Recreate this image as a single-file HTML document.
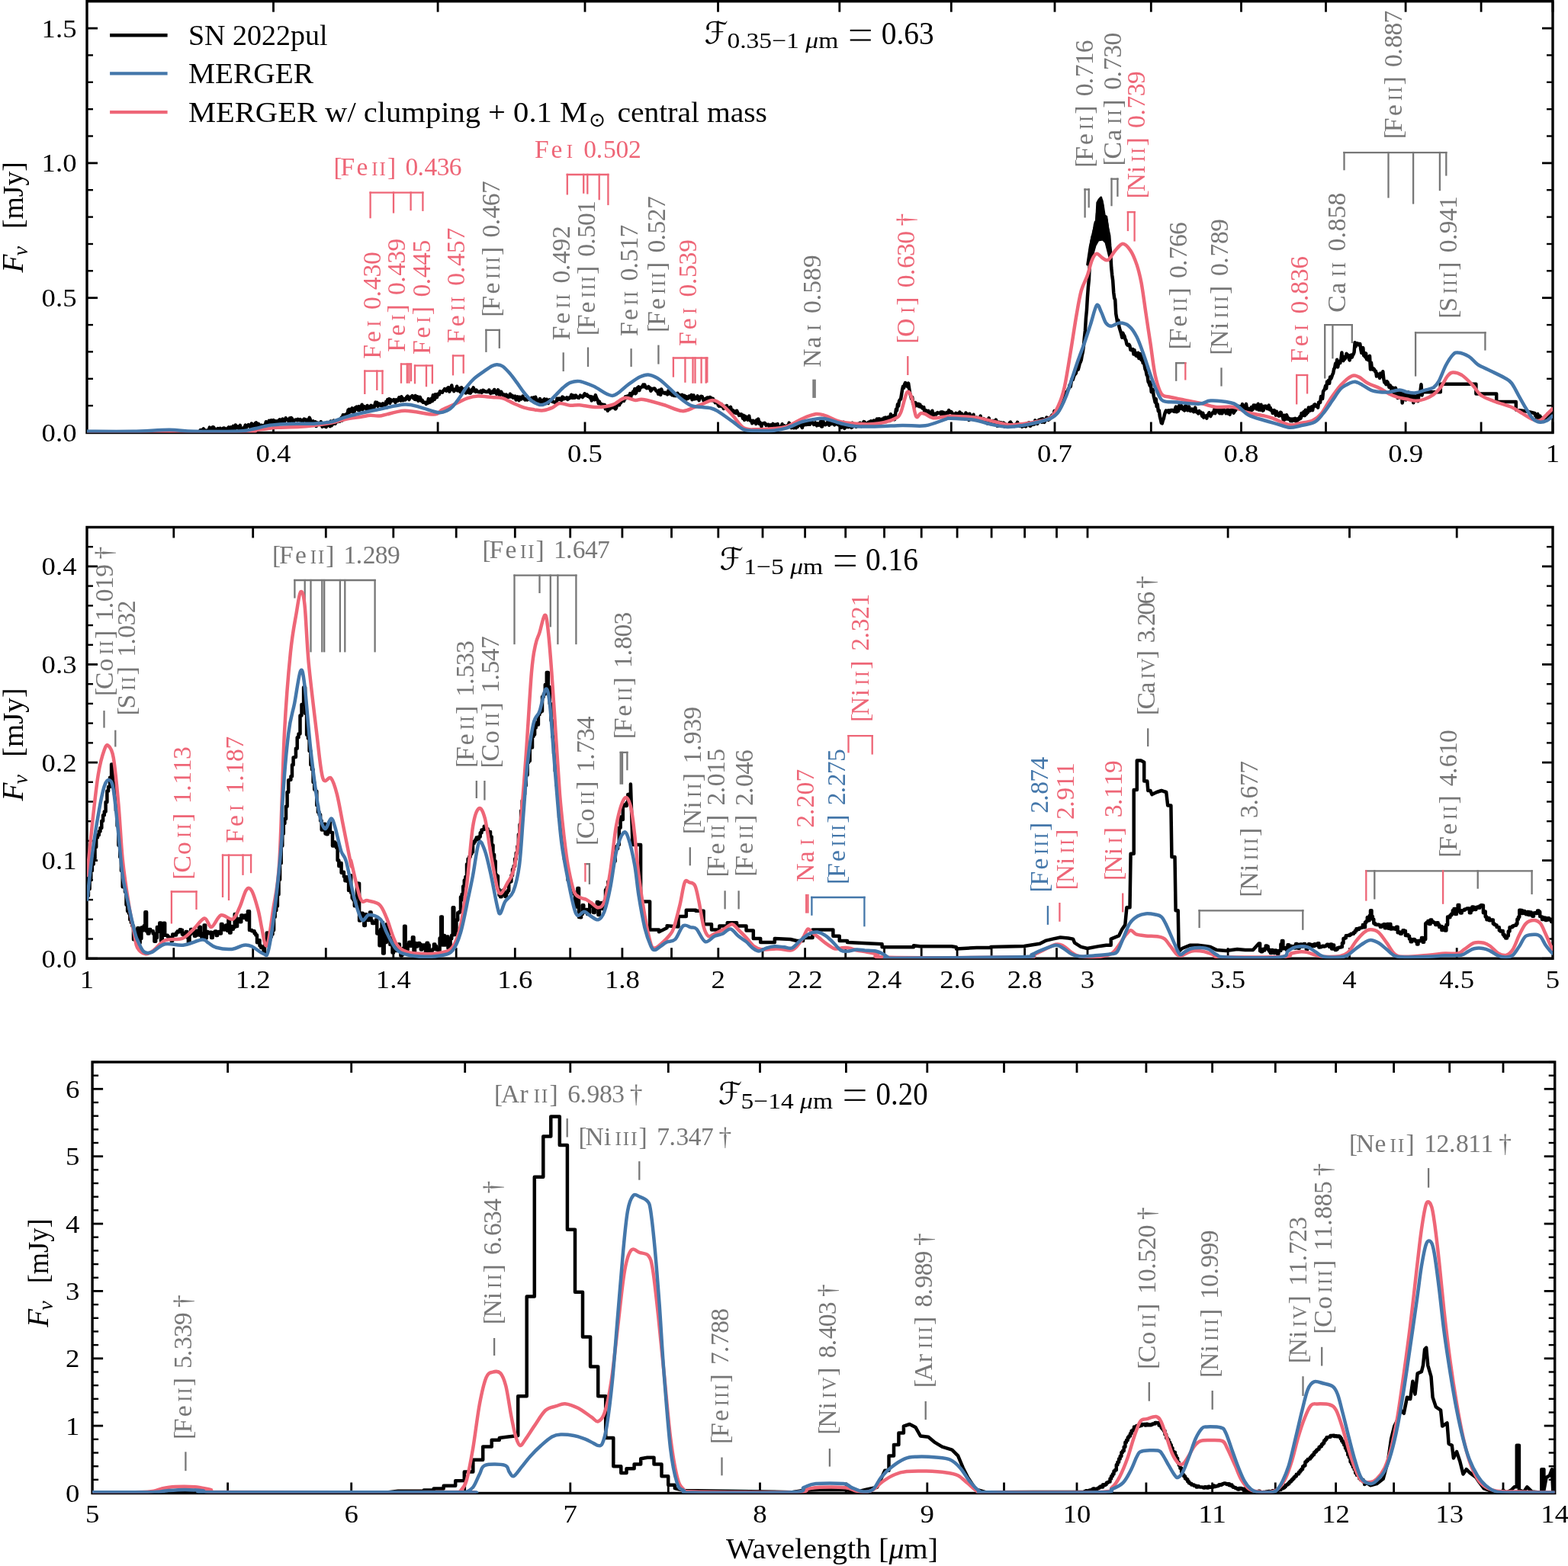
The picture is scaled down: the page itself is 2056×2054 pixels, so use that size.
<!DOCTYPE html><html><head><meta charset="utf-8"><style>html,body{margin:0;padding:0;background:#fff;overflow:hidden}svg{display:block}</style></head><body><svg xmlns="http://www.w3.org/2000/svg" width="2056" height="2054" viewBox="0 0 2056 2054" font-family='"Liberation Serif", "DejaVu Serif", serif'>
<rect width="2056" height="2054" fill="#fff"/>
<line x1="358.5" y1="567.5" x2="358.5" y2="553.5" stroke="#000" stroke-width="2.8"/>
<line x1="358.5" y1="1.7" x2="358.5" y2="15.7" stroke="#000" stroke-width="2.8"/>
<line x1="574.1" y1="567.5" x2="574.1" y2="553.5" stroke="#000" stroke-width="2.8"/>
<line x1="574.1" y1="1.7" x2="574.1" y2="15.7" stroke="#000" stroke-width="2.8"/>
<line x1="767.0" y1="567.5" x2="767.0" y2="553.5" stroke="#000" stroke-width="2.8"/>
<line x1="767.0" y1="1.7" x2="767.0" y2="15.7" stroke="#000" stroke-width="2.8"/>
<line x1="941.5" y1="567.5" x2="941.5" y2="553.5" stroke="#000" stroke-width="2.8"/>
<line x1="941.5" y1="1.7" x2="941.5" y2="15.7" stroke="#000" stroke-width="2.8"/>
<line x1="1100.8" y1="567.5" x2="1100.8" y2="553.5" stroke="#000" stroke-width="2.8"/>
<line x1="1100.8" y1="1.7" x2="1100.8" y2="15.7" stroke="#000" stroke-width="2.8"/>
<line x1="1247.3" y1="567.5" x2="1247.3" y2="553.5" stroke="#000" stroke-width="2.8"/>
<line x1="1247.3" y1="1.7" x2="1247.3" y2="15.7" stroke="#000" stroke-width="2.8"/>
<line x1="1383.0" y1="567.5" x2="1383.0" y2="553.5" stroke="#000" stroke-width="2.8"/>
<line x1="1383.0" y1="1.7" x2="1383.0" y2="15.7" stroke="#000" stroke-width="2.8"/>
<line x1="1509.3" y1="567.5" x2="1509.3" y2="553.5" stroke="#000" stroke-width="2.8"/>
<line x1="1509.3" y1="1.7" x2="1509.3" y2="15.7" stroke="#000" stroke-width="2.8"/>
<line x1="1627.5" y1="567.5" x2="1627.5" y2="553.5" stroke="#000" stroke-width="2.8"/>
<line x1="1627.5" y1="1.7" x2="1627.5" y2="15.7" stroke="#000" stroke-width="2.8"/>
<line x1="1738.5" y1="567.5" x2="1738.5" y2="553.5" stroke="#000" stroke-width="2.8"/>
<line x1="1738.5" y1="1.7" x2="1738.5" y2="15.7" stroke="#000" stroke-width="2.8"/>
<line x1="1843.1" y1="567.5" x2="1843.1" y2="553.5" stroke="#000" stroke-width="2.8"/>
<line x1="1843.1" y1="1.7" x2="1843.1" y2="15.7" stroke="#000" stroke-width="2.8"/>
<line x1="1942.1" y1="567.5" x2="1942.1" y2="553.5" stroke="#000" stroke-width="2.8"/>
<line x1="1942.1" y1="1.7" x2="1942.1" y2="15.7" stroke="#000" stroke-width="2.8"/>
<line x1="2036.0" y1="567.5" x2="2036.0" y2="553.5" stroke="#000" stroke-width="2.8"/>
<line x1="2036.0" y1="1.7" x2="2036.0" y2="15.7" stroke="#000" stroke-width="2.8"/>
<line x1="114.0" y1="567.5" x2="128.0" y2="567.5" stroke="#000" stroke-width="2.8"/>
<line x1="2036.0" y1="567.5" x2="2022.0" y2="567.5" stroke="#000" stroke-width="2.8"/>
<line x1="114.0" y1="390.7" x2="128.0" y2="390.7" stroke="#000" stroke-width="2.8"/>
<line x1="2036.0" y1="390.7" x2="2022.0" y2="390.7" stroke="#000" stroke-width="2.8"/>
<line x1="114.0" y1="213.9" x2="128.0" y2="213.9" stroke="#000" stroke-width="2.8"/>
<line x1="2036.0" y1="213.9" x2="2022.0" y2="213.9" stroke="#000" stroke-width="2.8"/>
<line x1="114.0" y1="37.1" x2="128.0" y2="37.1" stroke="#000" stroke-width="2.8"/>
<line x1="2036.0" y1="37.1" x2="2022.0" y2="37.1" stroke="#000" stroke-width="2.8"/>
<line x1="114.0" y1="532.1" x2="122.0" y2="532.1" stroke="#000" stroke-width="2.4"/>
<line x1="2036.0" y1="532.1" x2="2028.0" y2="532.1" stroke="#000" stroke-width="2.4"/>
<line x1="114.0" y1="496.8" x2="122.0" y2="496.8" stroke="#000" stroke-width="2.4"/>
<line x1="2036.0" y1="496.8" x2="2028.0" y2="496.8" stroke="#000" stroke-width="2.4"/>
<line x1="114.0" y1="461.4" x2="122.0" y2="461.4" stroke="#000" stroke-width="2.4"/>
<line x1="2036.0" y1="461.4" x2="2028.0" y2="461.4" stroke="#000" stroke-width="2.4"/>
<line x1="114.0" y1="426.1" x2="122.0" y2="426.1" stroke="#000" stroke-width="2.4"/>
<line x1="2036.0" y1="426.1" x2="2028.0" y2="426.1" stroke="#000" stroke-width="2.4"/>
<line x1="114.0" y1="355.3" x2="122.0" y2="355.3" stroke="#000" stroke-width="2.4"/>
<line x1="2036.0" y1="355.3" x2="2028.0" y2="355.3" stroke="#000" stroke-width="2.4"/>
<line x1="114.0" y1="320.0" x2="122.0" y2="320.0" stroke="#000" stroke-width="2.4"/>
<line x1="2036.0" y1="320.0" x2="2028.0" y2="320.0" stroke="#000" stroke-width="2.4"/>
<line x1="114.0" y1="284.6" x2="122.0" y2="284.6" stroke="#000" stroke-width="2.4"/>
<line x1="2036.0" y1="284.6" x2="2028.0" y2="284.6" stroke="#000" stroke-width="2.4"/>
<line x1="114.0" y1="249.2" x2="122.0" y2="249.2" stroke="#000" stroke-width="2.4"/>
<line x1="2036.0" y1="249.2" x2="2028.0" y2="249.2" stroke="#000" stroke-width="2.4"/>
<line x1="114.0" y1="178.5" x2="122.0" y2="178.5" stroke="#000" stroke-width="2.4"/>
<line x1="2036.0" y1="178.5" x2="2028.0" y2="178.5" stroke="#000" stroke-width="2.4"/>
<line x1="114.0" y1="143.2" x2="122.0" y2="143.2" stroke="#000" stroke-width="2.4"/>
<line x1="2036.0" y1="143.2" x2="2028.0" y2="143.2" stroke="#000" stroke-width="2.4"/>
<line x1="114.0" y1="107.8" x2="122.0" y2="107.8" stroke="#000" stroke-width="2.4"/>
<line x1="2036.0" y1="107.8" x2="2028.0" y2="107.8" stroke="#000" stroke-width="2.4"/>
<line x1="114.0" y1="72.4" x2="122.0" y2="72.4" stroke="#000" stroke-width="2.4"/>
<line x1="2036.0" y1="72.4" x2="2028.0" y2="72.4" stroke="#000" stroke-width="2.4"/>
<line x1="114.0" y1="1.7" x2="122.0" y2="1.7" stroke="#000" stroke-width="2.4"/>
<line x1="2036.0" y1="1.7" x2="2028.0" y2="1.7" stroke="#000" stroke-width="2.4"/>
<text x="358.5" y="606.0" font-size="34" text-anchor="middle" fill="#000" textLength="45.9" lengthAdjust="spacingAndGlyphs" >0.4</text>
<text x="767.0" y="606.0" font-size="34" text-anchor="middle" fill="#000" textLength="45.9" lengthAdjust="spacingAndGlyphs" >0.5</text>
<text x="1100.8" y="606.0" font-size="34" text-anchor="middle" fill="#000" textLength="45.9" lengthAdjust="spacingAndGlyphs" >0.6</text>
<text x="1383.0" y="606.0" font-size="34" text-anchor="middle" fill="#000" textLength="45.9" lengthAdjust="spacingAndGlyphs" >0.7</text>
<text x="1627.5" y="606.0" font-size="34" text-anchor="middle" fill="#000" textLength="45.9" lengthAdjust="spacingAndGlyphs" >0.8</text>
<text x="1843.1" y="606.0" font-size="34" text-anchor="middle" fill="#000" textLength="45.9" lengthAdjust="spacingAndGlyphs" >0.9</text>
<text x="2036.0" y="606.0" font-size="34" text-anchor="middle" fill="#000" textLength="18.4" lengthAdjust="spacingAndGlyphs" >1</text>
<text x="100.5" y="579.0" font-size="34" text-anchor="end" fill="#000" textLength="45.9" lengthAdjust="spacingAndGlyphs" >0.0</text>
<text x="100.5" y="402.2" font-size="34" text-anchor="end" fill="#000" textLength="45.9" lengthAdjust="spacingAndGlyphs" >0.5</text>
<text x="100.5" y="225.4" font-size="34" text-anchor="end" fill="#000" textLength="45.9" lengthAdjust="spacingAndGlyphs" >1.0</text>
<text x="100.5" y="48.6" font-size="34" text-anchor="end" fill="#000" textLength="45.9" lengthAdjust="spacingAndGlyphs" >1.5</text>
<rect x="114.0" y="1.7" width="1922.0" height="565.8" fill="none" stroke="#000" stroke-width="3.4"/>
<line x1="227.8" y1="1257.2" x2="227.8" y2="1243.2" stroke="#000" stroke-width="2.8"/>
<line x1="227.8" y1="691.5" x2="227.8" y2="705.5" stroke="#000" stroke-width="2.8"/>
<line x1="331.7" y1="1257.2" x2="331.7" y2="1243.2" stroke="#000" stroke-width="2.8"/>
<line x1="331.7" y1="691.5" x2="331.7" y2="705.5" stroke="#000" stroke-width="2.8"/>
<line x1="427.3" y1="1257.2" x2="427.3" y2="1243.2" stroke="#000" stroke-width="2.8"/>
<line x1="427.3" y1="691.5" x2="427.3" y2="705.5" stroke="#000" stroke-width="2.8"/>
<line x1="515.8" y1="1257.2" x2="515.8" y2="1243.2" stroke="#000" stroke-width="2.8"/>
<line x1="515.8" y1="691.5" x2="515.8" y2="705.5" stroke="#000" stroke-width="2.8"/>
<line x1="598.2" y1="1257.2" x2="598.2" y2="1243.2" stroke="#000" stroke-width="2.8"/>
<line x1="598.2" y1="691.5" x2="598.2" y2="705.5" stroke="#000" stroke-width="2.8"/>
<line x1="675.3" y1="1257.2" x2="675.3" y2="1243.2" stroke="#000" stroke-width="2.8"/>
<line x1="675.3" y1="691.5" x2="675.3" y2="705.5" stroke="#000" stroke-width="2.8"/>
<line x1="747.7" y1="1257.2" x2="747.7" y2="1243.2" stroke="#000" stroke-width="2.8"/>
<line x1="747.7" y1="691.5" x2="747.7" y2="705.5" stroke="#000" stroke-width="2.8"/>
<line x1="815.9" y1="1257.2" x2="815.9" y2="1243.2" stroke="#000" stroke-width="2.8"/>
<line x1="815.9" y1="691.5" x2="815.9" y2="705.5" stroke="#000" stroke-width="2.8"/>
<line x1="880.5" y1="1257.2" x2="880.5" y2="1243.2" stroke="#000" stroke-width="2.8"/>
<line x1="880.5" y1="691.5" x2="880.5" y2="705.5" stroke="#000" stroke-width="2.8"/>
<line x1="941.8" y1="1257.2" x2="941.8" y2="1243.2" stroke="#000" stroke-width="2.8"/>
<line x1="941.8" y1="691.5" x2="941.8" y2="705.5" stroke="#000" stroke-width="2.8"/>
<line x1="1000.0" y1="1257.2" x2="1000.0" y2="1243.2" stroke="#000" stroke-width="2.8"/>
<line x1="1000.0" y1="691.5" x2="1000.0" y2="705.5" stroke="#000" stroke-width="2.8"/>
<line x1="1055.6" y1="1257.2" x2="1055.6" y2="1243.2" stroke="#000" stroke-width="2.8"/>
<line x1="1055.6" y1="691.5" x2="1055.6" y2="705.5" stroke="#000" stroke-width="2.8"/>
<line x1="1108.7" y1="1257.2" x2="1108.7" y2="1243.2" stroke="#000" stroke-width="2.8"/>
<line x1="1108.7" y1="691.5" x2="1108.7" y2="705.5" stroke="#000" stroke-width="2.8"/>
<line x1="1159.5" y1="1257.2" x2="1159.5" y2="1243.2" stroke="#000" stroke-width="2.8"/>
<line x1="1159.5" y1="691.5" x2="1159.5" y2="705.5" stroke="#000" stroke-width="2.8"/>
<line x1="1208.2" y1="1257.2" x2="1208.2" y2="1243.2" stroke="#000" stroke-width="2.8"/>
<line x1="1208.2" y1="691.5" x2="1208.2" y2="705.5" stroke="#000" stroke-width="2.8"/>
<line x1="1255.1" y1="1257.2" x2="1255.1" y2="1243.2" stroke="#000" stroke-width="2.8"/>
<line x1="1255.1" y1="691.5" x2="1255.1" y2="705.5" stroke="#000" stroke-width="2.8"/>
<line x1="1300.1" y1="1257.2" x2="1300.1" y2="1243.2" stroke="#000" stroke-width="2.8"/>
<line x1="1300.1" y1="691.5" x2="1300.1" y2="705.5" stroke="#000" stroke-width="2.8"/>
<line x1="1343.6" y1="1257.2" x2="1343.6" y2="1243.2" stroke="#000" stroke-width="2.8"/>
<line x1="1343.6" y1="691.5" x2="1343.6" y2="705.5" stroke="#000" stroke-width="2.8"/>
<line x1="1385.5" y1="1257.2" x2="1385.5" y2="1243.2" stroke="#000" stroke-width="2.8"/>
<line x1="1385.5" y1="691.5" x2="1385.5" y2="705.5" stroke="#000" stroke-width="2.8"/>
<line x1="1426.0" y1="1257.2" x2="1426.0" y2="1243.2" stroke="#000" stroke-width="2.8"/>
<line x1="1426.0" y1="691.5" x2="1426.0" y2="705.5" stroke="#000" stroke-width="2.8"/>
<line x1="1610.1" y1="1257.2" x2="1610.1" y2="1243.2" stroke="#000" stroke-width="2.8"/>
<line x1="1610.1" y1="691.5" x2="1610.1" y2="705.5" stroke="#000" stroke-width="2.8"/>
<line x1="1769.5" y1="1257.2" x2="1769.5" y2="1243.2" stroke="#000" stroke-width="2.8"/>
<line x1="1769.5" y1="691.5" x2="1769.5" y2="705.5" stroke="#000" stroke-width="2.8"/>
<line x1="1910.2" y1="1257.2" x2="1910.2" y2="1243.2" stroke="#000" stroke-width="2.8"/>
<line x1="1910.2" y1="691.5" x2="1910.2" y2="705.5" stroke="#000" stroke-width="2.8"/>
<line x1="114.0" y1="1257.2" x2="128.0" y2="1257.2" stroke="#000" stroke-width="2.8"/>
<line x1="2036.0" y1="1257.2" x2="2022.0" y2="1257.2" stroke="#000" stroke-width="2.8"/>
<line x1="114.0" y1="1128.6" x2="128.0" y2="1128.6" stroke="#000" stroke-width="2.8"/>
<line x1="2036.0" y1="1128.6" x2="2022.0" y2="1128.6" stroke="#000" stroke-width="2.8"/>
<line x1="114.0" y1="1000.1" x2="128.0" y2="1000.1" stroke="#000" stroke-width="2.8"/>
<line x1="2036.0" y1="1000.1" x2="2022.0" y2="1000.1" stroke="#000" stroke-width="2.8"/>
<line x1="114.0" y1="871.5" x2="128.0" y2="871.5" stroke="#000" stroke-width="2.8"/>
<line x1="2036.0" y1="871.5" x2="2022.0" y2="871.5" stroke="#000" stroke-width="2.8"/>
<line x1="114.0" y1="742.9" x2="128.0" y2="742.9" stroke="#000" stroke-width="2.8"/>
<line x1="2036.0" y1="742.9" x2="2022.0" y2="742.9" stroke="#000" stroke-width="2.8"/>
<line x1="114.0" y1="1231.5" x2="122.0" y2="1231.5" stroke="#000" stroke-width="2.4"/>
<line x1="2036.0" y1="1231.5" x2="2028.0" y2="1231.5" stroke="#000" stroke-width="2.4"/>
<line x1="114.0" y1="1205.8" x2="122.0" y2="1205.8" stroke="#000" stroke-width="2.4"/>
<line x1="2036.0" y1="1205.8" x2="2028.0" y2="1205.8" stroke="#000" stroke-width="2.4"/>
<line x1="114.0" y1="1180.1" x2="122.0" y2="1180.1" stroke="#000" stroke-width="2.4"/>
<line x1="2036.0" y1="1180.1" x2="2028.0" y2="1180.1" stroke="#000" stroke-width="2.4"/>
<line x1="114.0" y1="1154.3" x2="122.0" y2="1154.3" stroke="#000" stroke-width="2.4"/>
<line x1="2036.0" y1="1154.3" x2="2028.0" y2="1154.3" stroke="#000" stroke-width="2.4"/>
<line x1="114.0" y1="1102.9" x2="122.0" y2="1102.9" stroke="#000" stroke-width="2.4"/>
<line x1="2036.0" y1="1102.9" x2="2028.0" y2="1102.9" stroke="#000" stroke-width="2.4"/>
<line x1="114.0" y1="1077.2" x2="122.0" y2="1077.2" stroke="#000" stroke-width="2.4"/>
<line x1="2036.0" y1="1077.2" x2="2028.0" y2="1077.2" stroke="#000" stroke-width="2.4"/>
<line x1="114.0" y1="1051.5" x2="122.0" y2="1051.5" stroke="#000" stroke-width="2.4"/>
<line x1="2036.0" y1="1051.5" x2="2028.0" y2="1051.5" stroke="#000" stroke-width="2.4"/>
<line x1="114.0" y1="1025.8" x2="122.0" y2="1025.8" stroke="#000" stroke-width="2.4"/>
<line x1="2036.0" y1="1025.8" x2="2028.0" y2="1025.8" stroke="#000" stroke-width="2.4"/>
<line x1="114.0" y1="974.4" x2="122.0" y2="974.4" stroke="#000" stroke-width="2.4"/>
<line x1="2036.0" y1="974.4" x2="2028.0" y2="974.4" stroke="#000" stroke-width="2.4"/>
<line x1="114.0" y1="948.6" x2="122.0" y2="948.6" stroke="#000" stroke-width="2.4"/>
<line x1="2036.0" y1="948.6" x2="2028.0" y2="948.6" stroke="#000" stroke-width="2.4"/>
<line x1="114.0" y1="922.9" x2="122.0" y2="922.9" stroke="#000" stroke-width="2.4"/>
<line x1="2036.0" y1="922.9" x2="2028.0" y2="922.9" stroke="#000" stroke-width="2.4"/>
<line x1="114.0" y1="897.2" x2="122.0" y2="897.2" stroke="#000" stroke-width="2.4"/>
<line x1="2036.0" y1="897.2" x2="2028.0" y2="897.2" stroke="#000" stroke-width="2.4"/>
<line x1="114.0" y1="845.8" x2="122.0" y2="845.8" stroke="#000" stroke-width="2.4"/>
<line x1="2036.0" y1="845.8" x2="2028.0" y2="845.8" stroke="#000" stroke-width="2.4"/>
<line x1="114.0" y1="820.1" x2="122.0" y2="820.1" stroke="#000" stroke-width="2.4"/>
<line x1="2036.0" y1="820.1" x2="2028.0" y2="820.1" stroke="#000" stroke-width="2.4"/>
<line x1="114.0" y1="794.4" x2="122.0" y2="794.4" stroke="#000" stroke-width="2.4"/>
<line x1="2036.0" y1="794.4" x2="2028.0" y2="794.4" stroke="#000" stroke-width="2.4"/>
<line x1="114.0" y1="768.6" x2="122.0" y2="768.6" stroke="#000" stroke-width="2.4"/>
<line x1="2036.0" y1="768.6" x2="2028.0" y2="768.6" stroke="#000" stroke-width="2.4"/>
<line x1="114.0" y1="717.2" x2="122.0" y2="717.2" stroke="#000" stroke-width="2.4"/>
<line x1="2036.0" y1="717.2" x2="2028.0" y2="717.2" stroke="#000" stroke-width="2.4"/>
<line x1="114.0" y1="691.5" x2="122.0" y2="691.5" stroke="#000" stroke-width="2.4"/>
<line x1="2036.0" y1="691.5" x2="2028.0" y2="691.5" stroke="#000" stroke-width="2.4"/>
<text x="114.0" y="1295.7" font-size="34" text-anchor="middle" fill="#000" textLength="18.4" lengthAdjust="spacingAndGlyphs" >1</text>
<text x="331.7" y="1295.7" font-size="34" text-anchor="middle" fill="#000" textLength="45.9" lengthAdjust="spacingAndGlyphs" >1.2</text>
<text x="515.8" y="1295.7" font-size="34" text-anchor="middle" fill="#000" textLength="45.9" lengthAdjust="spacingAndGlyphs" >1.4</text>
<text x="675.3" y="1295.7" font-size="34" text-anchor="middle" fill="#000" textLength="45.9" lengthAdjust="spacingAndGlyphs" >1.6</text>
<text x="815.9" y="1295.7" font-size="34" text-anchor="middle" fill="#000" textLength="45.9" lengthAdjust="spacingAndGlyphs" >1.8</text>
<text x="941.8" y="1295.7" font-size="34" text-anchor="middle" fill="#000" textLength="18.4" lengthAdjust="spacingAndGlyphs" >2</text>
<text x="1055.6" y="1295.7" font-size="34" text-anchor="middle" fill="#000" textLength="45.9" lengthAdjust="spacingAndGlyphs" >2.2</text>
<text x="1159.5" y="1295.7" font-size="34" text-anchor="middle" fill="#000" textLength="45.9" lengthAdjust="spacingAndGlyphs" >2.4</text>
<text x="1255.1" y="1295.7" font-size="34" text-anchor="middle" fill="#000" textLength="45.9" lengthAdjust="spacingAndGlyphs" >2.6</text>
<text x="1343.6" y="1295.7" font-size="34" text-anchor="middle" fill="#000" textLength="45.9" lengthAdjust="spacingAndGlyphs" >2.8</text>
<text x="1426.0" y="1295.7" font-size="34" text-anchor="middle" fill="#000" textLength="18.4" lengthAdjust="spacingAndGlyphs" >3</text>
<text x="1610.1" y="1295.7" font-size="34" text-anchor="middle" fill="#000" textLength="45.9" lengthAdjust="spacingAndGlyphs" >3.5</text>
<text x="1769.5" y="1295.7" font-size="34" text-anchor="middle" fill="#000" textLength="18.4" lengthAdjust="spacingAndGlyphs" >4</text>
<text x="1910.2" y="1295.7" font-size="34" text-anchor="middle" fill="#000" textLength="45.9" lengthAdjust="spacingAndGlyphs" >4.5</text>
<text x="2036.0" y="1295.7" font-size="34" text-anchor="middle" fill="#000" textLength="18.4" lengthAdjust="spacingAndGlyphs" >5</text>
<text x="100.5" y="1268.7" font-size="34" text-anchor="end" fill="#000" textLength="45.9" lengthAdjust="spacingAndGlyphs" >0.0</text>
<text x="100.5" y="1140.1" font-size="34" text-anchor="end" fill="#000" textLength="45.9" lengthAdjust="spacingAndGlyphs" >0.1</text>
<text x="100.5" y="1011.6" font-size="34" text-anchor="end" fill="#000" textLength="45.9" lengthAdjust="spacingAndGlyphs" >0.2</text>
<text x="100.5" y="883.0" font-size="34" text-anchor="end" fill="#000" textLength="45.9" lengthAdjust="spacingAndGlyphs" >0.3</text>
<text x="100.5" y="754.4" font-size="34" text-anchor="end" fill="#000" textLength="45.9" lengthAdjust="spacingAndGlyphs" >0.4</text>
<rect x="114.0" y="691.5" width="1922.0" height="565.7" fill="none" stroke="#000" stroke-width="3.4"/>
<line x1="298.6" y1="1958.5" x2="298.6" y2="1944.5" stroke="#000" stroke-width="2.8"/>
<line x1="298.6" y1="1393.0" x2="298.6" y2="1407.0" stroke="#000" stroke-width="2.8"/>
<line x1="460.7" y1="1958.5" x2="460.7" y2="1944.5" stroke="#000" stroke-width="2.8"/>
<line x1="460.7" y1="1393.0" x2="460.7" y2="1407.0" stroke="#000" stroke-width="2.8"/>
<line x1="609.7" y1="1958.5" x2="609.7" y2="1944.5" stroke="#000" stroke-width="2.8"/>
<line x1="609.7" y1="1393.0" x2="609.7" y2="1407.0" stroke="#000" stroke-width="2.8"/>
<line x1="747.8" y1="1958.5" x2="747.8" y2="1944.5" stroke="#000" stroke-width="2.8"/>
<line x1="747.8" y1="1393.0" x2="747.8" y2="1407.0" stroke="#000" stroke-width="2.8"/>
<line x1="876.3" y1="1958.5" x2="876.3" y2="1944.5" stroke="#000" stroke-width="2.8"/>
<line x1="876.3" y1="1393.0" x2="876.3" y2="1407.0" stroke="#000" stroke-width="2.8"/>
<line x1="996.5" y1="1958.5" x2="996.5" y2="1944.5" stroke="#000" stroke-width="2.8"/>
<line x1="996.5" y1="1393.0" x2="996.5" y2="1407.0" stroke="#000" stroke-width="2.8"/>
<line x1="1109.4" y1="1958.5" x2="1109.4" y2="1944.5" stroke="#000" stroke-width="2.8"/>
<line x1="1109.4" y1="1393.0" x2="1109.4" y2="1407.0" stroke="#000" stroke-width="2.8"/>
<line x1="1215.8" y1="1958.5" x2="1215.8" y2="1944.5" stroke="#000" stroke-width="2.8"/>
<line x1="1215.8" y1="1393.0" x2="1215.8" y2="1407.0" stroke="#000" stroke-width="2.8"/>
<line x1="1316.5" y1="1958.5" x2="1316.5" y2="1944.5" stroke="#000" stroke-width="2.8"/>
<line x1="1316.5" y1="1393.0" x2="1316.5" y2="1407.0" stroke="#000" stroke-width="2.8"/>
<line x1="1412.0" y1="1958.5" x2="1412.0" y2="1944.5" stroke="#000" stroke-width="2.8"/>
<line x1="1412.0" y1="1393.0" x2="1412.0" y2="1407.0" stroke="#000" stroke-width="2.8"/>
<line x1="1502.9" y1="1958.5" x2="1502.9" y2="1944.5" stroke="#000" stroke-width="2.8"/>
<line x1="1502.9" y1="1393.0" x2="1502.9" y2="1407.0" stroke="#000" stroke-width="2.8"/>
<line x1="1589.6" y1="1958.5" x2="1589.6" y2="1944.5" stroke="#000" stroke-width="2.8"/>
<line x1="1589.6" y1="1393.0" x2="1589.6" y2="1407.0" stroke="#000" stroke-width="2.8"/>
<line x1="1672.3" y1="1958.5" x2="1672.3" y2="1944.5" stroke="#000" stroke-width="2.8"/>
<line x1="1672.3" y1="1393.0" x2="1672.3" y2="1407.0" stroke="#000" stroke-width="2.8"/>
<line x1="1751.6" y1="1958.5" x2="1751.6" y2="1944.5" stroke="#000" stroke-width="2.8"/>
<line x1="1751.6" y1="1393.0" x2="1751.6" y2="1407.0" stroke="#000" stroke-width="2.8"/>
<line x1="1827.6" y1="1958.5" x2="1827.6" y2="1944.5" stroke="#000" stroke-width="2.8"/>
<line x1="1827.6" y1="1393.0" x2="1827.6" y2="1407.0" stroke="#000" stroke-width="2.8"/>
<line x1="1900.7" y1="1958.5" x2="1900.7" y2="1944.5" stroke="#000" stroke-width="2.8"/>
<line x1="1900.7" y1="1393.0" x2="1900.7" y2="1407.0" stroke="#000" stroke-width="2.8"/>
<line x1="1971.0" y1="1958.5" x2="1971.0" y2="1944.5" stroke="#000" stroke-width="2.8"/>
<line x1="1971.0" y1="1393.0" x2="1971.0" y2="1407.0" stroke="#000" stroke-width="2.8"/>
<line x1="121.1" y1="1958.5" x2="135.1" y2="1958.5" stroke="#000" stroke-width="2.8"/>
<line x1="2038.7" y1="1958.5" x2="2024.7" y2="1958.5" stroke="#000" stroke-width="2.8"/>
<line x1="121.1" y1="1870.1" x2="135.1" y2="1870.1" stroke="#000" stroke-width="2.8"/>
<line x1="2038.7" y1="1870.1" x2="2024.7" y2="1870.1" stroke="#000" stroke-width="2.8"/>
<line x1="121.1" y1="1781.8" x2="135.1" y2="1781.8" stroke="#000" stroke-width="2.8"/>
<line x1="2038.7" y1="1781.8" x2="2024.7" y2="1781.8" stroke="#000" stroke-width="2.8"/>
<line x1="121.1" y1="1693.4" x2="135.1" y2="1693.4" stroke="#000" stroke-width="2.8"/>
<line x1="2038.7" y1="1693.4" x2="2024.7" y2="1693.4" stroke="#000" stroke-width="2.8"/>
<line x1="121.1" y1="1605.1" x2="135.1" y2="1605.1" stroke="#000" stroke-width="2.8"/>
<line x1="2038.7" y1="1605.1" x2="2024.7" y2="1605.1" stroke="#000" stroke-width="2.8"/>
<line x1="121.1" y1="1516.7" x2="135.1" y2="1516.7" stroke="#000" stroke-width="2.8"/>
<line x1="2038.7" y1="1516.7" x2="2024.7" y2="1516.7" stroke="#000" stroke-width="2.8"/>
<line x1="121.1" y1="1428.3" x2="135.1" y2="1428.3" stroke="#000" stroke-width="2.8"/>
<line x1="2038.7" y1="1428.3" x2="2024.7" y2="1428.3" stroke="#000" stroke-width="2.8"/>
<line x1="121.1" y1="1940.8" x2="129.1" y2="1940.8" stroke="#000" stroke-width="2.4"/>
<line x1="2038.7" y1="1940.8" x2="2030.7" y2="1940.8" stroke="#000" stroke-width="2.4"/>
<line x1="121.1" y1="1923.2" x2="129.1" y2="1923.2" stroke="#000" stroke-width="2.4"/>
<line x1="2038.7" y1="1923.2" x2="2030.7" y2="1923.2" stroke="#000" stroke-width="2.4"/>
<line x1="121.1" y1="1905.5" x2="129.1" y2="1905.5" stroke="#000" stroke-width="2.4"/>
<line x1="2038.7" y1="1905.5" x2="2030.7" y2="1905.5" stroke="#000" stroke-width="2.4"/>
<line x1="121.1" y1="1887.8" x2="129.1" y2="1887.8" stroke="#000" stroke-width="2.4"/>
<line x1="2038.7" y1="1887.8" x2="2030.7" y2="1887.8" stroke="#000" stroke-width="2.4"/>
<line x1="121.1" y1="1852.5" x2="129.1" y2="1852.5" stroke="#000" stroke-width="2.4"/>
<line x1="2038.7" y1="1852.5" x2="2030.7" y2="1852.5" stroke="#000" stroke-width="2.4"/>
<line x1="121.1" y1="1834.8" x2="129.1" y2="1834.8" stroke="#000" stroke-width="2.4"/>
<line x1="2038.7" y1="1834.8" x2="2030.7" y2="1834.8" stroke="#000" stroke-width="2.4"/>
<line x1="121.1" y1="1817.1" x2="129.1" y2="1817.1" stroke="#000" stroke-width="2.4"/>
<line x1="2038.7" y1="1817.1" x2="2030.7" y2="1817.1" stroke="#000" stroke-width="2.4"/>
<line x1="121.1" y1="1799.5" x2="129.1" y2="1799.5" stroke="#000" stroke-width="2.4"/>
<line x1="2038.7" y1="1799.5" x2="2030.7" y2="1799.5" stroke="#000" stroke-width="2.4"/>
<line x1="121.1" y1="1764.1" x2="129.1" y2="1764.1" stroke="#000" stroke-width="2.4"/>
<line x1="2038.7" y1="1764.1" x2="2030.7" y2="1764.1" stroke="#000" stroke-width="2.4"/>
<line x1="121.1" y1="1746.4" x2="129.1" y2="1746.4" stroke="#000" stroke-width="2.4"/>
<line x1="2038.7" y1="1746.4" x2="2030.7" y2="1746.4" stroke="#000" stroke-width="2.4"/>
<line x1="121.1" y1="1728.8" x2="129.1" y2="1728.8" stroke="#000" stroke-width="2.4"/>
<line x1="2038.7" y1="1728.8" x2="2030.7" y2="1728.8" stroke="#000" stroke-width="2.4"/>
<line x1="121.1" y1="1711.1" x2="129.1" y2="1711.1" stroke="#000" stroke-width="2.4"/>
<line x1="2038.7" y1="1711.1" x2="2030.7" y2="1711.1" stroke="#000" stroke-width="2.4"/>
<line x1="121.1" y1="1675.8" x2="129.1" y2="1675.8" stroke="#000" stroke-width="2.4"/>
<line x1="2038.7" y1="1675.8" x2="2030.7" y2="1675.8" stroke="#000" stroke-width="2.4"/>
<line x1="121.1" y1="1658.1" x2="129.1" y2="1658.1" stroke="#000" stroke-width="2.4"/>
<line x1="2038.7" y1="1658.1" x2="2030.7" y2="1658.1" stroke="#000" stroke-width="2.4"/>
<line x1="121.1" y1="1640.4" x2="129.1" y2="1640.4" stroke="#000" stroke-width="2.4"/>
<line x1="2038.7" y1="1640.4" x2="2030.7" y2="1640.4" stroke="#000" stroke-width="2.4"/>
<line x1="121.1" y1="1622.7" x2="129.1" y2="1622.7" stroke="#000" stroke-width="2.4"/>
<line x1="2038.7" y1="1622.7" x2="2030.7" y2="1622.7" stroke="#000" stroke-width="2.4"/>
<line x1="121.1" y1="1587.4" x2="129.1" y2="1587.4" stroke="#000" stroke-width="2.4"/>
<line x1="2038.7" y1="1587.4" x2="2030.7" y2="1587.4" stroke="#000" stroke-width="2.4"/>
<line x1="121.1" y1="1569.7" x2="129.1" y2="1569.7" stroke="#000" stroke-width="2.4"/>
<line x1="2038.7" y1="1569.7" x2="2030.7" y2="1569.7" stroke="#000" stroke-width="2.4"/>
<line x1="121.1" y1="1552.0" x2="129.1" y2="1552.0" stroke="#000" stroke-width="2.4"/>
<line x1="2038.7" y1="1552.0" x2="2030.7" y2="1552.0" stroke="#000" stroke-width="2.4"/>
<line x1="121.1" y1="1534.4" x2="129.1" y2="1534.4" stroke="#000" stroke-width="2.4"/>
<line x1="2038.7" y1="1534.4" x2="2030.7" y2="1534.4" stroke="#000" stroke-width="2.4"/>
<line x1="121.1" y1="1499.0" x2="129.1" y2="1499.0" stroke="#000" stroke-width="2.4"/>
<line x1="2038.7" y1="1499.0" x2="2030.7" y2="1499.0" stroke="#000" stroke-width="2.4"/>
<line x1="121.1" y1="1481.4" x2="129.1" y2="1481.4" stroke="#000" stroke-width="2.4"/>
<line x1="2038.7" y1="1481.4" x2="2030.7" y2="1481.4" stroke="#000" stroke-width="2.4"/>
<line x1="121.1" y1="1463.7" x2="129.1" y2="1463.7" stroke="#000" stroke-width="2.4"/>
<line x1="2038.7" y1="1463.7" x2="2030.7" y2="1463.7" stroke="#000" stroke-width="2.4"/>
<line x1="121.1" y1="1446.0" x2="129.1" y2="1446.0" stroke="#000" stroke-width="2.4"/>
<line x1="2038.7" y1="1446.0" x2="2030.7" y2="1446.0" stroke="#000" stroke-width="2.4"/>
<line x1="121.1" y1="1410.7" x2="129.1" y2="1410.7" stroke="#000" stroke-width="2.4"/>
<line x1="2038.7" y1="1410.7" x2="2030.7" y2="1410.7" stroke="#000" stroke-width="2.4"/>
<line x1="121.1" y1="1393.0" x2="129.1" y2="1393.0" stroke="#000" stroke-width="2.4"/>
<line x1="2038.7" y1="1393.0" x2="2030.7" y2="1393.0" stroke="#000" stroke-width="2.4"/>
<text x="121.1" y="1997.0" font-size="34" text-anchor="middle" fill="#000" textLength="18.4" lengthAdjust="spacingAndGlyphs" >5</text>
<text x="460.7" y="1997.0" font-size="34" text-anchor="middle" fill="#000" textLength="18.4" lengthAdjust="spacingAndGlyphs" >6</text>
<text x="747.8" y="1997.0" font-size="34" text-anchor="middle" fill="#000" textLength="18.4" lengthAdjust="spacingAndGlyphs" >7</text>
<text x="996.5" y="1997.0" font-size="34" text-anchor="middle" fill="#000" textLength="18.4" lengthAdjust="spacingAndGlyphs" >8</text>
<text x="1215.8" y="1997.0" font-size="34" text-anchor="middle" fill="#000" textLength="18.4" lengthAdjust="spacingAndGlyphs" >9</text>
<text x="1412.0" y="1997.0" font-size="34" text-anchor="middle" fill="#000" textLength="36.7" lengthAdjust="spacingAndGlyphs" >10</text>
<text x="1589.6" y="1997.0" font-size="34" text-anchor="middle" fill="#000" textLength="36.7" lengthAdjust="spacingAndGlyphs" >11</text>
<text x="1751.6" y="1997.0" font-size="34" text-anchor="middle" fill="#000" textLength="36.7" lengthAdjust="spacingAndGlyphs" >12</text>
<text x="1900.7" y="1997.0" font-size="34" text-anchor="middle" fill="#000" textLength="36.7" lengthAdjust="spacingAndGlyphs" >13</text>
<text x="2038.7" y="1997.0" font-size="34" text-anchor="middle" fill="#000" textLength="36.7" lengthAdjust="spacingAndGlyphs" >14</text>
<text x="104.5" y="1970.0" font-size="34" text-anchor="end" fill="#000" textLength="18.4" lengthAdjust="spacingAndGlyphs" >0</text>
<text x="104.5" y="1881.6" font-size="34" text-anchor="end" fill="#000" textLength="18.4" lengthAdjust="spacingAndGlyphs" >1</text>
<text x="104.5" y="1793.3" font-size="34" text-anchor="end" fill="#000" textLength="18.4" lengthAdjust="spacingAndGlyphs" >2</text>
<text x="104.5" y="1704.9" font-size="34" text-anchor="end" fill="#000" textLength="18.4" lengthAdjust="spacingAndGlyphs" >3</text>
<text x="104.5" y="1616.6" font-size="34" text-anchor="end" fill="#000" textLength="18.4" lengthAdjust="spacingAndGlyphs" >4</text>
<text x="104.5" y="1528.2" font-size="34" text-anchor="end" fill="#000" textLength="18.4" lengthAdjust="spacingAndGlyphs" >5</text>
<text x="104.5" y="1439.8" font-size="34" text-anchor="end" fill="#000" textLength="18.4" lengthAdjust="spacingAndGlyphs" >6</text>
<rect x="121.1" y="1393.0" width="1917.6" height="565.5" fill="none" stroke="#000" stroke-width="3.4"/>
<text y="230.4" font-size="33.5" fill="#EE6677"><tspan x="437.5">[</tspan><tspan x="446.5">F</tspan><tspan x="467.6">e</tspan><tspan x="487.3" font-size="24.8">I</tspan><tspan x="497.6" font-size="24.8">I</tspan><tspan x="507.9">]</tspan><tspan x="531.4">0</tspan><tspan x="547.6">.</tspan><tspan x="556.5">4</tspan><tspan x="572.7">3</tspan><tspan x="588.8">6</tspan></text>
<line x1="484.5" y1="252.6" x2="555.5" y2="252.6" stroke="#EE6677" stroke-width="2.3"/>
<line x1="485.6" y1="251.4" x2="485.6" y2="286.3" stroke="#EE6677" stroke-width="2.3"/>
<line x1="516.0" y1="251.4" x2="516.0" y2="279.6" stroke="#EE6677" stroke-width="2.3"/>
<line x1="538.6" y1="251.4" x2="538.6" y2="276.2" stroke="#EE6677" stroke-width="2.3"/>
<line x1="554.4" y1="251.4" x2="554.4" y2="276.9" stroke="#EE6677" stroke-width="2.3"/>
<text y="469.8" font-size="33.5" fill="#EE6677" transform="rotate(-90 498.6 469.8)"><tspan x="497.6">F</tspan><tspan x="519.3">e</tspan><tspan x="539.7" font-size="24.8">I</tspan><tspan x="562.3">0</tspan><tspan x="579.0">.</tspan><tspan x="588.2">4</tspan><tspan x="604.9">3</tspan><tspan x="621.5">0</tspan></text>
<line x1="477.2" y1="486.6" x2="502.6" y2="486.6" stroke="#EE6677" stroke-width="2.3"/>
<line x1="478.3" y1="485.5" x2="478.3" y2="517.0" stroke="#EE6677" stroke-width="2.3"/>
<line x1="494.3" y1="485.5" x2="494.3" y2="511.9" stroke="#EE6677" stroke-width="2.3"/>
<line x1="501.5" y1="485.5" x2="501.5" y2="517.0" stroke="#EE6677" stroke-width="2.3"/>
<text y="460.7" font-size="33.5" fill="#EE6677" transform="rotate(-90 530.9 460.7)"><tspan x="529.9">F</tspan><tspan x="551.0">e</tspan><tspan x="570.8" font-size="24.8">I</tspan><tspan x="581.1">]</tspan><tspan x="604.6">0</tspan><tspan x="620.8">.</tspan><tspan x="629.8">4</tspan><tspan x="645.9">3</tspan><tspan x="662.1">9</tspan></text>
<line x1="524.9" y1="477.5" x2="540.1" y2="477.5" stroke="#EE6677" stroke-width="2.3"/>
<line x1="526.0" y1="476.4" x2="526.0" y2="502.8" stroke="#EE6677" stroke-width="2.3"/>
<line x1="533.8" y1="476.4" x2="533.8" y2="502.8" stroke="#EE6677" stroke-width="2.3"/>
<line x1="536.4" y1="476.4" x2="536.4" y2="502.8" stroke="#EE6677" stroke-width="2.3"/>
<line x1="539.0" y1="476.4" x2="539.0" y2="500.2" stroke="#EE6677" stroke-width="2.3"/>
<text y="463.9" font-size="33.5" fill="#EE6677" transform="rotate(-90 563.6 463.9)"><tspan x="562.6">F</tspan><tspan x="583.9">e</tspan><tspan x="603.8" font-size="24.8">I</tspan><tspan x="614.2">]</tspan><tspan x="637.9">0</tspan><tspan x="654.2">.</tspan><tspan x="663.3">4</tspan><tspan x="679.6">4</tspan><tspan x="695.9">5</tspan></text>
<line x1="542.9" y1="479.5" x2="568.0" y2="479.5" stroke="#EE6677" stroke-width="2.3"/>
<line x1="544.0" y1="478.4" x2="544.0" y2="503.4" stroke="#EE6677" stroke-width="2.3"/>
<line x1="559.0" y1="478.4" x2="559.0" y2="507.3" stroke="#EE6677" stroke-width="2.3"/>
<line x1="566.9" y1="478.4" x2="566.9" y2="503.4" stroke="#EE6677" stroke-width="2.3"/>
<text y="449.0" font-size="33.5" fill="#EE6677" transform="rotate(-90 609.0 449.0)"><tspan x="608.0">F</tspan><tspan x="629.7">e</tspan><tspan x="650.0" font-size="24.8">I</tspan><tspan x="660.7" font-size="24.8">I</tspan><tspan x="683.2">0</tspan><tspan x="699.9">.</tspan><tspan x="709.1">4</tspan><tspan x="725.7">5</tspan><tspan x="742.4">7</tspan></text>
<line x1="592.9" y1="466.5" x2="608.9" y2="466.5" stroke="#EE6677" stroke-width="2.3"/>
<line x1="594.0" y1="465.4" x2="594.0" y2="492.4" stroke="#EE6677" stroke-width="2.3"/>
<line x1="607.7" y1="465.4" x2="607.7" y2="489.8" stroke="#EE6677" stroke-width="2.3"/>
<text y="414.7" font-size="33.5" fill="#777777" transform="rotate(-90 654.6 414.7)"><tspan x="653.6">[</tspan><tspan x="662.6">F</tspan><tspan x="683.7">e</tspan><tspan x="703.4" font-size="24.8">I</tspan><tspan x="713.7" font-size="24.8">I</tspan><tspan x="724.0" font-size="24.8">I</tspan><tspan x="734.3">]</tspan><tspan x="757.8">0</tspan><tspan x="774.0">.</tspan><tspan x="782.9">4</tspan><tspan x="799.1">6</tspan><tspan x="815.2">7</tspan></text>
<line x1="636.2" y1="432.9" x2="655.9" y2="432.9" stroke="#777777" stroke-width="2.3"/>
<line x1="637.4" y1="431.8" x2="637.4" y2="461.9" stroke="#777777" stroke-width="2.3"/>
<line x1="654.8" y1="431.8" x2="654.8" y2="456.9" stroke="#777777" stroke-width="2.3"/>
<text y="206.8" font-size="33.5" fill="#EE6677"><tspan x="701.0">F</tspan><tspan x="722.6">e</tspan><tspan x="742.8" font-size="24.8">I</tspan><tspan x="765.3">0</tspan><tspan x="781.8">.</tspan><tspan x="791.0">5</tspan><tspan x="807.5">0</tspan><tspan x="824.1">2</tspan></text>
<line x1="742.6" y1="229.0" x2="798.5" y2="229.0" stroke="#EE6677" stroke-width="2.3"/>
<line x1="743.8" y1="227.8" x2="743.8" y2="255.5" stroke="#EE6677" stroke-width="2.3"/>
<line x1="765.2" y1="227.8" x2="765.2" y2="253.8" stroke="#EE6677" stroke-width="2.3"/>
<line x1="770.3" y1="227.8" x2="770.3" y2="254.6" stroke="#EE6677" stroke-width="2.3"/>
<line x1="785.7" y1="227.8" x2="785.7" y2="262.3" stroke="#EE6677" stroke-width="2.3"/>
<line x1="797.4" y1="227.8" x2="797.4" y2="269.1" stroke="#EE6677" stroke-width="2.3"/>
<text y="445.2" font-size="33.5" fill="#777777" transform="rotate(-90 747.2 445.2)"><tspan x="746.2">F</tspan><tspan x="767.7">e</tspan><tspan x="787.9" font-size="24.8">I</tspan><tspan x="798.4" font-size="24.8">I</tspan><tspan x="820.9">0</tspan><tspan x="837.3">.</tspan><tspan x="846.5">4</tspan><tspan x="863.0">9</tspan><tspan x="879.5">2</tspan></text>
<line x1="738.7" y1="462.3" x2="738.7" y2="487.1" stroke="#777777" stroke-width="2.3"/>
<text y="439.2" font-size="33.5" fill="#777777" transform="rotate(-90 779.6 439.2)"><tspan x="778.6">[</tspan><tspan x="787.5">F</tspan><tspan x="808.4">e</tspan><tspan x="828.0" font-size="24.8">I</tspan><tspan x="838.2" font-size="24.8">I</tspan><tspan x="848.4" font-size="24.8">I</tspan><tspan x="858.7">]</tspan><tspan x="882.0">0</tspan><tspan x="898.0">.</tspan><tspan x="906.8">5</tspan><tspan x="922.9">0</tspan><tspan x="938.9">1</tspan></text>
<line x1="771.0" y1="455.5" x2="771.0" y2="481.1" stroke="#777777" stroke-width="2.3"/>
<text y="440.1" font-size="33.5" fill="#777777" transform="rotate(-90 836.1 440.1)"><tspan x="835.1">F</tspan><tspan x="856.1">e</tspan><tspan x="875.6" font-size="24.8">I</tspan><tspan x="885.9" font-size="24.8">I</tspan><tspan x="907.7">0</tspan><tspan x="923.7">.</tspan><tspan x="932.6">5</tspan><tspan x="948.6">1</tspan><tspan x="964.6">7</tspan></text>
<line x1="827.6" y1="457.2" x2="827.6" y2="481.1" stroke="#777777" stroke-width="2.3"/>
<text y="435.0" font-size="33.5" fill="#777777" transform="rotate(-90 871.9 435.0)"><tspan x="870.9">[</tspan><tspan x="879.9">F</tspan><tspan x="901.0">e</tspan><tspan x="920.8" font-size="24.8">I</tspan><tspan x="931.1" font-size="24.8">I</tspan><tspan x="941.4" font-size="24.8">I</tspan><tspan x="951.8">]</tspan><tspan x="975.3">0</tspan><tspan x="991.5">.</tspan><tspan x="1000.5">5</tspan><tspan x="1016.6">2</tspan><tspan x="1032.8">7</tspan></text>
<line x1="863.4" y1="452.6" x2="863.4" y2="477.6" stroke="#777777" stroke-width="2.3"/>
<text y="452.9" font-size="33.5" fill="#EE6677" transform="rotate(-90 913.0 452.9)"><tspan x="912.0">F</tspan><tspan x="933.6">e</tspan><tspan x="953.8" font-size="24.8">I</tspan><tspan x="976.3">0</tspan><tspan x="992.8">.</tspan><tspan x="1002.0">5</tspan><tspan x="1018.5">3</tspan><tspan x="1035.1">9</tspan></text>
<line x1="881.8" y1="469.5" x2="928.4" y2="469.5" stroke="#EE6677" stroke-width="2.3"/>
<line x1="882.9" y1="468.4" x2="882.9" y2="494.7" stroke="#EE6677" stroke-width="2.3"/>
<line x1="898.4" y1="468.4" x2="898.4" y2="501.8" stroke="#EE6677" stroke-width="2.3"/>
<line x1="908.5" y1="468.4" x2="908.5" y2="502.8" stroke="#EE6677" stroke-width="2.3"/>
<line x1="911.5" y1="468.4" x2="911.5" y2="502.8" stroke="#EE6677" stroke-width="2.3"/>
<line x1="919.6" y1="468.4" x2="919.6" y2="502.8" stroke="#EE6677" stroke-width="2.3"/>
<line x1="925.7" y1="468.4" x2="925.7" y2="502.8" stroke="#EE6677" stroke-width="2.3"/>
<line x1="927.3" y1="468.4" x2="927.3" y2="501.8" stroke="#EE6677" stroke-width="2.3"/>
<text y="480.8" font-size="33.5" fill="#777777" transform="rotate(-90 1076.0 480.8)"><tspan x="1075.0">N</tspan><tspan x="1100.3">a</tspan><tspan x="1122.8" font-size="24.8">I</tspan><tspan x="1145.7">0</tspan><tspan x="1162.6">.</tspan><tspan x="1172.0">5</tspan><tspan x="1188.9">8</tspan><tspan x="1205.7">9</tspan></text>
<line x1="1066.5" y1="497.7" x2="1066.5" y2="521.9" stroke="#777777" stroke-width="2.3"/>
<line x1="1068.6" y1="497.7" x2="1068.6" y2="521.9" stroke="#777777" stroke-width="2.3"/>
<text y="449.7" font-size="33.5" fill="#EE6677" transform="rotate(-90 1199.0 449.7)"><tspan x="1198.0">[</tspan><tspan x="1207.0">O</tspan><tspan x="1237.6" font-size="24.8">I</tspan><tspan x="1247.9">]</tspan><tspan x="1271.5">0</tspan><tspan x="1287.6">.</tspan><tspan x="1296.6">6</tspan><tspan x="1312.8">3</tspan><tspan x="1329.0">0</tspan><tspan x="1352.3">†</tspan></text>
<line x1="1190.3" y1="467.1" x2="1190.3" y2="492.0" stroke="#EE6677" stroke-width="2.3"/>
<text y="218.8" font-size="33.5" fill="#777777" transform="rotate(-90 1433.3 218.8)"><tspan x="1432.3">[</tspan><tspan x="1441.3">F</tspan><tspan x="1462.2">e</tspan><tspan x="1481.9" font-size="24.8">I</tspan><tspan x="1492.1" font-size="24.8">I</tspan><tspan x="1502.4">]</tspan><tspan x="1525.8">0</tspan><tspan x="1541.8">.</tspan><tspan x="1550.8">7</tspan><tspan x="1566.8">1</tspan><tspan x="1582.9">6</tspan></text>
<line x1="1421.4" y1="248.5" x2="1428.9" y2="248.5" stroke="#777777" stroke-width="2.3"/>
<line x1="1422.6" y1="247.3" x2="1422.6" y2="285.5" stroke="#777777" stroke-width="2.3"/>
<line x1="1427.7" y1="247.3" x2="1427.7" y2="272.4" stroke="#777777" stroke-width="2.3"/>
<text y="216.6" font-size="33.5" fill="#777777" transform="rotate(-90 1469.6 216.6)"><tspan x="1468.6">[</tspan><tspan x="1477.7">C</tspan><tspan x="1501.5">a</tspan><tspan x="1523.4" font-size="24.8">I</tspan><tspan x="1533.9" font-size="24.8">I</tspan><tspan x="1544.4">]</tspan><tspan x="1568.4">0</tspan><tspan x="1584.8">.</tspan><tspan x="1594.0">7</tspan><tspan x="1610.4">3</tspan><tspan x="1626.8">0</tspan></text>
<line x1="1456.3" y1="234.7" x2="1466.6" y2="234.7" stroke="#777777" stroke-width="2.3"/>
<line x1="1457.5" y1="233.5" x2="1457.5" y2="270.3" stroke="#777777" stroke-width="2.3"/>
<line x1="1465.4" y1="233.5" x2="1465.4" y2="257.9" stroke="#777777" stroke-width="2.3"/>
<text y="259.4" font-size="33.5" fill="#EE6677" transform="rotate(-90 1501.3 259.4)"><tspan x="1500.3">[</tspan><tspan x="1509.4">N</tspan><tspan x="1533.8">i</tspan><tspan x="1548.3" font-size="24.8">I</tspan><tspan x="1558.7" font-size="24.8">I</tspan><tspan x="1569.1">]</tspan><tspan x="1592.8">0</tspan><tspan x="1609.1">.</tspan><tspan x="1618.1">7</tspan><tspan x="1634.4">3</tspan><tspan x="1650.7">9</tspan></text>
<line x1="1477.8" y1="278.2" x2="1488.8" y2="278.2" stroke="#EE6677" stroke-width="2.3"/>
<line x1="1478.9" y1="277.1" x2="1478.9" y2="303.1" stroke="#EE6677" stroke-width="2.3"/>
<line x1="1487.6" y1="277.1" x2="1487.6" y2="316.6" stroke="#EE6677" stroke-width="2.3"/>
<text y="457.4" font-size="33.5" fill="#777777" transform="rotate(-90 1556.2 457.4)"><tspan x="1555.2">[</tspan><tspan x="1564.1">F</tspan><tspan x="1585.1">e</tspan><tspan x="1604.7" font-size="24.8">I</tspan><tspan x="1614.9" font-size="24.8">I</tspan><tspan x="1625.2">]</tspan><tspan x="1648.5">0</tspan><tspan x="1664.5">.</tspan><tspan x="1673.5">7</tspan><tspan x="1689.5">6</tspan><tspan x="1705.5">6</tspan></text>
<line x1="1541.0" y1="476.2" x2="1555.5" y2="476.2" stroke="#777777" stroke-width="2.3"/>
<line x1="1542.2" y1="475.1" x2="1542.2" y2="499.8" stroke="#777777" stroke-width="2.3"/>
<line x1="1553.0" y1="475.1" x2="1553.0" y2="476.2" stroke="#777777" stroke-width="2.3"/>
<line x1="1554.3" y1="475.1" x2="1554.3" y2="498.5" stroke="#EE6677" stroke-width="2.3"/>
<text y="464.8" font-size="33.5" fill="#777777" transform="rotate(-90 1610.1 464.8)"><tspan x="1609.1">[</tspan><tspan x="1618.2">N</tspan><tspan x="1642.9">i</tspan><tspan x="1657.5" font-size="24.8">I</tspan><tspan x="1667.9" font-size="24.8">I</tspan><tspan x="1678.4" font-size="24.8">I</tspan><tspan x="1688.9">]</tspan><tspan x="1712.8">0</tspan><tspan x="1729.2">.</tspan><tspan x="1738.3">7</tspan><tspan x="1754.8">8</tspan><tspan x="1771.2">9</tspan></text>
<line x1="1601.5" y1="482.3" x2="1601.5" y2="506.6" stroke="#777777" stroke-width="2.3"/>
<text y="474.8" font-size="33.5" fill="#EE6677" transform="rotate(-90 1715.3 474.8)"><tspan x="1714.3">F</tspan><tspan x="1735.9">e</tspan><tspan x="1756.1" font-size="24.8">I</tspan><tspan x="1778.6">0</tspan><tspan x="1795.2">.</tspan><tspan x="1804.4">8</tspan><tspan x="1820.9">3</tspan><tspan x="1837.4">6</tspan></text>
<line x1="1699.0" y1="492.0" x2="1715.2" y2="492.0" stroke="#EE6677" stroke-width="2.3"/>
<line x1="1700.2" y1="490.9" x2="1700.2" y2="530.4" stroke="#EE6677" stroke-width="2.3"/>
<line x1="1714.1" y1="490.9" x2="1714.1" y2="516.5" stroke="#EE6677" stroke-width="2.3"/>
<text y="408.8" font-size="33.5" fill="#777777" transform="rotate(-90 1763.8 408.8)"><tspan x="1762.8">C</tspan><tspan x="1787.1">a</tspan><tspan x="1809.5" font-size="24.8">I</tspan><tspan x="1820.3" font-size="24.8">I</tspan><tspan x="1843.1">0</tspan><tspan x="1860.0">.</tspan><tspan x="1869.3">8</tspan><tspan x="1886.2">5</tspan><tspan x="1903.0">8</tspan></text>
<line x1="1736.0" y1="426.2" x2="1774.0" y2="426.2" stroke="#777777" stroke-width="2.3"/>
<line x1="1737.2" y1="425.1" x2="1737.2" y2="496.5" stroke="#777777" stroke-width="2.3"/>
<line x1="1747.4" y1="425.1" x2="1747.4" y2="470.4" stroke="#777777" stroke-width="2.3"/>
<line x1="1772.8" y1="425.1" x2="1772.8" y2="450.1" stroke="#777777" stroke-width="2.3"/>
<text y="181.3" font-size="33.5" fill="#777777" transform="rotate(-90 1838.3 181.3)"><tspan x="1837.3">[</tspan><tspan x="1846.3">F</tspan><tspan x="1867.5">e</tspan><tspan x="1887.3" font-size="24.8">I</tspan><tspan x="1897.6" font-size="24.8">I</tspan><tspan x="1908.0">]</tspan><tspan x="1931.6">0</tspan><tspan x="1947.8">.</tspan><tspan x="1956.8">8</tspan><tspan x="1973.0">8</tspan><tspan x="1989.2">7</tspan></text>
<line x1="1761.3" y1="200.1" x2="1897.5" y2="200.1" stroke="#777777" stroke-width="2.3"/>
<line x1="1762.5" y1="198.9" x2="1762.5" y2="223.3" stroke="#777777" stroke-width="2.3"/>
<line x1="1820.5" y1="198.9" x2="1820.5" y2="259.6" stroke="#777777" stroke-width="2.3"/>
<line x1="1853.1" y1="198.9" x2="1853.1" y2="267.6" stroke="#777777" stroke-width="2.3"/>
<line x1="1887.9" y1="198.9" x2="1887.9" y2="250.2" stroke="#777777" stroke-width="2.3"/>
<line x1="1896.3" y1="198.9" x2="1896.3" y2="230.6" stroke="#777777" stroke-width="2.3"/>
<text y="416.8" font-size="33.5" fill="#777777" transform="rotate(-90 1910.2 416.8)"><tspan x="1909.2">[</tspan><tspan x="1918.2">S</tspan><tspan x="1941.5" font-size="24.8">I</tspan><tspan x="1951.7" font-size="24.8">I</tspan><tspan x="1962.0" font-size="24.8">I</tspan><tspan x="1972.3">]</tspan><tspan x="1995.8">0</tspan><tspan x="2011.9">.</tspan><tspan x="2020.8">9</tspan><tspan x="2036.9">4</tspan><tspan x="2053.1">1</tspan></text>
<line x1="1854.9" y1="436.4" x2="1948.6" y2="436.4" stroke="#777777" stroke-width="2.3"/>
<line x1="1856.1" y1="435.2" x2="1856.1" y2="493.6" stroke="#777777" stroke-width="2.3"/>
<line x1="1947.4" y1="435.2" x2="1947.4" y2="459.6" stroke="#777777" stroke-width="2.3"/>
<text y="911.9" font-size="33.5" fill="#777777" transform="rotate(-90 148.0 911.9)"><tspan x="147.0">[</tspan><tspan x="156.0">C</tspan><tspan x="179.5">o</tspan><tspan x="201.1" font-size="24.8">I</tspan><tspan x="211.5" font-size="24.8">I</tspan><tspan x="221.9">]</tspan><tspan x="245.5">1</tspan><tspan x="261.7">.</tspan><tspan x="270.7">0</tspan><tspan x="287.0">1</tspan><tspan x="303.2">9</tspan><tspan x="326.5">†</tspan></text>
<line x1="136.5" y1="932.1" x2="136.5" y2="954.6" stroke="#777777" stroke-width="2.3"/>
<text y="937.4" font-size="33.5" fill="#777777" transform="rotate(-90 177.5 937.4)"><tspan x="176.5">[</tspan><tspan x="185.5">S</tspan><tspan x="208.9" font-size="24.8">I</tspan><tspan x="219.2" font-size="24.8">I</tspan><tspan x="229.5">]</tspan><tspan x="253.1">1</tspan><tspan x="269.3">.</tspan><tspan x="278.2">0</tspan><tspan x="294.4">3</tspan><tspan x="310.6">2</tspan></text>
<line x1="151.3" y1="957.7" x2="151.3" y2="979.5" stroke="#777777" stroke-width="2.3"/>
<text y="1152.7" font-size="33.5" fill="#EE6677" transform="rotate(-90 249.8 1152.7)"><tspan x="248.8">[</tspan><tspan x="257.9">C</tspan><tspan x="281.6">o</tspan><tspan x="303.5" font-size="24.8">I</tspan><tspan x="313.9" font-size="24.8">I</tspan><tspan x="324.4">]</tspan><tspan x="348.3">1</tspan><tspan x="364.7">.</tspan><tspan x="373.8">1</tspan><tspan x="390.2">1</tspan><tspan x="406.6">3</tspan></text>
<line x1="223.8" y1="1169.5" x2="258.6" y2="1169.5" stroke="#EE6677" stroke-width="2.3"/>
<line x1="224.9" y1="1168.3" x2="224.9" y2="1211.5" stroke="#EE6677" stroke-width="2.3"/>
<line x1="257.5" y1="1168.3" x2="257.5" y2="1193.0" stroke="#EE6677" stroke-width="2.3"/>
<text y="1104.8" font-size="33.5" fill="#EE6677" transform="rotate(-90 319.0 1104.8)"><tspan x="318.0">F</tspan><tspan x="339.7">e</tspan><tspan x="359.9" font-size="24.8">I</tspan><tspan x="382.5">1</tspan><tspan x="399.0">.</tspan><tspan x="408.2">1</tspan><tspan x="424.8">8</tspan><tspan x="441.4">7</tspan></text>
<line x1="290.9" y1="1121.6" x2="330.2" y2="1121.6" stroke="#EE6677" stroke-width="2.3"/>
<line x1="292.0" y1="1120.4" x2="292.0" y2="1177.0" stroke="#EE6677" stroke-width="2.3"/>
<line x1="300.0" y1="1120.4" x2="300.0" y2="1181.0" stroke="#EE6677" stroke-width="2.3"/>
<line x1="318.5" y1="1120.4" x2="318.5" y2="1147.9" stroke="#EE6677" stroke-width="2.3"/>
<line x1="329.1" y1="1120.4" x2="329.1" y2="1145.2" stroke="#EE6677" stroke-width="2.3"/>
<text y="738.8" font-size="33.5" fill="#777777"><tspan x="357.0">[</tspan><tspan x="366.0">F</tspan><tspan x="387.0">e</tspan><tspan x="406.7" font-size="24.8">I</tspan><tspan x="416.9" font-size="24.8">I</tspan><tspan x="427.2">]</tspan><tspan x="450.6">1</tspan><tspan x="466.7">.</tspan><tspan x="475.7">2</tspan><tspan x="491.8">8</tspan><tspan x="507.9">9</tspan></text>
<line x1="385.2" y1="761.0" x2="492.8" y2="761.0" stroke="#777777" stroke-width="2.3"/>
<line x1="386.4" y1="759.9" x2="386.4" y2="784.6" stroke="#777777" stroke-width="2.3"/>
<line x1="399.7" y1="759.9" x2="399.7" y2="791.4" stroke="#777777" stroke-width="2.3"/>
<line x1="407.5" y1="759.9" x2="407.5" y2="855.4" stroke="#777777" stroke-width="2.3"/>
<line x1="422.3" y1="759.9" x2="422.3" y2="855.4" stroke="#777777" stroke-width="2.3"/>
<line x1="425.2" y1="759.9" x2="425.2" y2="855.4" stroke="#777777" stroke-width="2.3"/>
<line x1="445.9" y1="759.9" x2="445.9" y2="855.4" stroke="#777777" stroke-width="2.3"/>
<line x1="452.3" y1="759.9" x2="452.3" y2="855.4" stroke="#777777" stroke-width="2.3"/>
<line x1="491.6" y1="759.9" x2="491.6" y2="855.4" stroke="#777777" stroke-width="2.3"/>
<text y="1006.0" font-size="33.5" fill="#777777" transform="rotate(-90 620.5 1006.0)"><tspan x="619.5">[</tspan><tspan x="628.4">F</tspan><tspan x="649.3">e</tspan><tspan x="668.9" font-size="24.8">I</tspan><tspan x="679.2" font-size="24.8">I</tspan><tspan x="689.4">]</tspan><tspan x="712.7">1</tspan><tspan x="728.7">.</tspan><tspan x="737.6">5</tspan><tspan x="753.6">3</tspan><tspan x="769.6">3</tspan></text>
<line x1="624.8" y1="1024.0" x2="624.8" y2="1047.0" stroke="#777777" stroke-width="2.3"/>
<text y="1006.6" font-size="33.5" fill="#777777" transform="rotate(-90 654.5 1006.6)"><tspan x="653.5">[</tspan><tspan x="662.6">C</tspan><tspan x="686.1">o</tspan><tspan x="707.8" font-size="24.8">I</tspan><tspan x="718.2" font-size="24.8">I</tspan><tspan x="728.6">]</tspan><tspan x="752.3">1</tspan><tspan x="768.6">.</tspan><tspan x="777.6">5</tspan><tspan x="793.9">4</tspan><tspan x="810.2">7</tspan></text>
<line x1="635.4" y1="1024.0" x2="635.4" y2="1049.5" stroke="#777777" stroke-width="2.3"/>
<text y="731.9" font-size="33.5" fill="#777777"><tspan x="632.5">[</tspan><tspan x="641.5">F</tspan><tspan x="662.4">e</tspan><tspan x="682.0" font-size="24.8">I</tspan><tspan x="692.3" font-size="24.8">I</tspan><tspan x="702.5">]</tspan><tspan x="725.9">1</tspan><tspan x="741.9">.</tspan><tspan x="750.8">6</tspan><tspan x="766.9">4</tspan><tspan x="782.9">7</tspan></text>
<line x1="673.4" y1="754.7" x2="756.5" y2="754.7" stroke="#777777" stroke-width="2.3"/>
<line x1="674.5" y1="753.6" x2="674.5" y2="845.2" stroke="#777777" stroke-width="2.3"/>
<line x1="707.5" y1="753.6" x2="707.5" y2="778.0" stroke="#777777" stroke-width="2.3"/>
<line x1="721.8" y1="753.6" x2="721.8" y2="822.4" stroke="#777777" stroke-width="2.3"/>
<line x1="731.4" y1="753.6" x2="731.4" y2="845.2" stroke="#777777" stroke-width="2.3"/>
<line x1="755.4" y1="753.6" x2="755.4" y2="845.2" stroke="#777777" stroke-width="2.3"/>
<text y="1108.0" font-size="33.5" fill="#777777" transform="rotate(-90 778.5 1108.0)"><tspan x="777.5">[</tspan><tspan x="786.4">C</tspan><tspan x="809.3">o</tspan><tspan x="830.5" font-size="24.8">I</tspan><tspan x="840.6" font-size="24.8">I</tspan><tspan x="850.7">]</tspan><tspan x="873.8">1</tspan><tspan x="889.7">.</tspan><tspan x="898.5">7</tspan><tspan x="914.4">3</tspan><tspan x="930.3">4</tspan></text>
<line x1="766.2" y1="1133.2" x2="774.0" y2="1133.2" stroke="#777777" stroke-width="2.3"/>
<line x1="767.4" y1="1132.0" x2="767.4" y2="1156.6" stroke="#EE6677" stroke-width="2.3"/>
<line x1="772.9" y1="1132.0" x2="772.9" y2="1159.9" stroke="#777777" stroke-width="2.3"/>
<text y="968.2" font-size="33.5" fill="#777777" transform="rotate(-90 828.0 968.2)"><tspan x="827.0">[</tspan><tspan x="835.9">F</tspan><tspan x="856.8">e</tspan><tspan x="876.3" font-size="24.8">I</tspan><tspan x="886.5" font-size="24.8">I</tspan><tspan x="896.7">]</tspan><tspan x="920.0">1</tspan><tspan x="936.0">.</tspan><tspan x="944.8">8</tspan><tspan x="960.8">0</tspan><tspan x="976.8">3</tspan></text>
<line x1="812.6" y1="986.9" x2="823.5" y2="986.9" stroke="#777777" stroke-width="2.3"/>
<line x1="813.7" y1="985.8" x2="813.7" y2="1028.8" stroke="#777777" stroke-width="2.3"/>
<line x1="816.0" y1="985.8" x2="816.0" y2="1028.8" stroke="#777777" stroke-width="2.3"/>
<line x1="822.4" y1="985.8" x2="822.4" y2="1010.3" stroke="#777777" stroke-width="2.3"/>
<text y="1093.2" font-size="33.5" fill="#777777" transform="rotate(-90 918.7 1093.2)"><tspan x="917.7">[</tspan><tspan x="926.8">N</tspan><tspan x="951.3">i</tspan><tspan x="965.8" font-size="24.8">I</tspan><tspan x="976.3" font-size="24.8">I</tspan><tspan x="986.7">]</tspan><tspan x="1010.5">1</tspan><tspan x="1026.8">.</tspan><tspan x="1035.9">9</tspan><tspan x="1052.2">3</tspan><tspan x="1068.5">9</tspan></text>
<line x1="904.8" y1="1111.3" x2="904.8" y2="1135.3" stroke="#777777" stroke-width="2.3"/>
<text y="1149.6" font-size="33.5" fill="#777777" transform="rotate(-90 949.6 1149.6)"><tspan x="948.6">[</tspan><tspan x="957.6">F</tspan><tspan x="978.8">e</tspan><tspan x="998.6" font-size="24.8">I</tspan><tspan x="1008.9" font-size="24.8">I</tspan><tspan x="1019.2">]</tspan><tspan x="1042.8">2</tspan><tspan x="1059.0">.</tspan><tspan x="1068.0">0</tspan><tspan x="1084.2">1</tspan><tspan x="1100.4">5</tspan></text>
<line x1="950.6" y1="1168.3" x2="950.6" y2="1192.4" stroke="#777777" stroke-width="2.3"/>
<text y="1148.8" font-size="33.5" fill="#777777" transform="rotate(-90 987.2 1148.8)"><tspan x="986.2">[</tspan><tspan x="995.1">F</tspan><tspan x="1016.0">e</tspan><tspan x="1035.5" font-size="24.8">I</tspan><tspan x="1045.7" font-size="24.8">I</tspan><tspan x="1055.9">]</tspan><tspan x="1079.1">2</tspan><tspan x="1095.1">.</tspan><tspan x="1104.0">0</tspan><tspan x="1119.9">4</tspan><tspan x="1135.9">6</tspan></text>
<line x1="968.6" y1="1168.3" x2="968.6" y2="1192.4" stroke="#777777" stroke-width="2.3"/>
<text y="1155.7" font-size="33.5" fill="#EE6677" transform="rotate(-90 1066.6 1155.7)"><tspan x="1065.6">N</tspan><tspan x="1091.0">a</tspan><tspan x="1113.5" font-size="24.8">I</tspan><tspan x="1136.5">2</tspan><tspan x="1153.4">.</tspan><tspan x="1162.8">2</tspan><tspan x="1179.8">0</tspan><tspan x="1196.7">7</tspan></text>
<line x1="1057.2" y1="1172.9" x2="1057.2" y2="1197.7" stroke="#EE6677" stroke-width="2.3"/>
<line x1="1059.4" y1="1172.9" x2="1059.4" y2="1197.7" stroke="#EE6677" stroke-width="2.3"/>
<text y="1159.1" font-size="33.5" fill="#4477AA" transform="rotate(-90 1108.0 1159.1)"><tspan x="1107.0">[</tspan><tspan x="1116.0">F</tspan><tspan x="1137.0">e</tspan><tspan x="1156.6" font-size="24.8">I</tspan><tspan x="1166.9" font-size="24.8">I</tspan><tspan x="1177.1" font-size="24.8">I</tspan><tspan x="1187.4">]</tspan><tspan x="1210.8">2</tspan><tspan x="1226.9">.</tspan><tspan x="1235.8">2</tspan><tspan x="1251.9">7</tspan><tspan x="1268.0">5</tspan></text>
<line x1="1063.2" y1="1177.0" x2="1134.6" y2="1177.0" stroke="#4477AA" stroke-width="2.3"/>
<line x1="1064.4" y1="1175.8" x2="1064.4" y2="1200.8" stroke="#4477AA" stroke-width="2.3"/>
<line x1="1133.4" y1="1175.8" x2="1133.4" y2="1215.3" stroke="#4477AA" stroke-width="2.3"/>
<text y="946.1" font-size="33.5" fill="#EE6677" transform="rotate(-90 1139.2 946.1)"><tspan x="1138.2">[</tspan><tspan x="1147.3">N</tspan><tspan x="1172.0">i</tspan><tspan x="1186.6" font-size="24.8">I</tspan><tspan x="1197.1" font-size="24.8">I</tspan><tspan x="1207.6">]</tspan><tspan x="1231.5">2</tspan><tspan x="1247.9">.</tspan><tspan x="1257.0">3</tspan><tspan x="1273.4">2</tspan><tspan x="1289.9">1</tspan></text>
<line x1="1111.3" y1="965.1" x2="1144.9" y2="965.1" stroke="#EE6677" stroke-width="2.3"/>
<line x1="1112.5" y1="964.0" x2="1112.5" y2="987.4" stroke="#EE6677" stroke-width="2.3"/>
<line x1="1143.7" y1="964.0" x2="1143.7" y2="989.6" stroke="#EE6677" stroke-width="2.3"/>
<text y="1169.5" font-size="33.5" fill="#4477AA" transform="rotate(-90 1373.6 1169.5)"><tspan x="1372.6">[</tspan><tspan x="1381.6">F</tspan><tspan x="1402.5">e</tspan><tspan x="1422.2" font-size="24.8">I</tspan><tspan x="1432.4" font-size="24.8">I</tspan><tspan x="1442.7" font-size="24.8">I</tspan><tspan x="1453.0">]</tspan><tspan x="1476.4">2</tspan><tspan x="1492.4">.</tspan><tspan x="1501.4">8</tspan><tspan x="1517.4">7</tspan><tspan x="1533.5">4</tspan></text>
<line x1="1373.9" y1="1188.1" x2="1373.9" y2="1212.9" stroke="#4477AA" stroke-width="2.3"/>
<text y="1166.4" font-size="33.5" fill="#EE6677" transform="rotate(-90 1407.6 1166.4)"><tspan x="1406.6">[</tspan><tspan x="1415.7">N</tspan><tspan x="1440.1">i</tspan><tspan x="1454.5" font-size="24.8">I</tspan><tspan x="1464.9" font-size="24.8">I</tspan><tspan x="1475.3">]</tspan><tspan x="1499.0">2</tspan><tspan x="1515.3">.</tspan><tspan x="1524.4">9</tspan><tspan x="1540.6">1</tspan><tspan x="1556.9">1</tspan></text>
<line x1="1389.4" y1="1184.0" x2="1389.4" y2="1208.8" stroke="#EE6677" stroke-width="2.3"/>
<text y="1153.9" font-size="33.5" fill="#EE6677" transform="rotate(-90 1471.0 1153.9)"><tspan x="1470.0">[</tspan><tspan x="1479.1">N</tspan><tspan x="1503.7">i</tspan><tspan x="1518.3" font-size="24.8">I</tspan><tspan x="1528.7">]</tspan><tspan x="1552.6">3</tspan><tspan x="1568.9">.</tspan><tspan x="1578.0">1</tspan><tspan x="1594.4">1</tspan><tspan x="1610.8">9</tspan></text>
<line x1="1472.2" y1="1171.5" x2="1472.2" y2="1196.4" stroke="#EE6677" stroke-width="2.3"/>
<text y="937.3" font-size="33.5" fill="#777777" transform="rotate(-90 1513.6 937.3)"><tspan x="1512.7">[</tspan><tspan x="1520.7">C</tspan><tspan x="1541.4">a</tspan><tspan x="1560.4" font-size="24.8">I</tspan><tspan x="1569.6" font-size="24.8">V</tspan><tspan x="1586.7">]</tspan><tspan x="1607.6">3</tspan><tspan x="1621.9">.</tspan><tspan x="1629.8">2</tspan><tspan x="1644.1">0</tspan><tspan x="1658.4">6</tspan><tspan x="1679.0">†</tspan></text>
<line x1="1505.2" y1="955.3" x2="1505.2" y2="979.1" stroke="#777777" stroke-width="2.3"/>
<text y="1175.7" font-size="33.5" fill="#777777" transform="rotate(-90 1649.1 1175.7)"><tspan x="1648.1">[</tspan><tspan x="1657.2">N</tspan><tspan x="1681.8">i</tspan><tspan x="1696.4" font-size="24.8">I</tspan><tspan x="1706.9" font-size="24.8">I</tspan><tspan x="1717.4" font-size="24.8">I</tspan><tspan x="1727.9">]</tspan><tspan x="1751.7">3</tspan><tspan x="1768.2">.</tspan><tspan x="1777.3">6</tspan><tspan x="1793.7">7</tspan><tspan x="1810.1">7</tspan></text>
<line x1="1571.4" y1="1194.3" x2="1709.5" y2="1194.3" stroke="#777777" stroke-width="2.3"/>
<line x1="1572.6" y1="1193.1" x2="1572.6" y2="1217.1" stroke="#777777" stroke-width="2.3"/>
<line x1="1708.3" y1="1193.1" x2="1708.3" y2="1219.8" stroke="#777777" stroke-width="2.3"/>
<text y="1123.8" font-size="33.5" fill="#777777" transform="rotate(-90 1910.0 1123.8)"><tspan x="1909.0">[</tspan><tspan x="1918.0">F</tspan><tspan x="1939.0">e</tspan><tspan x="1958.6" font-size="24.8">I</tspan><tspan x="1968.9" font-size="24.8">I</tspan><tspan x="1979.2">]</tspan><tspan x="2002.6">4</tspan><tspan x="2018.7">.</tspan><tspan x="2027.6">6</tspan><tspan x="2043.7">1</tspan><tspan x="2059.8">0</tspan></text>
<line x1="1790.1" y1="1142.3" x2="2009.8" y2="1142.3" stroke="#777777" stroke-width="2.3"/>
<line x1="1791.3" y1="1141.1" x2="1791.3" y2="1181.6" stroke="#EE6677" stroke-width="2.3"/>
<line x1="1802.3" y1="1141.1" x2="1802.3" y2="1179.5" stroke="#777777" stroke-width="2.3"/>
<line x1="1892.1" y1="1141.1" x2="1892.1" y2="1185.8" stroke="#EE6677" stroke-width="2.3"/>
<line x1="1937.7" y1="1141.1" x2="1937.7" y2="1165.7" stroke="#777777" stroke-width="2.3"/>
<line x1="2008.6" y1="1141.1" x2="2008.6" y2="1173.1" stroke="#777777" stroke-width="2.3"/>
<text y="1887.1" font-size="33.5" fill="#777777" transform="rotate(-90 250.8 1887.1)"><tspan x="249.8">[</tspan><tspan x="258.7">F</tspan><tspan x="279.6">e</tspan><tspan x="299.2" font-size="24.8">I</tspan><tspan x="309.4" font-size="24.8">I</tspan><tspan x="319.6">]</tspan><tspan x="342.9">5</tspan><tspan x="358.9">.</tspan><tspan x="367.8">3</tspan><tspan x="383.8">3</tspan><tspan x="399.8">9</tspan><tspan x="422.8">†</tspan></text>
<line x1="243.4" y1="1904.3" x2="243.4" y2="1929.2" stroke="#777777" stroke-width="2.3"/>
<text y="1736.3" font-size="33.5" fill="#777777" transform="rotate(-90 657.5 1736.3)"><tspan x="656.5">[</tspan><tspan x="665.5">N</tspan><tspan x="689.6">i</tspan><tspan x="703.9" font-size="24.8">I</tspan><tspan x="714.2" font-size="24.8">I</tspan><tspan x="724.4">]</tspan><tspan x="747.8">6</tspan><tspan x="763.9">.</tspan><tspan x="772.9">6</tspan><tspan x="788.9">3</tspan><tspan x="805.0">4</tspan><tspan x="828.2">†</tspan></text>
<line x1="648.1" y1="1755.0" x2="648.1" y2="1778.0" stroke="#777777" stroke-width="2.3"/>
<text y="1446.2" font-size="33.5" fill="#777777"><tspan x="648.0">[</tspan><tspan x="657.1">A</tspan><tspan x="681.5">r</tspan><tspan x="699.7" font-size="24.8">I</tspan><tspan x="710.1" font-size="24.8">I</tspan><tspan x="720.5">]</tspan><tspan x="744.3">6</tspan><tspan x="760.6">.</tspan><tspan x="769.6">9</tspan><tspan x="785.9">8</tspan><tspan x="802.2">3</tspan><tspan x="825.7">†</tspan></text>
<line x1="743.7" y1="1467.0" x2="743.7" y2="1491.5" stroke="#777777" stroke-width="2.3"/>
<text y="1502.4" font-size="33.5" fill="#777777"><tspan x="758.5">[</tspan><tspan x="767.6">N</tspan><tspan x="792.0">i</tspan><tspan x="806.4" font-size="24.8">I</tspan><tspan x="816.8" font-size="24.8">I</tspan><tspan x="827.2" font-size="24.8">I</tspan><tspan x="837.6">]</tspan><tspan x="861.3">7</tspan><tspan x="877.5">.</tspan><tspan x="886.6">3</tspan><tspan x="902.8">4</tspan><tspan x="919.1">7</tspan><tspan x="942.5">†</tspan></text>
<line x1="838.3" y1="1523.2" x2="838.3" y2="1547.7" stroke="#777777" stroke-width="2.3"/>
<text y="1892.9" font-size="33.5" fill="#777777" transform="rotate(-90 955.2 1892.9)"><tspan x="954.2">[</tspan><tspan x="963.2">F</tspan><tspan x="984.2">e</tspan><tspan x="1003.9" font-size="24.8">I</tspan><tspan x="1014.1" font-size="24.8">I</tspan><tspan x="1024.4" font-size="24.8">I</tspan><tspan x="1034.7">]</tspan><tspan x="1058.1">7</tspan><tspan x="1074.2">.</tspan><tspan x="1083.2">7</tspan><tspan x="1099.3">8</tspan><tspan x="1115.4">8</tspan></text>
<line x1="946.5" y1="1911.5" x2="946.5" y2="1935.3" stroke="#777777" stroke-width="2.3"/>
<text y="1880.7" font-size="33.5" fill="#777777" transform="rotate(-90 1096.1 1880.7)"><tspan x="1095.1">[</tspan><tspan x="1104.1">N</tspan><tspan x="1128.2">i</tspan><tspan x="1142.5" font-size="24.8">I</tspan><tspan x="1152.8" font-size="24.8">V</tspan><tspan x="1172.0">]</tspan><tspan x="1195.5">8</tspan><tspan x="1211.5">.</tspan><tspan x="1220.5">4</tspan><tspan x="1236.5">0</tspan><tspan x="1252.6">3</tspan><tspan x="1275.8">†</tspan></text>
<line x1="1087.9" y1="1900.0" x2="1087.9" y2="1923.6" stroke="#777777" stroke-width="2.3"/>
<text y="1819.2" font-size="33.5" fill="#777777" transform="rotate(-90 1222.0 1819.2)"><tspan x="1221.0">[</tspan><tspan x="1230.0">A</tspan><tspan x="1254.2">r</tspan><tspan x="1272.2" font-size="24.8">I</tspan><tspan x="1282.5" font-size="24.8">I</tspan><tspan x="1292.8" font-size="24.8">I</tspan><tspan x="1303.1">]</tspan><tspan x="1326.6">8</tspan><tspan x="1342.8">.</tspan><tspan x="1351.7">9</tspan><tspan x="1367.9">8</tspan><tspan x="1384.0">9</tspan><tspan x="1407.2">†</tspan></text>
<line x1="1213.7" y1="1837.9" x2="1213.7" y2="1862.1" stroke="#777777" stroke-width="2.3"/>
<text y="1795.0" font-size="33.5" fill="#777777" transform="rotate(-90 1515.2 1795.0)"><tspan x="1514.2">[</tspan><tspan x="1523.3">C</tspan><tspan x="1546.7">o</tspan><tspan x="1568.4" font-size="24.8">I</tspan><tspan x="1578.8" font-size="24.8">I</tspan><tspan x="1589.2">]</tspan><tspan x="1612.9">1</tspan><tspan x="1629.1">0</tspan><tspan x="1645.4">.</tspan><tspan x="1654.4">5</tspan><tspan x="1670.7">2</tspan><tspan x="1686.9">0</tspan><tspan x="1710.3">†</tspan></text>
<line x1="1506.8" y1="1812.9" x2="1506.8" y2="1837.7" stroke="#777777" stroke-width="2.3"/>
<text y="1806.1" font-size="33.5" fill="#777777" transform="rotate(-90 1597.2 1806.1)"><tspan x="1596.2">[</tspan><tspan x="1605.3">N</tspan><tspan x="1629.7">i</tspan><tspan x="1644.2" font-size="24.8">I</tspan><tspan x="1654.6" font-size="24.8">I</tspan><tspan x="1665.0" font-size="24.8">I</tspan><tspan x="1675.4">]</tspan><tspan x="1699.2">1</tspan><tspan x="1715.4">0</tspan><tspan x="1731.7">.</tspan><tspan x="1740.8">9</tspan><tspan x="1757.1">9</tspan><tspan x="1773.4">9</tspan></text>
<line x1="1589.7" y1="1824.0" x2="1589.7" y2="1848.8" stroke="#777777" stroke-width="2.3"/>
<text y="1787.3" font-size="33.5" fill="#777777" transform="rotate(-90 1712.6 1787.3)"><tspan x="1711.6">[</tspan><tspan x="1720.7">N</tspan><tspan x="1745.0">i</tspan><tspan x="1759.5" font-size="24.8">I</tspan><tspan x="1769.9" font-size="24.8">V</tspan><tspan x="1789.4">]</tspan><tspan x="1813.1">1</tspan><tspan x="1829.3">1</tspan><tspan x="1845.6">.</tspan><tspan x="1854.6">7</tspan><tspan x="1870.9">2</tspan><tspan x="1887.1">3</tspan></text>
<line x1="1708.5" y1="1805.2" x2="1708.5" y2="1830.9" stroke="#777777" stroke-width="2.3"/>
<text y="1748.8" font-size="33.5" fill="#777777" transform="rotate(-90 1746.0 1748.8)"><tspan x="1745.0">[</tspan><tspan x="1754.1">C</tspan><tspan x="1777.7">o</tspan><tspan x="1799.4" font-size="24.8">I</tspan><tspan x="1809.8" font-size="24.8">I</tspan><tspan x="1820.3" font-size="24.8">I</tspan><tspan x="1830.7">]</tspan><tspan x="1854.4">1</tspan><tspan x="1870.8">1</tspan><tspan x="1887.1">.</tspan><tspan x="1896.1">8</tspan><tspan x="1912.5">8</tspan><tspan x="1928.8">5</tspan><tspan x="1952.3">†</tspan></text>
<line x1="1733.2" y1="1766.8" x2="1733.2" y2="1791.5" stroke="#777777" stroke-width="2.3"/>
<text y="1511.1" font-size="33.5" fill="#777777"><tspan x="1768.9">[</tspan><tspan x="1778.0">N</tspan><tspan x="1802.5">e</tspan><tspan x="1822.5" font-size="24.8">I</tspan><tspan x="1832.9" font-size="24.8">I</tspan><tspan x="1843.4">]</tspan><tspan x="1867.2">1</tspan><tspan x="1883.5">2</tspan><tspan x="1899.9">.</tspan><tspan x="1908.9">8</tspan><tspan x="1925.3">1</tspan><tspan x="1941.6">1</tspan><tspan x="1965.2">†</tspan></text>
<line x1="1873.1" y1="1532.1" x2="1873.1" y2="1557.7" stroke="#777777" stroke-width="2.3"/>
<clipPath id="cp1"><rect x="114.0" y="1.7" width="1922.0" height="565.8"/></clipPath>
<g clip-path="url(#cp1)" fill="none" stroke-linejoin="round" stroke-linecap="round">
<path d="M262.8,564.1 L263.8,565.4 L264.8,563.9 L265.8,563.6 L266.8,562.4 L267.8,563.7 L268.8,566.2 L269.8,564.8 L270.8,565.9 L271.8,564.4 L272.8,564.6 L273.8,564.2 L274.8,560.6 L275.8,565.3 L276.8,564.6 L277.8,564.6 L278.8,560.3 L279.8,560.2 L280.8,561.8 L281.8,562.5 L282.8,563.9 L283.8,563.2 L284.8,564.2 L285.8,562.0 L286.8,563.7 L287.8,563.9 L288.8,561.8 L289.8,566.3 L290.8,564.0 L291.8,565.2 L292.8,561.7 L293.8,561.4 L294.8,562.1 L295.8,562.4 L296.8,563.7 L297.8,562.9 L298.8,561.5 L299.8,560.4 L300.8,561.1 L301.8,564.3 L302.8,560.4 L303.8,562.3 L304.8,562.5 L305.8,558.8 L306.8,561.6 L307.8,563.9 L308.8,557.5 L309.8,560.6 L310.8,560.9 L311.8,559.5 L312.8,561.9 L313.8,560.7 L314.8,557.9 L315.8,562.2 L316.8,561.8 L317.8,562.2 L318.8,563.0 L319.8,560.9 L320.8,560.3 L321.8,557.5 L322.8,561.1 L323.8,558.6 L324.8,558.9 L325.8,557.2 L326.8,557.7 L327.8,558.4 L328.8,561.8 L329.8,555.4 L330.8,556.3 L331.8,559.5 L332.8,561.7 L333.8,559.9 L334.8,555.0 L335.8,554.3 L336.8,559.0 L337.8,556.7 L338.8,555.8 L339.8,559.6 L340.8,559.7 L341.8,557.8 L342.8,557.8 L343.8,557.9 L344.8,560.0 L345.8,558.0 L346.8,557.6 L347.8,557.5 L348.8,553.3 L349.8,558.5 L350.8,557.7 L351.8,556.8 L352.8,551.8 L353.8,554.2 L354.8,556.7 L355.7,551.3 L356.7,554.0 L357.7,555.9 L358.7,551.1 L359.7,556.3 L360.7,553.9 L361.7,552.3 L362.7,552.8 L363.7,553.1 L364.7,552.0 L365.7,553.8 L366.7,550.3 L367.7,550.7 L368.7,553.4 L369.7,551.4 L370.7,549.6 L371.7,553.0 L372.7,553.9 L373.7,550.2 L374.7,548.3 L375.7,550.6 L376.7,550.5 L377.7,550.1 L378.7,553.3 L379.7,548.6 L380.7,552.9 L381.7,548.0 L382.7,548.8 L383.7,551.4 L384.7,552.4 L385.7,551.9 L386.7,550.9 L387.7,550.5 L388.7,550.5 L389.7,551.3 L390.7,549.9 L391.7,550.7 L392.7,551.3 L393.7,550.2 L394.7,551.7 L395.7,551.3 L396.7,554.0 L397.7,550.8 L398.7,549.6 L399.7,549.9 L400.7,550.8 L401.7,552.8 L402.7,550.7 L403.7,552.3 L404.7,555.2 L405.7,547.8 L406.7,550.0 L407.7,552.8 L408.7,553.4 L409.7,553.3 L410.7,552.4 L411.7,554.9 L412.7,554.6 L413.7,553.5 L414.7,559.1 L415.7,556.0 L416.7,554.7 L417.7,556.0 L418.7,556.1 L419.7,556.9 L420.7,553.2 L421.7,556.9 L422.7,559.6 L423.7,555.4 L424.7,557.4 L425.7,559.3 L426.7,559.0 L427.7,560.1 L428.7,554.0 L429.7,556.5 L430.7,556.4 L431.7,558.2 L432.7,559.0 L433.7,552.6 L434.7,558.3 L435.7,552.9 L436.7,556.4 L437.7,551.6 L438.7,554.2 L439.7,555.6 L440.7,552.5 L441.7,552.5 L442.7,553.1 L443.7,551.3 L444.7,550.2 L445.7,552.7 L446.7,551.0 L447.7,547.6 L448.7,551.5 L449.7,544.3 L450.7,547.4 L451.7,544.3 L452.6,544.2 L453.6,544.5 L454.6,542.8 L455.6,542.7 L456.6,537.8 L457.6,537.0 L458.6,540.6 L459.6,537.2 L460.6,536.6 L461.6,535.4 L462.6,540.2 L463.6,538.8 L464.6,539.7 L465.6,534.7 L466.6,536.1 L467.6,533.5 L468.6,536.7 L469.6,537.9 L470.6,533.1 L471.6,537.7 L472.6,536.5 L473.6,534.2 L474.6,530.7 L475.6,537.1 L476.6,534.2 L477.6,533.1 L478.6,535.0 L479.6,534.9 L480.6,536.9 L481.6,532.0 L482.6,536.1 L483.6,536.7 L484.6,536.4 L485.6,533.0 L486.5,531.8 L487.5,534.9 L488.5,532.9 L489.5,532.7 L490.4,535.0 L491.4,531.5 L492.4,527.6 L493.4,530.9 L494.3,527.8 L495.3,532.7 L496.3,531.5 L497.3,529.5 L498.2,530.5 L499.2,531.8 L500.2,530.2 L501.2,532.2 L502.2,529.3 L503.2,531.1 L504.2,531.6 L505.2,531.6 L506.2,526.9 L507.3,529.6 L508.3,524.0 L509.3,525.2 L510.3,523.3 L511.3,528.7 L512.3,524.1 L513.3,526.1 L514.3,525.4 L515.3,525.4 L516.3,524.1 L517.3,525.3 L518.4,528.0 L519.4,524.4 L520.4,525.0 L521.4,525.8 L522.4,523.4 L523.4,521.3 L524.4,522.5 L525.4,525.5 L526.4,520.2 L527.4,522.1 L528.4,525.1 L529.5,524.6 L530.5,523.0 L531.5,524.4 L532.5,523.1 L533.5,520.4 L534.5,519.6 L535.5,521.2 L536.5,524.1 L537.5,521.2 L538.5,520.4 L539.5,520.6 L540.6,519.0 L541.6,522.0 L542.6,520.3 L543.6,523.6 L544.6,519.0 L545.6,524.1 L546.6,522.5 L547.6,520.4 L548.6,525.8 L549.6,524.2 L550.7,520.8 L551.7,523.6 L552.7,526.1 L553.7,525.0 L554.7,527.7 L555.7,527.9 L556.7,528.1 L557.7,527.7 L558.7,529.9 L559.7,529.0 L560.7,528.9 L561.8,523.1 L562.8,527.9 L563.8,527.8 L564.8,523.8 L565.8,522.6 L566.8,526.2 L567.8,518.3 L568.8,521.6 L569.8,524.0 L570.8,517.2 L571.9,519.6 L572.9,521.2 L573.9,516.8 L574.9,517.4 L575.9,517.4 L576.9,513.3 L578.0,514.2 L579.0,514.3 L580.0,514.7 L581.0,512.6 L582.1,511.9 L583.1,510.0 L584.1,510.8 L585.2,512.7 L586.2,510.8 L587.2,508.6 L588.3,508.2 L589.3,513.6 L590.3,511.7 L591.3,510.8 L592.3,505.5 L593.2,511.0 L594.2,510.8 L595.2,513.2 L596.2,510.9 L597.2,510.1 L598.1,511.3 L599.1,506.7 L600.1,512.4 L601.1,511.2 L602.1,509.3 L603.0,513.3 L604.0,514.3 L605.0,508.3 L606.0,509.8 L607.0,511.7 L608.0,511.6 L608.9,510.6 L609.9,509.6 L610.9,515.6 L611.9,513.6 L612.9,509.5 L613.8,509.3 L614.8,515.2 L615.8,513.9 L616.8,515.6 L617.8,513.8 L618.7,510.7 L619.7,512.9 L620.7,508.4 L621.7,511.2 L622.7,512.6 L623.6,513.8 L624.6,511.5 L625.6,512.8 L626.6,514.0 L627.6,513.9 L628.5,514.4 L629.5,513.7 L630.5,512.7 L631.5,514.9 L632.5,513.5 L633.4,511.9 L634.4,512.3 L635.4,513.6 L636.4,513.4 L637.4,514.0 L638.4,513.7 L639.3,514.1 L640.3,513.6 L641.3,511.5 L642.3,514.7 L643.3,516.0 L644.2,514.8 L645.2,513.7 L646.2,515.1 L647.2,512.6 L648.2,511.0 L649.1,515.0 L650.1,513.3 L651.1,516.6 L652.1,513.4 L653.1,511.4 L654.0,513.8 L655.0,519.0 L656.0,515.5 L657.0,513.8 L658.0,515.2 L658.9,517.8 L659.9,517.9 L660.9,517.5 L661.9,520.2 L662.9,518.9 L663.9,517.7 L664.8,519.1 L665.8,521.3 L666.8,520.2 L667.8,520.5 L668.8,516.7 L669.7,518.7 L670.7,520.5 L671.7,518.8 L672.7,521.6 L673.7,520.9 L674.6,521.7 L675.6,519.7 L676.6,524.5 L677.6,522.9 L678.6,520.3 L679.5,521.1 L680.5,525.3 L681.5,520.7 L682.5,523.2 L683.5,523.5 L684.4,521.8 L685.4,519.7 L686.4,522.5 L687.4,522.9 L688.4,524.5 L689.3,524.0 L690.3,522.7 L691.3,524.5 L692.3,524.0 L693.3,523.5 L694.3,523.4 L695.2,523.0 L696.2,524.9 L697.2,521.7 L698.2,522.7 L699.2,524.0 L700.1,521.4 L701.1,523.5 L702.1,520.7 L703.1,523.4 L704.1,526.0 L705.0,526.2 L706.0,525.2 L707.0,525.0 L708.0,523.0 L709.0,529.4 L709.9,527.1 L710.9,528.3 L711.9,524.8 L712.9,526.3 L713.9,523.4 L714.8,528.5 L715.8,529.0 L716.8,523.8 L717.8,527.5 L718.8,529.0 L719.8,524.7 L720.7,524.3 L721.7,525.5 L722.7,526.1 L723.7,524.4 L724.7,526.9 L725.6,527.0 L726.6,527.5 L727.6,527.4 L728.6,528.7 L729.6,527.8 L730.5,522.8 L731.5,524.1 L732.5,522.8 L733.5,522.6 L734.5,524.2 L735.4,524.1 L736.4,524.8 L737.4,520.6 L738.4,521.0 L739.4,523.2 L740.4,522.7 L741.3,522.4 L742.3,522.7 L743.3,521.3 L744.3,523.9 L745.3,523.2 L746.2,522.2 L747.2,521.0 L748.2,521.8 L749.2,517.8 L750.2,520.0 L751.2,521.8 L752.1,518.7 L753.1,521.8 L754.1,521.6 L755.1,518.6 L756.1,520.6 L757.1,520.4 L758.0,521.7 L759.0,521.9 L760.0,520.5 L760.9,518.7 L761.9,519.8 L762.8,519.7 L763.8,521.0 L764.7,520.0 L765.7,517.8 L766.6,516.3 L767.7,518.5 L768.7,518.0 L769.7,517.6 L770.7,519.7 L771.7,519.3 L772.7,520.6 L773.7,521.7 L774.7,520.2 L775.7,525.4 L776.7,520.8 L777.7,523.8 L778.8,522.2 L779.8,524.3 L780.8,518.3 L781.8,521.3 L782.8,523.4 L783.8,525.1 L784.8,529.2 L785.8,526.6 L786.8,529.4 L787.8,529.5 L788.9,530.8 L789.9,531.0 L790.9,530.7 L791.9,533.0 L792.9,531.0 L793.9,536.3 L794.9,533.1 L795.9,535.4 L796.9,538.8 L797.9,534.1 L798.9,534.4 L800.0,536.4 L801.0,534.1 L802.0,532.4 L803.0,534.2 L804.0,534.7 L805.0,534.7 L806.0,531.8 L807.0,536.4 L808.0,535.3 L809.0,531.3 L810.0,530.9 L811.1,528.7 L812.1,531.3 L813.1,526.4 L814.1,528.2 L815.1,525.1 L816.1,523.8 L817.1,525.6 L818.1,525.9 L819.1,522.4 L820.1,520.3 L821.1,522.2 L822.2,519.7 L823.2,519.5 L824.2,521.2 L825.2,519.9 L826.2,516.1 L827.2,520.7 L828.2,515.9 L829.2,516.8 L830.2,513.5 L831.2,514.0 L832.3,510.1 L833.3,516.3 L834.3,514.9 L835.3,509.3 L836.3,508.2 L837.3,507.4 L838.3,512.1 L839.3,508.4 L840.3,508.5 L841.3,507.4 L842.3,507.2 L843.4,504.7 L844.3,507.2 L845.3,504.7 L846.3,507.6 L847.3,508.6 L848.3,509.2 L849.3,508.2 L850.3,507.2 L851.3,509.5 L852.3,508.6 L853.3,512.8 L854.3,511.6 L855.3,510.2 L856.3,509.8 L857.3,509.7 L858.3,509.5 L859.3,510.9 L860.2,512.5 L861.2,513.2 L862.2,513.6 L863.2,516.8 L864.2,511.8 L865.2,513.4 L866.2,517.9 L867.2,510.4 L868.2,513.3 L869.2,514.9 L870.2,515.2 L871.2,515.9 L872.2,514.8 L873.2,516.2 L874.2,515.8 L875.2,517.4 L876.2,512.5 L877.3,514.6 L878.3,516.5 L879.3,514.7 L880.3,514.9 L881.3,518.3 L882.3,516.1 L883.3,518.7 L884.3,519.1 L885.3,518.5 L886.3,519.1 L887.3,518.1 L888.4,515.8 L889.4,518.7 L890.4,519.8 L891.4,518.1 L892.4,519.0 L893.4,520.8 L894.4,517.9 L895.4,520.9 L896.4,523.4 L897.4,518.9 L898.4,520.4 L899.5,520.0 L900.5,523.4 L901.5,521.2 L902.5,522.4 L903.5,519.6 L904.5,521.0 L905.5,521.2 L906.5,518.0 L907.5,524.2 L908.5,523.4 L909.5,518.5 L910.6,523.4 L911.6,521.8 L912.6,522.9 L913.6,522.8 L914.6,519.3 L915.6,521.8 L916.6,525.1 L917.6,521.2 L918.6,520.4 L919.6,519.8 L920.7,520.1 L921.7,523.1 L922.7,525.8 L923.7,523.4 L924.7,523.1 L925.7,526.9 L926.7,521.8 L927.7,521.5 L928.7,523.9 L929.7,524.0 L930.7,521.0 L931.8,521.3 L932.8,524.7 L933.8,525.2 L934.8,522.9 L935.8,525.6 L936.8,525.6 L937.8,528.1 L938.8,527.6 L939.8,528.2 L940.8,528.3 L941.8,531.5 L942.9,532.7 L943.9,529.8 L944.9,532.6 L945.9,530.1 L946.9,532.2 L947.9,534.0 L948.9,535.9 L949.9,532.8 L950.9,533.9 L951.9,534.9 L953.0,532.2 L954.0,535.6 L955.0,534.8 L956.0,537.3 L957.0,534.9 L958.0,533.8 L959.0,538.2 L960.0,539.1 L961.0,538.1 L962.0,541.3 L963.0,539.6 L964.1,539.5 L965.1,542.0 L966.1,538.7 L967.1,540.9 L968.1,542.6 L969.1,544.8 L970.1,543.3 L971.1,544.7 L972.1,543.4 L973.1,545.7 L974.1,548.8 L975.2,544.9 L976.2,550.9 L977.2,546.0 L978.2,547.7 L979.2,548.5 L980.2,550.6 L981.2,546.9 L982.2,545.6 L983.2,551.1 L984.2,551.8 L985.2,551.8 L986.3,555.2 L987.3,551.7 L988.3,552.2 L989.3,553.8 L990.3,553.1 L991.3,555.9 L992.3,550.7 L993.3,552.7 L994.3,549.6 L995.3,555.7 L996.4,553.8 L997.4,556.6 L998.4,559.3 L999.4,555.6 L1000.4,555.4 L1001.4,555.3 L1002.4,554.8 L1003.4,555.4 L1004.4,557.9 L1005.4,556.9 L1006.4,557.2 L1007.5,556.9 L1008.5,559.1 L1009.5,558.4 L1010.5,557.4 L1011.5,559.0 L1012.5,557.6 L1013.5,555.9 L1014.5,561.0 L1015.5,559.3 L1016.5,556.7 L1017.5,560.7 L1018.6,559.5 L1019.6,556.0 L1020.6,562.2 L1021.6,559.9 L1022.6,560.9 L1023.6,559.6 L1024.6,558.9 L1025.6,556.2 L1026.6,560.9 L1027.6,559.1 L1028.6,558.4 L1029.7,559.6 L1030.7,559.0 L1031.7,560.1 L1032.7,558.0 L1033.7,558.6 L1034.7,554.6 L1035.7,557.8 L1036.7,559.8 L1037.7,561.0 L1038.7,557.8 L1039.8,558.2 L1040.8,561.3 L1041.8,557.7 L1042.8,559.5 L1043.8,561.2 L1044.8,557.9 L1045.8,560.0 L1046.8,556.2 L1047.8,557.8 L1048.8,557.1 L1049.8,557.3 L1050.9,559.1 L1051.9,561.0 L1052.9,555.4 L1053.9,555.4 L1054.9,557.3 L1055.9,554.2 L1056.9,557.0 L1057.9,557.0 L1058.9,555.2 L1059.9,556.6 L1060.9,552.5 L1062.0,556.7 L1063.0,552.3 L1064.0,553.9 L1065.0,554.2 L1066.0,554.5 L1067.0,556.9 L1068.0,555.4 L1069.0,554.5 L1070.0,556.3 L1071.0,558.3 L1072.0,555.3 L1073.1,556.0 L1074.1,557.6 L1075.1,555.8 L1076.1,552.8 L1077.1,559.4 L1078.1,559.4 L1079.1,551.5 L1080.1,555.2 L1081.1,556.1 L1082.1,557.1 L1083.2,556.6 L1084.2,554.9 L1085.2,553.6 L1086.2,555.9 L1087.2,557.7 L1088.2,553.8 L1089.2,554.0 L1090.2,556.0 L1091.2,552.5 L1092.2,555.8 L1093.2,555.5 L1094.3,557.3 L1095.3,555.2 L1096.3,555.0 L1097.3,556.0 L1098.3,556.8 L1099.3,555.7 L1100.3,557.1 L1101.3,558.6 L1102.3,559.5 L1103.3,560.7 L1104.3,556.2 L1105.4,557.1 L1106.4,553.9 L1107.4,561.9 L1108.4,557.1 L1109.4,558.6 L1110.4,559.9 L1111.4,556.5 L1112.4,560.2 L1113.4,559.0 L1114.4,555.4 L1115.5,559.2 L1116.5,560.8 L1117.5,554.7 L1118.5,559.6 L1119.5,558.3 L1120.5,558.6 L1121.5,558.3 L1122.5,559.8 L1123.5,556.7 L1124.5,558.5 L1125.5,555.9 L1126.6,557.9 L1127.6,554.7 L1128.6,555.9 L1129.6,559.2 L1130.6,556.5 L1131.6,555.2 L1132.6,553.1 L1133.6,553.6 L1134.6,555.2 L1135.6,556.4 L1136.6,555.3 L1137.7,555.2 L1138.7,554.0 L1139.7,556.4 L1140.7,552.9 L1141.7,552.4 L1142.7,554.9 L1143.7,553.2 L1144.7,552.3 L1145.7,551.5 L1146.7,551.9 L1147.7,553.4 L1148.8,552.7 L1149.8,549.5 L1150.8,552.4 L1151.8,551.8 L1152.8,549.3 L1153.8,552.4 L1154.8,550.2 L1155.8,549.8 L1156.8,551.7 L1157.8,552.5 L1158.9,548.4 L1159.9,550.3 L1160.9,547.5 L1161.9,553.1 L1162.9,547.8 L1163.9,550.7 L1164.9,547.0 L1165.9,549.5 L1166.9,551.9 L1167.9,543.3 L1168.9,546.4 L1170.0,547.9 L1171.0,546.5 L1172.0,545.2 L1173.0,550.3 L1174.0,543.2 L1175.0,536.7 L1176.0,538.3 L1177.0,530.3 L1178.0,532.6 L1179.0,526.2 L1180.0,524.4 L1181.1,523.3 L1182.1,517.5 L1183.1,511.0 L1184.1,506.8 L1185.1,508.7 L1186.1,504.2 L1187.1,502.0 L1188.1,506.0 L1189.1,506.1 L1190.1,507.2 L1191.1,502.6 L1192.2,509.9 L1193.2,515.9 L1194.2,519.3 L1195.2,523.3 L1196.2,521.1 L1197.2,529.3 L1198.2,530.2 L1199.2,533.7 L1200.2,528.0 L1201.2,529.4 L1202.3,530.3 L1203.3,532.2 L1204.3,529.9 L1205.3,533.2 L1206.3,530.5 L1207.3,533.6 L1208.3,533.1 L1209.3,535.4 L1210.3,534.8 L1211.3,534.1 L1212.3,540.2 L1213.4,539.7 L1214.4,538.5 L1215.4,540.3 L1216.4,542.2 L1217.4,538.9 L1218.4,540.9 L1219.4,542.6 L1220.4,542.9 L1221.4,541.7 L1222.4,538.7 L1223.4,545.5 L1224.4,543.7 L1225.4,543.1 L1226.4,542.5 L1227.4,543.6 L1228.4,542.2 L1229.4,541.1 L1230.3,541.6 L1231.3,541.8 L1232.3,541.8 L1233.3,540.7 L1234.3,544.1 L1235.3,540.4 L1236.2,544.1 L1237.2,540.9 L1238.2,543.5 L1239.2,545.4 L1240.2,543.1 L1241.2,541.0 L1242.2,542.2 L1243.2,542.0 L1244.2,538.1 L1245.2,539.9 L1246.2,541.0 L1247.3,540.1 L1248.3,541.4 L1249.3,542.9 L1250.3,543.2 L1251.3,543.7 L1252.3,543.4 L1253.3,541.9 L1254.3,542.7 L1255.3,542.5 L1256.3,542.7 L1257.3,543.2 L1258.4,540.5 L1259.4,543.4 L1260.4,544.2 L1261.4,542.7 L1262.4,544.7 L1263.4,546.0 L1264.4,545.0 L1265.4,549.5 L1266.4,541.6 L1267.4,545.6 L1268.4,542.8 L1269.5,548.4 L1270.5,551.0 L1271.5,542.8 L1272.5,547.4 L1273.5,548.4 L1274.5,547.0 L1275.5,548.8 L1276.5,543.8 L1277.5,549.8 L1278.5,549.1 L1279.5,548.6 L1280.6,547.7 L1281.6,550.2 L1282.6,548.3 L1283.6,549.8 L1284.6,548.6 L1285.6,545.6 L1286.6,550.0 L1287.6,550.6 L1288.6,551.8 L1289.6,549.0 L1290.7,550.8 L1291.7,552.2 L1292.7,551.5 L1293.7,553.8 L1294.7,555.4 L1295.7,550.1 L1296.7,548.4 L1297.7,553.9 L1298.7,555.3 L1299.7,554.4 L1300.7,554.4 L1301.8,551.9 L1302.8,552.0 L1303.8,555.3 L1304.8,552.1 L1305.8,550.7 L1306.8,552.5 L1307.8,558.8 L1308.8,558.5 L1309.8,553.8 L1310.8,554.0 L1311.8,556.1 L1312.9,554.4 L1313.9,558.6 L1314.9,556.2 L1315.9,554.6 L1316.9,559.4 L1317.9,556.0 L1318.9,557.8 L1319.9,557.6 L1320.9,557.3 L1321.9,558.5 L1323.0,556.6 L1324.0,554.4 L1325.0,553.7 L1326.0,555.5 L1327.0,556.4 L1328.0,557.8 L1329.0,558.0 L1330.0,558.9 L1331.0,558.1 L1332.0,556.4 L1333.0,556.5 L1334.1,553.9 L1335.1,557.6 L1336.1,558.8 L1337.1,558.9 L1338.1,557.7 L1339.1,557.6 L1340.1,559.7 L1341.1,557.9 L1342.1,559.0 L1343.1,558.5 L1344.1,557.5 L1345.2,559.4 L1346.2,555.5 L1347.2,555.7 L1348.2,554.6 L1349.2,554.4 L1350.2,558.6 L1351.2,558.7 L1352.2,555.2 L1353.2,555.9 L1354.2,556.8 L1355.2,555.9 L1356.3,556.4 L1357.3,551.4 L1358.3,552.4 L1359.3,554.2 L1360.3,555.8 L1361.3,553.0 L1362.3,550.8 L1363.3,551.4 L1364.3,550.4 L1365.3,549.7 L1366.4,553.8 L1367.4,549.4 L1368.4,550.2 L1369.4,553.9 L1370.4,551.7 L1371.4,549.7 L1372.4,547.5 L1373.4,549.1 L1374.4,551.0 L1375.4,548.7 L1376.4,549.6 L1377.5,547.0 L1378.5,546.8 L1379.5,544.4 L1380.5,544.6 L1381.5,545.2 L1382.5,539.0 L1383.5,540.6 L1384.5,540.2 L1385.5,537.6 L1386.5,537.1 L1387.5,538.2 L1388.6,538.5 L1389.6,533.8 L1390.6,531.3 L1391.6,525.7 L1392.6,530.3 L1393.6,524.7 L1394.6,522.5 L1395.6,518.4 L1396.6,518.4 L1397.6,514.4 L1398.6,514.6 L1399.7,513.3 L1400.7,510.5 L1401.7,509.0 L1402.7,504.8 L1403.7,507.1 L1404.7,501.1 L1405.7,496.9 L1406.7,498.0 L1407.7,494.9 L1408.7,492.0 L1409.8,490.8 L1410.8,489.6 L1411.8,484.4 L1412.8,483.9 L1413.8,484.5 L1414.8,480.6 L1415.8,476.6 L1416.8,474.7 L1417.8,471.9 L1418.8,465.9 L1419.8,461.8 L1420.9,453.7 L1421.9,442.4 L1422.9,433.7 L1423.9,417.4 L1424.9,407.1 L1425.9,389.8 L1426.9,376.6 L1427.9,366.5 L1428.9,343.3 L1429.9,327.9 L1430.9,321.7 L1432.0,314.2 L1433.0,309.4 L1434.0,309.5 L1435.0,302.4 L1436.0,294.8 L1437.0,291.2 L1438.0,291.9 L1439.0,280.4 L1440.0,273.3 L1441.0,267.0 L1442.0,267.5 L1443.1,267.0 L1444.1,262.7 L1445.1,270.5 L1446.1,280.7 L1447.1,294.9 L1448.1,292.6 L1449.1,286.9 L1450.1,287.5 L1451.1,293.6 L1452.1,299.6 L1453.2,304.8 L1454.2,309.3 L1455.2,323.0 L1456.2,332.1 L1457.2,350.8 L1458.2,360.8 L1459.2,368.1 L1460.2,383.5 L1461.2,391.1 L1462.2,393.0 L1463.2,411.3 L1464.3,417.6 L1465.3,424.4 L1466.3,419.9 L1467.3,428.0 L1468.3,431.6 L1469.3,434.7 L1470.3,438.3 L1471.3,442.7 L1472.3,436.8 L1473.3,439.3 L1474.3,440.6 L1475.4,444.9 L1476.4,446.5 L1477.4,451.2 L1478.4,452.7 L1479.4,453.0 L1480.4,451.9 L1481.4,453.6 L1482.4,458.8 L1483.4,459.2 L1484.4,458.3 L1485.5,458.0 L1486.5,464.6 L1487.5,459.2 L1488.5,463.9 L1489.5,466.5 L1490.5,463.2 L1491.5,467.5 L1492.5,462.7 L1493.5,470.1 L1494.5,468.6 L1495.5,464.3 L1496.6,472.1 L1497.6,468.4 L1498.6,475.9 L1499.6,473.8 L1500.6,479.2 L1501.6,484.3 L1502.6,486.2 L1503.6,491.8 L1504.6,493.1 L1505.6,500.6 L1506.6,502.4 L1507.7,505.8 L1508.7,501.3 L1509.7,514.2 L1510.7,513.6 L1511.7,510.9 L1512.7,519.3 L1513.7,523.2 L1514.7,527.8 L1515.7,523.3 L1516.7,533.3 L1517.7,530.2 L1518.8,539.2 L1519.8,538.3 L1520.8,546.1 L1521.8,550.1 L1522.8,554.8 L1523.8,555.4 L1524.8,551.5 L1525.8,549.2 L1526.8,544.4 L1527.8,541.2 L1528.9,538.6 L1529.9,540.0 L1530.9,539.1 L1531.9,538.3 L1532.9,541.1 L1533.9,540.0 L1534.9,538.1 L1535.9,538.9 L1536.9,537.9 L1537.9,538.5 L1538.9,539.6 L1540.0,539.9 L1541.0,535.7 L1542.0,533.5 L1543.0,540.3 L1544.0,537.0 L1545.0,539.1 L1546.0,532.3 L1547.0,535.2 L1548.0,535.9 L1549.0,532.1 L1550.0,534.1 L1551.1,536.9 L1552.1,537.5 L1553.1,538.5 L1554.1,532.9 L1555.1,531.9 L1556.1,536.8 L1557.1,538.1 L1558.1,536.6 L1559.1,533.4 L1560.1,538.7 L1561.1,539.0 L1562.2,538.7 L1563.2,536.5 L1564.2,538.7 L1565.2,540.2 L1566.2,537.3 L1567.2,534.5 L1568.2,540.0 L1569.2,540.7 L1570.2,539.8 L1571.2,542.3 L1572.3,539.0 L1573.3,540.5 L1574.3,540.4 L1575.3,542.9 L1576.3,545.8 L1577.3,541.7 L1578.3,547.7 L1579.3,546.8 L1580.3,545.4 L1581.3,545.4 L1582.3,548.6 L1583.4,544.3 L1584.4,544.0 L1585.4,541.2 L1586.4,544.4 L1587.4,546.0 L1588.4,543.5 L1589.4,542.8 L1590.4,540.7 L1591.4,541.1 L1592.4,536.8 L1593.4,542.2 L1594.5,538.2 L1595.5,536.1 L1596.5,537.1 L1597.5,537.2 L1598.5,541.4 L1599.5,542.1 L1600.5,536.5 L1601.5,542.2 L1602.5,542.3 L1603.6,539.0 L1604.6,537.1 L1605.6,539.1 L1606.6,539.5 L1607.6,542.1 L1608.6,540.6 L1609.6,536.8 L1610.6,542.5 L1611.6,538.5 L1612.6,543.7 L1613.6,538.1 L1614.6,538.7 L1615.5,537.8 L1616.5,537.9 L1617.5,541.8 L1618.4,540.1 L1619.4,538.9 L1620.4,537.7 L1621.4,532.6 L1622.3,534.5 L1623.3,533.8 L1624.3,532.8 L1625.2,536.4 L1626.2,533.4 L1627.2,533.4 L1628.1,532.6 L1629.1,530.2 L1630.1,536.6 L1631.1,538.3 L1632.0,535.6 L1633.0,532.8 L1634.0,529.9 L1634.9,535.6 L1635.9,538.1 L1636.9,535.9 L1637.8,537.4 L1638.8,538.7 L1639.8,537.9 L1640.8,534.1 L1641.7,537.7 L1642.7,537.0 L1643.7,531.5 L1644.6,534.2 L1645.6,531.7 L1646.6,534.9 L1647.6,536.4 L1648.6,532.3 L1649.6,529.7 L1650.6,537.6 L1651.6,535.2 L1652.6,537.7 L1653.6,530.8 L1654.6,536.4 L1655.6,538.6 L1656.6,538.3 L1657.6,532.8 L1658.6,533.8 L1659.6,532.6 L1660.6,535.2 L1661.6,536.0 L1662.6,534.3 L1663.7,531.5 L1664.7,537.2 L1665.7,534.9 L1666.8,538.2 L1667.8,538.0 L1668.8,541.9 L1669.9,541.4 L1670.9,538.1 L1671.9,540.7 L1672.9,544.6 L1673.9,539.7 L1674.9,542.6 L1675.9,545.0 L1676.9,545.7 L1677.9,544.6 L1678.9,540.7 L1679.9,541.4 L1680.9,545.7 L1681.9,546.6 L1682.9,551.5 L1683.9,544.7 L1684.9,550.1 L1685.9,549.7 L1687.0,544.3 L1688.0,546.9 L1689.0,549.8 L1690.1,548.7 L1691.1,550.1 L1692.1,552.1 L1693.2,549.5 L1694.2,552.3 L1695.2,549.4 L1696.3,549.4 L1697.3,551.7 L1698.3,548.8 L1699.4,550.6 L1700.4,553.5 L1701.4,549.5 L1702.5,548.8 L1703.5,549.9 L1704.6,546.2 L1705.6,548.6 L1706.6,541.9 L1707.7,545.4 L1708.7,541.7 L1709.7,540.0 L1710.8,545.1 L1711.8,537.8 L1712.8,543.3 L1713.9,539.8 L1714.9,541.0 L1715.9,534.4 L1717.0,538.8 L1718.0,538.6 L1719.0,534.1 L1720.1,533.3 L1721.1,538.1 L1722.1,532.9 L1723.1,531.1 L1724.1,530.3 L1725.1,532.6 L1726.1,532.0 L1727.1,531.3 L1728.1,534.6 L1729.1,527.7 L1730.1,527.6 L1731.1,528.0 L1732.1,520.1 L1733.1,523.0 L1734.1,522.9 L1735.1,513.3 L1736.1,511.9 L1737.1,510.0 L1738.1,506.1 L1739.1,509.6 L1740.1,500.6 L1741.1,503.1 L1742.1,498.8 L1743.1,502.9 L1744.1,494.5 L1745.1,496.9 L1746.1,494.7 L1747.1,491.5 L1748.1,489.5 L1749.1,484.1 L1750.1,482.3 L1751.1,476.9 L1752.2,478.2 L1753.2,471.7 L1754.2,481.4 L1755.3,475.6 L1756.3,474.2 L1757.3,476.1 L1758.4,471.0 L1759.4,462.5 L1760.5,472.1 L1761.5,473.0 L1762.5,468.3 L1763.6,470.6 L1764.6,467.7 L1765.6,463.9 L1766.7,467.1 L1767.7,465.6 L1768.7,470.4 L1769.7,472.4 L1770.7,466.5 L1771.7,465.6 L1772.7,468.7 L1773.7,465.9 L1774.7,464.4 L1775.6,461.9 L1776.6,449.2 L1777.5,454.6 L1778.4,453.0 L1779.3,450.2 L1780.3,451.4 L1781.3,450.9 L1782.3,452.8 L1783.3,451.0 L1784.3,458.3 L1785.3,463.0 L1786.3,459.5 L1787.3,456.1 L1788.2,466.4 L1789.1,463.7 L1790.1,468.4 L1791.0,463.4 L1792.0,471.2 L1793.0,470.1 L1794.0,472.2 L1795.0,467.9 L1796.0,466.8 L1797.0,484.6 L1798.0,475.8 L1799.0,484.2 L1800.0,484.6 L1801.0,483.5 L1802.0,484.6 L1803.0,487.2 L1804.0,486.9 L1805.0,493.6 L1806.0,490.2 L1807.0,491.0 L1808.1,492.6 L1809.1,495.9 L1810.1,489.6 L1811.2,493.9 L1812.2,492.4 L1813.3,487.3 L1814.3,496.7 L1815.3,501.6 L1816.4,501.8 L1817.4,504.1 L1818.4,500.2 L1819.5,501.3 L1820.5,504.1 L1821.5,507.8 L1822.6,505.3 L1823.6,506.8 L1824.6,512.1 L1825.7,512.5 L1826.7,508.6 L1827.7,518.6 L1828.8,513.9 L1829.8,508.8 L1830.8,511.3 L1831.9,516.6 L1832.9,522.0 L1833.9,517.3 L1834.9,515.2 L1835.8,519.4 L1836.8,519.8 L1837.8,514.8 L1838.7,528.5 L1839.7,523.0 L1840.7,517.3 L1841.7,522.3 L1842.6,516.2 L1843.6,524.5 L1844.6,523.2 L1845.5,521.4 L1846.5,514.5 L1847.5,520.2 L1848.4,518.7 L1849.4,522.2 L1850.4,516.7 L1851.4,524.4 L1852.3,517.6 L1853.3,528.2 L1854.3,519.1 L1855.2,521.6 L1856.2,522.4 L1857.2,521.5 L1858.3,518.5 L1859.3,526.2 L1860.4,519.2 L1861.4,514.5 L1862.4,513.1 L1863.5,504.3 L1864.5,518.4 L1865.5,514.2 L1888.8,514.2 L1888.8,503.7 L1935.4,503.7 L1935.4,516.5 L1962.2,516.5 L1962.2,527.0 L1987.8,527.0 L1987.8,537.5 L2003.0,539.8 L2012.3,542.0 L2013.3,545.4 L2014.3,545.6 L2015.3,549.8 L2016.3,543.0 L2017.3,549.9 L2018.3,548.8 L2019.3,545.6 L2020.3,550.2 L2021.3,548.1 L2022.2,549.4 L2023.2,548.1 L2024.2,547.8 L2025.2,547.9 L2026.2,549.1 L2027.3,546.8 L2028.3,546.7 L2029.3,542.9 L2030.4,547.6 L2031.4,541.6 L2032.5,544.5 L2033.5,542.4 L2034.5,539.8 L2035.6,539.8" stroke="#000" stroke-width="4.5"/>
<polygon points="1425.7,347.0 1429.3,323.0 1434.0,302.0 1437.6,291.0 1438.8,266.0 1441.0,262.0 1443.6,259.0 1446.0,268.0 1448.3,282.9 1450.7,284.0 1454.3,311.4 1456.7,344.8 1453.0,330.0 1450.0,318.0 1446.0,314.0 1440.0,315.0 1436.0,322.0 1431.0,340.0" fill="#000" stroke="#000" stroke-width="3" stroke-linejoin="round"/>
<path d="M114.0,566.8C147.3,566.7 277.2,566.6 313.8,566.2C350.4,565.8 327.1,564.9 333.8,564.2C340.4,563.5 348.8,562.4 353.8,561.8C358.7,561.2 357.1,561.1 363.7,560.8C370.4,560.5 385.4,560.3 393.7,559.8C402.0,559.3 407.0,558.6 413.7,557.8C420.3,557.0 427.0,556.1 433.7,554.8C440.3,553.5 447.0,551.2 453.6,549.8C460.3,548.5 468.3,547.7 473.6,546.8C479.0,546.0 481.2,545.1 485.6,544.8C490.0,544.6 492.7,546.2 500.2,545.2C507.7,544.1 519.0,539.0 530.5,538.7C541.9,538.4 560.6,543.8 568.8,543.6C577.1,543.3 575.0,539.8 580.0,537.4C585.0,534.9 593.2,531.5 598.6,529.0C604.1,526.5 608.0,524.0 612.6,522.4C617.3,520.9 621.1,519.9 626.6,519.6C632.0,519.4 639.8,520.6 645.2,521.0C650.7,521.5 654.5,521.1 659.2,522.4C663.9,523.8 668.5,526.9 673.2,529.0C677.8,531.0 682.5,533.2 687.1,534.6C691.8,536.0 696.9,536.7 701.1,537.4C705.3,538.0 708.4,538.8 712.3,538.3C716.2,537.8 720.8,536.1 724.4,534.6C728.0,533.0 729.8,529.4 733.7,529.0C737.6,528.5 743.3,531.4 747.7,531.8C752.1,532.2 754.2,530.9 760.0,531.3C765.8,531.7 775.6,534.1 782.8,534.1C790.0,534.0 796.9,533.1 803.0,531.0C809.0,529.0 814.1,523.0 819.1,522.0C824.2,520.9 829.2,524.6 833.3,525.0C837.3,525.3 837.2,523.0 843.4,524.0C849.5,525.0 861.7,528.5 870.2,531.0C878.7,533.6 887.7,538.6 894.4,539.1C901.1,539.6 906.2,535.6 910.6,534.1C914.9,532.6 916.6,531.5 920.7,530.0C924.7,528.5 930.4,524.8 934.8,525.0C939.2,525.1 942.5,527.7 946.9,531.0C951.3,534.4 956.3,540.1 961.0,545.2C965.7,550.2 970.1,558.3 975.2,561.3C980.2,564.3 985.2,563.2 991.3,563.3C997.4,563.5 1004.8,563.0 1011.5,562.3C1018.2,561.7 1024.9,561.5 1031.7,559.3C1038.4,557.1 1045.5,551.9 1051.9,549.2C1058.3,546.5 1065.0,543.8 1070.0,543.1C1075.1,542.5 1076.8,543.5 1082.1,545.2C1087.5,546.9 1093.9,551.4 1102.3,553.2C1110.7,555.1 1124.2,555.9 1132.6,556.3C1141.0,556.6 1146.1,556.4 1152.8,555.3C1159.5,554.1 1168.3,551.6 1173.0,549.2C1177.7,546.9 1178.4,546.9 1181.1,541.1C1183.7,535.4 1186.8,518.3 1189.1,514.9C1191.5,511.5 1193.2,515.7 1195.2,520.9C1197.2,526.2 1199.2,542.6 1201.2,546.2C1203.3,549.7 1205.3,542.6 1207.3,542.1C1209.3,541.6 1210.7,542.1 1213.4,543.1C1216.0,544.2 1219.0,547.7 1223.4,548.2C1227.9,548.7 1236.4,546.8 1240.2,546.4C1244.0,546.0 1239.5,545.5 1246.2,545.8C1253.0,546.0 1268.1,545.9 1280.6,547.8C1293.0,549.6 1310.8,555.5 1320.9,556.9C1331.0,558.2 1334.4,556.5 1341.1,555.9C1347.8,555.2 1355.2,554.2 1361.3,552.8C1367.4,551.5 1373.1,551.2 1377.5,547.8C1381.8,544.4 1384.5,539.2 1387.5,532.6C1390.6,526.1 1392.9,520.2 1395.6,508.4C1398.3,496.6 1401.0,478.1 1403.7,462.0C1406.4,445.8 1409.4,425.0 1411.8,411.5C1414.1,398.1 1415.5,389.6 1417.8,381.2C1420.2,372.8 1423.5,367.8 1425.9,361.0C1428.3,354.3 1429.9,345.6 1432.0,340.9C1434.0,336.1 1435.7,333.1 1438.0,332.8C1440.4,332.4 1443.6,337.5 1446.1,338.8C1448.6,340.2 1450.5,342.5 1453.2,340.9C1455.8,339.2 1459.0,332.3 1462.2,328.7C1465.4,325.2 1469.0,319.7 1472.3,319.7C1475.7,319.7 1479.4,324.2 1482.4,328.7C1485.5,333.3 1488.1,339.8 1490.5,346.9C1492.9,354.0 1494.5,360.4 1496.6,371.1C1498.6,381.9 1500.6,398.1 1502.6,411.5C1504.6,425.0 1506.6,438.4 1508.7,451.9C1510.7,465.4 1512.4,481.5 1514.7,492.3C1517.1,503.0 1519.8,511.8 1522.8,516.5C1525.8,521.2 1527.8,519.2 1532.9,520.5C1537.9,521.9 1546.3,523.2 1553.1,524.6C1559.8,525.9 1566.5,527.1 1573.3,528.6C1580.0,530.1 1585.9,532.8 1593.4,533.7C1601.0,534.6 1611.7,532.8 1618.6,534.0C1625.5,535.2 1628.3,539.0 1634.9,541.0C1641.5,542.9 1652.4,544.3 1658.2,545.6C1664.1,547.0 1664.4,547.2 1669.9,549.1C1675.3,551.1 1685.0,556.3 1690.8,557.3C1696.7,558.3 1699.8,555.9 1704.8,555.0C1709.9,554.0 1716.5,553.6 1721.1,551.5C1725.8,549.3 1728.9,546.8 1732.8,542.1C1736.6,537.5 1740.1,529.7 1744.4,523.5C1748.7,517.3 1753.7,509.9 1758.4,504.9C1763.0,499.8 1768.5,495.0 1772.4,493.2C1776.2,491.5 1778.2,492.8 1781.7,494.4C1785.2,495.9 1788.7,500.0 1793.3,502.5C1798.0,505.1 1805.0,507.2 1809.6,509.5C1814.3,511.9 1817.4,514.6 1821.3,516.5C1825.2,518.5 1829.0,520.0 1832.9,521.2C1836.8,522.3 1840.7,522.7 1844.6,523.5C1848.4,524.3 1852.3,525.8 1856.2,525.8C1860.1,525.8 1864.0,524.9 1867.9,523.5C1871.7,522.1 1876.0,520.2 1879.5,517.7C1883.0,515.2 1885.7,512.4 1888.8,508.4C1891.9,504.3 1895.4,496.5 1898.1,493.2C1900.9,489.9 1902.0,488.7 1905.1,488.5C1908.2,488.4 1912.5,489.3 1916.8,492.0C1921.0,494.8 1926.5,500.4 1930.7,504.9C1935.0,509.3 1937.3,515.2 1942.4,518.8C1947.4,522.5 1954.4,524.5 1961.0,527.0C1967.6,529.5 1976.2,531.5 1982.0,534.0C1987.8,536.5 1991.3,539.4 1996.0,542.1C2000.6,544.9 2006.1,548.7 2009.9,550.3C2013.8,551.9 2016.1,552.6 2019.3,551.5C2022.4,550.3 2025.9,545.8 2028.6,543.3C2031.3,540.8 2034.4,537.5 2035.6,536.3" stroke="#EE6677" stroke-width="4.5"/>
<path d="M114.0,565.8C124.0,565.8 156.0,566.1 173.9,565.8C191.9,565.5 208.6,563.8 221.9,563.8C235.2,563.8 238.5,565.5 253.9,565.8C269.2,566.1 300.5,566.0 313.8,565.4C327.1,564.8 327.1,563.5 333.8,562.2C340.4,560.9 347.1,558.8 353.8,557.8C360.4,556.8 367.1,556.5 373.7,556.2C380.4,555.9 387.1,555.9 393.7,555.8C400.4,555.7 407.0,555.8 413.7,555.4C420.3,555.0 427.0,554.8 433.7,553.4C440.3,552.0 447.0,548.8 453.6,546.8C460.3,544.9 466.5,543.5 473.6,541.8C480.7,540.2 486.7,539.0 496.1,537.1C505.6,535.2 521.4,531.1 530.5,530.6C539.5,530.1 543.3,532.3 550.7,534.1C558.1,535.8 568.8,540.5 574.9,541.1C580.9,541.8 583.8,539.5 587.0,538.1C590.2,536.7 591.3,535.6 594.0,532.7C596.7,529.8 600.2,524.9 603.3,520.6C606.4,516.2 609.5,510.6 612.6,506.6C615.7,502.6 618.0,499.8 621.9,496.3C625.8,492.9 632.0,488.8 635.9,486.1C639.8,483.4 642.6,481.4 645.2,480.0C647.9,478.7 649.4,478.1 651.7,478.2C654.1,478.3 656.4,478.6 659.2,480.5C662.0,482.4 665.4,486.3 668.5,489.8C671.6,493.4 674.7,497.7 677.8,501.9C680.9,506.1 684.0,511.1 687.1,515.0C690.2,518.9 693.4,522.7 696.5,525.2C699.6,527.8 703.1,529.4 705.8,530.4C708.4,531.3 710.0,531.4 712.3,530.8C714.6,530.3 717.0,529.3 719.8,527.1C722.5,524.9 726.0,520.9 729.1,517.8C732.2,514.7 735.3,511.1 738.4,508.5C741.5,505.8 744.1,503.3 747.7,501.9C751.3,500.5 754.8,499.3 760.0,500.1C765.2,500.9 771.6,503.7 778.8,506.8C785.9,510.0 795.6,519.3 803.0,518.9C810.4,518.6 817.1,508.9 823.2,504.8C829.2,500.7 834.6,496.5 839.3,494.3C844.0,492.1 847.0,490.9 851.4,491.7C855.9,492.4 859.7,493.9 866.1,498.7C872.6,503.6 883.6,515.4 890.4,520.9C897.1,526.5 901.5,529.9 906.5,532.0C911.6,534.2 916.6,533.6 920.7,534.1C924.7,534.6 927.4,534.2 930.7,535.1C934.1,535.9 935.8,536.1 940.8,539.1C945.9,542.1 955.3,549.2 961.0,553.2C966.7,557.3 970.1,561.4 975.2,563.3C980.2,565.3 985.2,564.7 991.3,565.0C997.4,565.2 1004.8,565.6 1011.5,565.0C1018.2,564.3 1024.9,563.3 1031.7,561.3C1038.4,559.4 1045.1,555.3 1051.9,553.2C1058.6,551.2 1067.0,549.9 1072.0,549.2C1077.1,548.5 1077.1,548.2 1082.1,549.2C1087.2,550.2 1095.6,553.6 1102.3,555.3C1109.1,556.9 1114.1,558.6 1122.5,559.3C1130.9,560.0 1142.7,559.5 1152.8,559.3C1162.9,559.1 1173.0,558.1 1183.1,557.9C1193.2,557.7 1203.8,559.6 1213.4,558.3C1222.9,556.9 1234.7,551.4 1240.2,549.8C1245.7,548.2 1240.2,548.6 1246.2,548.8C1252.3,549.0 1267.4,549.5 1276.5,550.8C1285.6,552.2 1293.3,555.4 1300.7,556.9C1308.1,558.4 1314.2,559.7 1320.9,559.9C1327.7,560.1 1334.4,558.9 1341.1,557.9C1347.8,556.9 1355.2,555.4 1361.3,553.8C1367.4,552.3 1373.1,551.0 1377.5,548.8C1381.8,546.6 1384.2,545.4 1387.5,540.7C1390.9,536.0 1394.6,527.9 1397.6,520.5C1400.7,513.1 1403.0,504.4 1405.7,496.3C1408.4,488.2 1411.1,479.8 1413.8,472.1C1416.5,464.3 1419.2,457.6 1421.9,449.9C1424.6,442.1 1427.2,433.9 1429.9,425.6C1432.6,417.4 1435.7,403.1 1438.0,400.4C1440.4,397.7 1442.0,405.6 1444.1,409.5C1446.1,413.4 1447.9,420.6 1450.1,423.6C1452.3,426.7 1454.2,427.7 1457.2,427.7C1460.2,427.7 1464.4,423.6 1468.3,423.6C1472.2,423.6 1476.7,424.6 1480.4,427.7C1484.1,430.7 1487.1,435.1 1490.5,441.8C1493.9,448.5 1497.6,459.6 1500.6,468.0C1503.6,476.5 1506.0,484.9 1508.7,492.3C1511.4,499.7 1514.0,506.9 1516.7,512.5C1519.4,518.0 1520.4,523.1 1524.8,525.6C1529.2,528.1 1534.9,526.9 1543.0,527.6C1551.1,528.3 1565.9,530.0 1573.3,529.6C1580.7,529.3 1580.6,525.8 1587.4,525.6C1594.2,525.3 1608.0,527.0 1614.0,528.2C1620.0,529.4 1619.4,530.1 1623.3,532.8C1627.2,535.5 1631.4,541.4 1637.3,544.5C1643.1,547.6 1652.0,549.5 1658.2,551.5C1664.4,553.4 1669.1,554.6 1674.5,556.1C1680.0,557.7 1685.8,560.4 1690.8,560.8C1695.9,561.2 1699.4,559.6 1704.8,558.5C1710.2,557.3 1718.4,556.5 1723.4,553.8C1728.5,551.1 1731.2,546.8 1735.1,542.1C1739.0,537.5 1742.9,531.3 1746.7,525.8C1750.6,520.4 1754.5,513.4 1758.4,509.5C1762.3,505.6 1766.9,504.0 1770.0,502.5C1773.1,501.1 1774.3,500.3 1777.0,500.7C1779.7,501.1 1782.8,503.0 1786.3,504.9C1789.8,506.7 1794.1,510.3 1798.0,511.9C1801.9,513.4 1805.7,513.8 1809.6,514.2C1813.5,514.6 1817.0,514.6 1821.3,514.2C1825.5,513.7 1831.4,511.4 1835.2,511.4C1839.1,511.4 1841.1,513.5 1844.6,514.2C1848.1,514.8 1852.3,515.7 1856.2,515.3C1860.1,515.0 1864.0,513.0 1867.9,511.9C1871.7,510.7 1876.4,510.3 1879.5,508.4C1882.6,506.4 1883.8,505.1 1886.5,500.2C1889.2,495.3 1892.7,485.1 1895.8,479.2C1898.9,473.4 1902.4,468.0 1905.1,465.2C1907.8,462.5 1908.6,462.1 1912.1,462.5C1915.6,462.8 1921.8,465.0 1926.1,467.6C1930.4,470.2 1933.1,475.0 1937.7,478.1C1942.4,481.2 1948.2,483.3 1954.0,486.2C1959.9,489.1 1968.0,492.8 1972.7,495.5C1977.3,498.3 1978.9,498.6 1982.0,502.5C1985.1,506.4 1988.2,513.4 1991.3,518.8C1994.4,524.3 1997.5,530.1 2000.6,535.2C2003.7,540.2 2006.8,546.0 2009.9,549.1C2013.0,552.2 2016.1,553.4 2019.3,553.8C2022.4,554.2 2025.9,552.8 2028.6,551.5C2031.3,550.1 2034.4,546.6 2035.6,545.6" stroke="#4477AA" stroke-width="4.5"/>
</g>
<clipPath id="cp2"><rect x="114.0" y="691.5" width="1922.0" height="565.7"/></clipPath>
<g clip-path="url(#cp2)" fill="none" stroke-linejoin="round" stroke-linecap="round">
<path d="M114.3,1175.1 L115.9,1175.1 L115.9,1166.0 L117.6,1166.0 L117.6,1154.2 L119.3,1154.2 L119.3,1142.0 L120.9,1142.0 L120.9,1133.5 L122.7,1133.5 L122.7,1126.0 L124.5,1126.0 L124.5,1110.9 L126.2,1110.9 L126.2,1098.5 L128.0,1098.5 L128.0,1095.3 L129.8,1095.3 L129.8,1090.6 L131.5,1090.6 L131.5,1086.0 L133.3,1086.0 L133.3,1076.8 L135.1,1076.8 L135.1,1069.2 L136.8,1069.2 L136.8,1064.5 L138.6,1064.5 L138.6,1051.9 L140.4,1051.9 L140.4,1037.5 L142.1,1037.5 L142.1,1032.0 L144.1,1032.0 L144.1,1019.8 L146.1,1019.8 L146.1,1002.5 L148.1,1002.5 L148.1,1026.6 L150.1,1026.6 L150.1,1042.8 L151.9,1042.8 L151.9,1063.2 L153.6,1063.2 L153.6,1083.2 L155.4,1083.2 L155.4,1108.8 L157.2,1108.8 L157.2,1124.0 L158.9,1124.0 L158.9,1142.0 L160.7,1142.0 L160.7,1163.2 L162.3,1163.2 L162.3,1162.9 L163.9,1162.9 L163.9,1169.8 L165.5,1169.8 L165.5,1186.8 L167.1,1186.8 L167.1,1195.0 L168.7,1195.0 L168.7,1197.7 L170.3,1197.7 L170.3,1206.2 L171.8,1206.2 L171.8,1210.1 L173.4,1210.1 L173.4,1214.5 L175.0,1214.5 L175.0,1232.2 L176.6,1232.2 L176.6,1227.7 L178.4,1227.7 L178.4,1233.1 L180.3,1233.1 L180.3,1217.3 L182.1,1217.3 L182.1,1236.7 L183.7,1236.7 L183.7,1231.0 L185.4,1231.0 L185.4,1216.5 L187.0,1216.5 L187.0,1220.3 L188.7,1220.3 L188.7,1214.2 L190.4,1214.2 L190.4,1196.3 L192.1,1196.3 L192.1,1221.6 L193.8,1221.6 L193.8,1224.4 L195.5,1224.4 L195.5,1218.9 L197.3,1218.9 L197.3,1220.9 L199.0,1220.9 L199.0,1221.3 L200.7,1221.3 L200.7,1224.6 L202.4,1224.6 L202.4,1234.8 L204.2,1234.8 L204.2,1230.1 L205.9,1230.1 L205.9,1216.1 L207.6,1216.1 L207.6,1221.7 L209.3,1221.7 L209.3,1210.5 L211.1,1210.5 L211.1,1234.2 L212.8,1234.2 L212.8,1227.1 L214.5,1227.1 L214.5,1210.7 L216.2,1210.7 L216.2,1226.7 L218.0,1226.7 L218.0,1226.8 L219.7,1226.8 L219.7,1228.4 L221.4,1228.4 L221.4,1229.7 L223.0,1229.7 L223.0,1231.3 L224.6,1231.3 L224.6,1234.0 L226.2,1234.0 L226.2,1225.5 L227.8,1225.5 L227.8,1226.5 L229.4,1226.5 L229.4,1226.5 L231.0,1226.5 L231.0,1223.5 L232.6,1223.5 L232.6,1221.6 L234.1,1221.6 L234.1,1222.2 L235.7,1222.2 L235.7,1219.2 L237.3,1219.2 L237.3,1219.8 L238.9,1219.8 L238.9,1225.6 L240.5,1225.6 L240.5,1226.6 L242.1,1226.6 L242.1,1223.9 L243.7,1223.9 L243.7,1222.0 L245.3,1222.0 L245.3,1229.4 L246.9,1229.4 L246.9,1235.9 L248.5,1235.9 L248.5,1225.6 L250.1,1225.6 L250.1,1219.1 L251.7,1219.1 L251.7,1219.6 L253.3,1219.6 L253.3,1223.9 L254.9,1223.9 L254.9,1227.7 L256.4,1227.7 L256.4,1220.8 L258.0,1220.8 L258.0,1226.6 L259.6,1226.6 L259.6,1225.8 L261.2,1225.8 L261.2,1215.7 L262.8,1215.7 L262.8,1226.9 L264.4,1226.9 L264.4,1229.8 L266.0,1229.8 L266.0,1224.0 L267.6,1224.0 L267.6,1213.5 L269.2,1213.5 L269.2,1230.5 L270.8,1230.5 L270.8,1222.1 L272.4,1222.1 L272.4,1223.8 L274.0,1223.8 L274.0,1224.3 L275.6,1224.3 L275.6,1222.7 L277.1,1222.7 L277.1,1230.0 L278.7,1230.0 L278.7,1223.8 L280.3,1223.8 L280.3,1222.7 L281.9,1222.7 L281.9,1221.4 L283.5,1221.4 L283.5,1226.9 L285.1,1226.9 L285.1,1224.2 L286.7,1224.2 L286.7,1222.1 L288.3,1222.1 L288.3,1224.6 L289.9,1224.6 L289.9,1211.9 L291.5,1211.9 L291.5,1214.3 L293.1,1214.3 L293.1,1219.4 L294.7,1219.4 L294.7,1215.3 L296.3,1215.3 L296.3,1213.4 L297.9,1213.4 L297.9,1220.7 L299.4,1220.7 L299.4,1205.9 L301.0,1205.9 L301.0,1223.4 L302.6,1223.4 L302.6,1215.0 L304.2,1215.0 L304.2,1218.8 L305.9,1218.8 L305.9,1216.2 L307.7,1216.2 L307.7,1199.0 L309.4,1199.0 L309.4,1215.0 L311.1,1215.0 L311.1,1209.2 L312.9,1209.2 L312.9,1205.3 L314.6,1205.3 L314.6,1209.3 L316.3,1209.3 L316.3,1200.6 L318.0,1200.6 L318.0,1201.4 L319.8,1201.4 L319.8,1203.9 L321.5,1203.9 L321.5,1200.5 L323.2,1200.5 L323.2,1206.4 L324.9,1206.4 L324.9,1195.3 L327.0,1195.3 L327.0,1220.1 L328.7,1220.1 L328.7,1220.1 L330.3,1220.1 L330.3,1221.3 L332.0,1221.3 L332.0,1221.3 L333.6,1221.3 L333.6,1224.3 L335.3,1224.3 L335.3,1226.5 L337.0,1226.5 L337.0,1236.3 L338.7,1236.3 L338.7,1233.2 L340.5,1233.2 L340.5,1240.6 L342.2,1240.6 L342.2,1243.0 L343.9,1243.0 L343.9,1241.9 L345.6,1241.9 L345.6,1248.8 L347.0,1248.8 L347.0,1239.3 L348.4,1239.3 L348.4,1232.4 L349.8,1232.4 L349.8,1223.6 L351.3,1223.6 L351.3,1229.6 L352.8,1229.6 L352.8,1232.5 L354.3,1232.5 L354.3,1228.8 L355.9,1228.8 L355.9,1225.5 L357.5,1225.5 L357.5,1220.0 L359.1,1220.0 L359.1,1202.8 L360.7,1202.8 L360.7,1194.2 L362.3,1194.2 L362.3,1188.5 L363.9,1188.5 L363.9,1173.3 L365.5,1173.3 L365.5,1153.8 L367.1,1153.8 L367.1,1132.3 L368.7,1132.3 L368.7,1109.6 L370.3,1109.6 L370.3,1093.5 L371.8,1093.5 L371.8,1079.9 L373.4,1079.9 L373.4,1074.1 L375.0,1074.1 L375.0,1057.7 L376.6,1057.7 L376.6,1039.1 L378.2,1039.1 L378.2,1023.2 L379.8,1023.2 L379.8,1022.7 L381.4,1022.7 L381.4,1018.2 L383.0,1018.2 L383.0,1003.2 L384.6,1003.2 L384.6,993.6 L386.2,993.6 L386.2,993.0 L387.9,993.0 L387.9,981.7 L389.7,981.7 L389.7,967.3 L391.5,967.3 L391.5,962.5 L393.5,962.5 L393.5,938.4 L395.5,938.4 L395.5,924.0 L396.8,924.0 L396.8,924.1 L398.1,924.1 L398.1,901.5 L400.1,901.5 L400.1,935.8 L402.1,935.8 L402.1,963.7 L403.9,963.7 L403.9,968.5 L405.6,968.5 L405.6,985.1 L407.4,985.1 L407.4,1003.2 L409.0,1003.2 L409.0,1009.2 L410.6,1009.2 L410.6,1026.1 L412.2,1026.1 L412.2,1035.4 L413.8,1035.4 L413.8,1037.8 L415.3,1037.8 L415.3,1056.3 L416.9,1056.3 L416.9,1065.2 L418.5,1065.2 L418.5,1068.6 L420.1,1068.6 L420.1,1076.6 L421.7,1076.6 L421.7,1088.5 L423.3,1088.5 L423.3,1086.7 L424.9,1086.7 L424.9,1080.8 L426.5,1080.8 L426.5,1093.5 L428.1,1093.5 L428.1,1094.3 L429.7,1094.3 L429.7,1085.1 L431.3,1085.1 L431.3,1079.1 L432.9,1079.1 L432.9,1091.4 L434.4,1091.4 L434.4,1092.1 L436.0,1092.1 L436.0,1109.6 L437.6,1109.6 L437.6,1104.6 L439.2,1104.6 L439.2,1106.3 L440.9,1106.3 L440.9,1111.8 L442.6,1111.8 L442.6,1128.5 L444.3,1128.5 L444.3,1136.0 L446.0,1136.0 L446.0,1132.1 L447.6,1132.1 L447.6,1144.8 L449.3,1144.8 L449.3,1143.8 L450.9,1143.8 L450.9,1149.8 L452.4,1149.8 L452.4,1155.2 L454.0,1155.2 L454.0,1150.2 L455.5,1150.2 L455.5,1156.1 L457.1,1156.1 L457.1,1168.0 L458.6,1168.0 L458.6,1148.3 L460.2,1148.3 L460.2,1171.0 L461.7,1171.0 L461.7,1177.9 L463.3,1177.9 L463.3,1180.5 L464.8,1180.5 L464.8,1188.2 L466.4,1188.2 L466.4,1177.3 L468.0,1177.3 L468.0,1158.6 L469.5,1158.6 L469.5,1158.7 L471.1,1158.7 L471.1,1207.6 L472.6,1207.6 L472.6,1197.7 L474.2,1197.7 L474.2,1197.7 L475.7,1197.7 L475.7,1202.0 L477.3,1202.0 L477.3,1213.9 L478.8,1213.9 L478.8,1199.3 L480.4,1199.3 L480.4,1203.1 L481.9,1203.1 L481.9,1207.0 L483.5,1207.0 L483.5,1204.5 L485.0,1204.5 L485.0,1196.4 L486.6,1196.4 L486.6,1207.5 L488.1,1207.5 L488.1,1210.9 L489.7,1210.9 L489.7,1211.1 L491.2,1211.1 L491.2,1210.2 L492.8,1210.2 L492.8,1206.4 L494.3,1206.4 L494.3,1224.5 L495.9,1224.5 L495.9,1222.1 L497.5,1222.1 L497.5,1240.2 L499.0,1240.2 L499.0,1218.9 L500.6,1218.9 L500.6,1210.1 L502.1,1210.1 L502.1,1250.6 L503.7,1250.6 L503.7,1216.1 L505.2,1216.1 L505.2,1235.9 L506.8,1235.9 L506.8,1212.3 L508.3,1212.3 L508.3,1217.9 L509.9,1217.9 L509.9,1230.4 L511.4,1230.4 L511.4,1238.9 L513.0,1238.9 L513.0,1230.0 L514.5,1230.0 L514.5,1249.5 L516.1,1249.5 L516.1,1238.8 L517.6,1238.8 L517.6,1244.2 L519.2,1244.2 L519.2,1247.1 L520.7,1247.1 L520.7,1242.4 L522.3,1242.4 L522.3,1238.6 L523.9,1238.6 L523.9,1245.1 L525.4,1245.1 L525.4,1253.6 L527.0,1253.6 L527.0,1251.8 L528.5,1251.8 L528.5,1243.7 L530.1,1243.7 L530.1,1214.8 L531.6,1214.8 L531.6,1244.3 L533.2,1244.3 L533.2,1245.6 L534.7,1245.6 L534.7,1239.6 L536.3,1239.6 L536.3,1235.8 L537.8,1235.8 L537.8,1240.8 L539.4,1240.8 L539.4,1236.6 L540.9,1236.6 L540.9,1229.3 L542.5,1229.3 L542.5,1253.2 L544.0,1253.2 L544.0,1237.1 L545.6,1237.1 L545.6,1241.6 L547.1,1241.6 L547.1,1240.4 L548.7,1240.4 L548.7,1236.9 L550.2,1236.9 L550.2,1238.5 L551.8,1238.5 L551.8,1245.4 L553.4,1245.4 L553.4,1244.1 L554.9,1244.1 L554.9,1239.4 L556.5,1239.4 L556.5,1240.4 L558.0,1240.4 L558.0,1252.9 L559.6,1252.9 L559.6,1236.7 L561.1,1236.7 L561.1,1239.5 L562.7,1239.5 L562.7,1246.9 L564.2,1246.9 L564.2,1252.1 L565.8,1252.1 L565.8,1246.7 L567.3,1246.7 L567.3,1245.0 L568.9,1245.0 L568.9,1238.5 L570.4,1238.5 L570.4,1241.0 L572.0,1241.0 L572.0,1245.4 L573.5,1245.4 L573.5,1245.0 L575.1,1245.0 L575.1,1246.6 L576.6,1246.6 L576.6,1230.5 L578.2,1230.5 L578.2,1202.6 L579.8,1202.6 L579.8,1239.4 L581.3,1239.4 L581.3,1226.9 L582.9,1226.9 L582.9,1239.5 L584.4,1239.5 L584.4,1237.5 L586.0,1237.5 L586.0,1228.5 L587.5,1228.5 L587.5,1243.7 L589.1,1243.7 L589.1,1242.0 L590.6,1242.0 L590.6,1231.2 L592.2,1231.2 L592.2,1226.7 L593.7,1226.7 L593.7,1190.3 L595.3,1190.3 L595.3,1226.1 L596.8,1226.1 L596.8,1221.4 L598.4,1221.4 L598.4,1206.7 L600.2,1206.7 L600.2,1197.2 L602.1,1197.2 L602.1,1195.9 L604.0,1195.9 L604.0,1176.4 L604.1,1176.4 L604.1,1180.6 L605.6,1180.6 L605.6,1172.9 L607.2,1172.9 L607.2,1162.4 L608.8,1162.4 L608.8,1154.4 L610.4,1154.4 L610.4,1150.1 L612.0,1150.1 L612.0,1133.6 L613.6,1133.6 L613.6,1126.5 L615.2,1126.5 L615.2,1123.8 L616.8,1123.8 L616.8,1120.0 L618.4,1120.0 L618.4,1117.6 L620.0,1117.6 L620.0,1106.2 L621.6,1106.2 L621.6,1103.7 L623.2,1103.7 L623.2,1101.5 L624.7,1101.5 L624.7,1098.5 L626.3,1098.5 L626.3,1101.2 L627.9,1101.2 L627.9,1097.6 L629.7,1097.6 L629.7,1092.2 L631.5,1092.2 L631.5,1088.4 L633.2,1088.4 L633.2,1088.0 L634.8,1088.0 L634.8,1083.7 L636.4,1083.7 L636.4,1086.8 L638.0,1086.8 L638.0,1087.3 L639.6,1087.3 L639.6,1091.7 L641.2,1091.7 L641.2,1091.0 L643.0,1091.0 L643.0,1097.6 L644.7,1097.6 L644.7,1108.4 L646.5,1108.4 L646.5,1121.1 L648.1,1121.1 L648.1,1129.6 L649.7,1129.6 L649.7,1147.5 L651.3,1147.5 L651.3,1148.9 L652.9,1148.9 L652.9,1166.5 L654.5,1166.5 L654.5,1174.0 L656.0,1174.0 L656.0,1176.2 L657.6,1176.2 L657.6,1173.4 L659.2,1173.4 L659.2,1167.8 L660.8,1167.8 L660.8,1172.6 L662.4,1172.6 L662.4,1176.0 L664.0,1176.0 L664.0,1170.7 L665.6,1170.7 L665.6,1168.3 L667.2,1168.3 L667.2,1157.0 L668.8,1157.0 L668.8,1156.2 L670.4,1156.2 L670.4,1148.3 L672.0,1148.3 L672.0,1140.2 L673.6,1140.2 L673.6,1136.1 L675.1,1136.1 L675.1,1126.5 L676.7,1126.5 L676.7,1118.8 L678.3,1118.8 L678.3,1110.3 L679.9,1110.3 L679.9,1094.5 L681.5,1094.5 L681.5,1081.5 L683.1,1081.5 L683.1,1063.5 L684.7,1063.5 L684.7,1050.0 L686.3,1050.0 L686.3,1041.9 L688.1,1041.9 L688.1,1030.2 L689.8,1030.2 L689.8,1016.6 L691.6,1016.6 L691.6,999.9 L693.2,999.9 L693.2,997.9 L694.8,997.9 L694.8,980.4 L696.4,980.4 L696.4,980.5 L698.0,980.5 L698.0,965.9 L699.5,965.9 L699.5,963.4 L701.1,963.4 L701.1,954.6 L702.7,954.6 L702.7,947.8 L704.3,947.8 L704.3,950.5 L705.9,950.5 L705.9,937.2 L707.5,937.2 L707.5,934.0 L709.3,934.0 L709.3,932.8 L711.0,932.8 L711.0,914.0 L712.8,914.0 L712.8,910.6 L714.8,910.6 L714.8,898.0 L716.8,898.0 L716.8,882.0 L718.8,882.0 L718.8,900.9 L720.8,900.9 L720.8,923.2 L722.5,923.2 L722.5,945.0 L724.3,945.0 L724.3,966.6 L726.1,966.6 L726.1,988.5 L727.8,988.5 L727.8,1011.6 L729.6,1011.6 L729.6,1029.9 L731.4,1029.9 L731.4,1052.0 L733.1,1052.0 L733.1,1072.5 L734.9,1072.5 L734.9,1087.6 L736.7,1087.6 L736.7,1103.3 L738.3,1103.3 L738.3,1115.2 L739.9,1115.2 L739.9,1127.2 L741.5,1127.2 L741.5,1132.4 L743.1,1132.4 L743.1,1141.2 L744.6,1141.2 L744.6,1154.4 L746.2,1154.4 L746.2,1153.1 L747.8,1153.1 L747.8,1164.7 L749.4,1164.7 L749.4,1166.0 L751.0,1166.0 L751.0,1169.7 L752.6,1169.7 L752.6,1172.4 L754.2,1172.4 L754.2,1189.5 L755.8,1189.5 L755.8,1184.1 L757.4,1184.1 L757.4,1165.1 L759.0,1165.1 L759.0,1202.9 L760.6,1202.9 L760.6,1203.3 L762.1,1203.3 L762.1,1199.1 L763.7,1199.1 L763.7,1187.2 L765.3,1187.2 L765.3,1196.2 L766.9,1196.2 L766.9,1194.3 L768.5,1194.3 L768.5,1192.9 L770.1,1192.9 L770.1,1198.9 L771.7,1198.9 L771.7,1197.1 L773.3,1197.1 L773.3,1184.3 L774.9,1184.3 L774.9,1187.4 L776.5,1187.4 L776.5,1188.9 L778.1,1188.9 L778.1,1197.1 L779.7,1197.1 L779.7,1188.8 L781.2,1188.8 L781.2,1191.2 L782.8,1191.2 L782.8,1183.0 L784.4,1183.0 L784.4,1200.1 L786.0,1200.1 L786.0,1191.6 L787.6,1191.6 L787.6,1184.2 L789.2,1184.2 L789.2,1192.0 L790.8,1192.0 L790.8,1185.5 L792.4,1185.5 L792.4,1181.9 L794.0,1181.9 L794.0,1167.2 L795.6,1167.2 L795.6,1164.2 L797.2,1164.2 L797.2,1156.5 L798.8,1156.5 L798.8,1161.3 L800.3,1161.3 L800.3,1148.7 L801.9,1148.7 L801.9,1138.3 L803.5,1138.3 L803.5,1125.9 L805.1,1125.9 L805.1,1129.4 L806.7,1129.4 L806.7,1110.5 L808.3,1110.5 L808.3,1113.0 L810.1,1113.0 L810.1,1107.9 L811.8,1107.9 L811.8,1085.7 L813.6,1085.7 L813.6,1071.4 L815.2,1071.4 L815.2,1075.1 L816.8,1075.1 L816.8,1057.2 L818.4,1057.2 L818.4,1055.4 L820.0,1055.4 L820.0,1057.1 L821.6,1057.1 L821.6,1053.0 L823.3,1053.0 L823.3,1042.1 L825.1,1042.1 L825.1,1041.6 L826.9,1041.6 L826.9,1028.5 L829.5,1108.1 L840.1,1108.1 L840.1,1182.4 L852.1,1182.4 L852.1,1219.6 L864.0,1219.6 L864.0,1222.2 L874.6,1216.9 L874.6,1214.2 L889.5,1215.4 L889.5,1201.9 L899.8,1201.9 L899.8,1193.7 L912.3,1193.7 L912.3,1194.7 L922.6,1194.7 L922.6,1212.3 L933.0,1212.3 L933.0,1219.5 L943.3,1219.5 L943.3,1214.4 L953.7,1214.4 L953.7,1210.2 L966.1,1210.2 L966.1,1214.4 L978.5,1214.4 L978.5,1220.6 L987.8,1220.6 L987.8,1230.9 L997.2,1230.9 L997.2,1236.1 L1015.8,1236.1 L1015.8,1230.9 L1036.5,1232.0 L1044.8,1234.0 L1053.1,1234.0 L1053.1,1229.9 L1065.5,1229.9 L1065.5,1219.5 L1092.4,1219.5 L1092.4,1227.8 L1100.7,1227.8 L1100.7,1234.0 L1111.0,1234.0 L1111.0,1236.1 L1156.6,1238.2 L1156.6,1242.3 L1198.0,1242.3 L1198.0,1240.3 L1206.3,1241.3 L1247.7,1241.3 L1253.9,1242.3 L1253.9,1244.4 L1280.7,1243.0 L1299.3,1243.0 L1299.3,1241.9 L1342.8,1240.9 L1363.5,1237.8 L1371.8,1233.6 L1380.1,1231.6 L1390.4,1229.5 L1400.8,1230.5 L1407.0,1231.6 L1409.1,1236.7 L1417.3,1241.9 L1425.6,1244.0 L1442.2,1240.9 L1450.5,1239.8 L1456.7,1239.8 L1456.7,1231.6 L1467.0,1227.4 L1471.2,1219.1 L1475.3,1212.9 L1477.4,1190.2 L1481.5,1190.2 L1482.6,1119.8 L1486.7,1119.8 L1486.7,1035.9 L1490.8,1035.9 L1490.8,997.6 L1496.0,997.6 L1500.2,999.7 L1500.2,1024.5 L1504.3,1024.5 L1505.3,1037.0 L1508.4,1037.0 L1510.5,1042.1 L1516.7,1039.0 L1522.9,1037.0 L1529.2,1039.0 L1531.2,1056.6 L1535.4,1056.6 L1536.4,1123.9 L1540.5,1123.9 L1541.6,1194.3 L1544.7,1194.3 L1545.7,1248.1 L1549.9,1244.0 L1560.2,1239.8 L1570.6,1239.8 L1580.9,1240.9 L1587.1,1241.9 L1595.4,1246.1 L1607.8,1247.1 L1622.3,1245.0 L1632.7,1246.1 L1643.0,1246.1 L1650.6,1237.5 L1652.1,1237.5 L1652.1,1247.2 L1653.6,1247.2 L1653.6,1248.3 L1655.2,1248.3 L1655.2,1245.0 L1656.7,1245.0 L1656.7,1246.4 L1658.2,1246.4 L1658.2,1244.2 L1659.7,1244.2 L1659.7,1240.5 L1661.2,1240.5 L1661.2,1241.2 L1662.7,1241.2 L1662.7,1245.6 L1664.3,1245.6 L1664.3,1247.7 L1665.8,1247.7 L1665.8,1250.0 L1667.3,1250.0 L1667.3,1245.9 L1668.8,1245.9 L1668.8,1247.7 L1670.3,1247.7 L1670.3,1249.9 L1671.8,1249.9 L1671.8,1246.5 L1673.3,1246.5 L1673.3,1248.6 L1674.9,1248.6 L1674.9,1251.0 L1676.4,1251.0 L1676.4,1247.1 L1677.9,1247.1 L1677.9,1247.0 L1679.4,1247.0 L1679.4,1238.6 L1680.9,1238.6 L1680.9,1234.0 L1682.4,1234.0 L1682.4,1244.2 L1684.0,1244.2 L1684.0,1243.6 L1685.5,1243.6 L1685.5,1243.1 L1687.0,1243.1 L1687.0,1245.9 L1688.5,1245.9 L1688.5,1239.3 L1690.0,1239.3 L1690.0,1243.0 L1691.5,1243.0 L1691.5,1240.8 L1693.1,1240.8 L1693.1,1242.9 L1694.6,1242.9 L1694.6,1241.7 L1696.1,1241.7 L1696.1,1240.9 L1697.6,1240.9 L1697.6,1243.5 L1699.1,1243.5 L1699.1,1237.9 L1700.6,1237.9 L1700.6,1240.0 L1702.1,1240.0 L1702.1,1243.7 L1703.7,1243.7 L1703.7,1238.7 L1705.2,1238.7 L1705.2,1238.5 L1706.7,1238.5 L1706.7,1241.6 L1708.2,1241.6 L1708.2,1240.6 L1709.7,1240.6 L1709.7,1238.0 L1711.2,1238.0 L1711.2,1240.2 L1712.8,1240.2 L1712.8,1245.2 L1714.3,1245.2 L1714.3,1240.8 L1715.8,1240.8 L1715.8,1238.2 L1717.3,1238.2 L1717.3,1238.9 L1718.8,1238.9 L1718.8,1238.9 L1720.3,1238.9 L1720.3,1241.0 L1721.9,1241.0 L1721.9,1240.9 L1723.4,1240.9 L1723.4,1238.3 L1724.9,1238.3 L1724.9,1240.0 L1726.4,1240.0 L1726.4,1239.8 L1727.9,1239.8 L1727.9,1237.3 L1729.4,1237.3 L1729.4,1242.5 L1730.9,1242.5 L1730.9,1242.2 L1732.5,1242.2 L1732.5,1241.3 L1734.0,1241.3 L1734.0,1240.7 L1735.5,1240.7 L1735.5,1241.4 L1737.0,1241.4 L1737.0,1240.9 L1738.5,1240.9 L1738.5,1240.3 L1740.0,1240.3 L1740.0,1238.7 L1741.6,1238.7 L1741.6,1239.8 L1743.1,1239.8 L1743.1,1242.0 L1744.6,1242.0 L1744.6,1238.4 L1746.1,1238.4 L1746.1,1244.6 L1747.6,1244.6 L1747.6,1239.5 L1749.1,1239.5 L1749.1,1244.4 L1750.7,1244.4 L1750.7,1245.9 L1752.2,1245.9 L1752.2,1244.9 L1753.7,1244.9 L1753.7,1243.2 L1755.2,1243.2 L1755.2,1242.8 L1756.7,1242.8 L1756.7,1242.5 L1758.3,1242.5 L1758.3,1242.1 L1759.9,1242.1 L1759.9,1236.9 L1761.5,1236.9 L1761.5,1231.1 L1763.1,1231.1 L1763.1,1230.3 L1764.8,1230.3 L1764.8,1227.3 L1766.5,1227.3 L1766.5,1227.1 L1768.2,1227.1 L1768.2,1227.0 L1769.9,1227.0 L1769.9,1225.7 L1771.6,1225.7 L1771.6,1224.7 L1773.3,1224.7 L1773.3,1224.8 L1775.0,1224.8 L1775.0,1223.0 L1776.7,1223.0 L1776.7,1221.0 L1778.4,1221.0 L1778.4,1218.2 L1780.1,1218.2 L1780.1,1219.1 L1781.8,1219.1 L1781.8,1217.5 L1783.5,1217.5 L1783.5,1217.0 L1785.2,1217.0 L1785.2,1216.4 L1786.9,1216.4 L1786.9,1213.1 L1788.6,1213.1 L1788.6,1216.3 L1790.0,1216.3 L1790.0,1209.7 L1791.4,1209.7 L1791.4,1208.3 L1792.8,1208.3 L1792.8,1203.3 L1794.2,1203.3 L1794.2,1207.3 L1795.6,1207.3 L1795.6,1200.9 L1797.0,1200.9 L1797.0,1194.2 L1798.5,1194.2 L1798.5,1201.9 L1799.9,1201.9 L1799.9,1205.8 L1801.3,1205.8 L1801.3,1210.9 L1803.0,1210.9 L1803.0,1212.4 L1804.7,1212.4 L1804.7,1213.1 L1806.4,1213.1 L1806.4,1212.8 L1808.1,1212.8 L1808.1,1213.4 L1809.8,1213.4 L1809.8,1215.7 L1811.3,1215.7 L1811.3,1213.4 L1812.8,1213.4 L1812.8,1214.7 L1814.3,1214.7 L1814.3,1212.2 L1815.8,1212.2 L1815.8,1217.2 L1817.4,1217.2 L1817.4,1217.0 L1818.9,1217.0 L1818.9,1212.0 L1820.4,1212.0 L1820.4,1217.8 L1821.9,1217.8 L1821.9,1212.0 L1823.4,1212.0 L1823.4,1218.5 L1824.9,1218.5 L1824.9,1216.7 L1826.4,1216.7 L1826.4,1218.2 L1828.0,1218.2 L1828.0,1217.2 L1829.5,1217.2 L1829.5,1218.7 L1831.0,1218.7 L1831.0,1215.7 L1832.7,1215.7 L1832.7,1223.3 L1834.4,1223.3 L1834.4,1222.4 L1836.1,1222.4 L1836.1,1224.8 L1837.8,1224.8 L1837.8,1222.8 L1839.5,1222.8 L1839.5,1220.3 L1841.2,1220.3 L1841.2,1221.1 L1842.9,1221.1 L1842.9,1226.9 L1844.6,1226.9 L1844.6,1226.0 L1846.3,1226.0 L1846.3,1227.8 L1848.0,1227.8 L1848.0,1231.4 L1849.7,1231.4 L1849.7,1235.2 L1851.4,1235.2 L1851.4,1232.9 L1853.1,1232.9 L1853.1,1232.0 L1854.8,1232.0 L1854.8,1233.6 L1856.5,1233.6 L1856.5,1235.0 L1858.0,1235.0 L1858.0,1238.6 L1859.5,1238.6 L1859.5,1234.0 L1861.0,1234.0 L1861.0,1234.3 L1862.5,1234.3 L1862.5,1233.5 L1864.0,1233.5 L1864.0,1230.0 L1865.6,1230.0 L1865.6,1235.7 L1867.1,1235.7 L1867.1,1232.0 L1869.2,1232.0 L1869.2,1211.2 L1870.8,1211.2 L1870.8,1209.7 L1872.4,1209.7 L1872.4,1208.1 L1874.0,1208.1 L1874.0,1211.9 L1875.6,1211.9 L1875.6,1206.4 L1877.3,1206.4 L1877.3,1208.7 L1879.0,1208.7 L1879.0,1209.7 L1880.7,1209.7 L1880.7,1210.5 L1882.3,1210.5 L1882.3,1213.0 L1884.0,1213.0 L1884.0,1210.3 L1885.6,1210.3 L1885.6,1212.9 L1887.2,1212.9 L1887.2,1216.1 L1888.8,1216.1 L1888.8,1215.1 L1890.4,1215.1 L1890.4,1220.1 L1891.8,1220.1 L1891.8,1216.2 L1893.2,1216.2 L1893.2,1219.0 L1894.7,1219.0 L1894.7,1220.5 L1896.4,1220.5 L1896.4,1213.0 L1898.1,1213.0 L1898.1,1202.5 L1899.8,1202.5 L1899.8,1203.3 L1901.4,1203.3 L1901.4,1200.4 L1903.1,1200.4 L1903.1,1198.7 L1904.8,1198.7 L1904.8,1194.2 L1906.5,1194.2 L1906.5,1192.0 L1908.2,1192.0 L1908.2,1199.0 L1909.9,1199.0 L1909.9,1195.5 L1911.6,1195.5 L1911.6,1186.9 L1913.3,1186.9 L1913.3,1195.5 L1915.0,1195.5 L1915.0,1197.5 L1916.7,1197.5 L1916.7,1194.2 L1918.4,1194.2 L1918.4,1194.0 L1920.1,1194.0 L1920.1,1192.7 L1921.8,1192.7 L1921.8,1192.3 L1923.5,1192.3 L1923.5,1191.5 L1925.2,1191.5 L1925.2,1191.4 L1926.9,1191.4 L1926.9,1197.2 L1928.6,1197.2 L1928.6,1194.3 L1930.3,1194.3 L1930.3,1189.5 L1932.0,1189.5 L1932.0,1189.9 L1933.7,1189.9 L1933.7,1192.9 L1935.4,1192.9 L1935.4,1190.7 L1937.1,1190.7 L1937.1,1189.5 L1938.7,1189.5 L1938.7,1190.7 L1940.3,1190.7 L1940.3,1188.3 L1941.9,1188.3 L1941.9,1187.2 L1943.5,1187.2 L1943.5,1187.5 L1944.9,1187.5 L1944.9,1197.2 L1946.3,1197.2 L1946.3,1195.6 L1947.7,1195.6 L1947.7,1202.5 L1949.4,1202.5 L1949.4,1206.3 L1951.1,1206.3 L1951.1,1204.3 L1952.8,1204.3 L1952.8,1207.2 L1954.5,1207.2 L1954.5,1206.5 L1956.2,1206.5 L1956.2,1206.4 L1957.8,1206.4 L1957.8,1211.5 L1959.4,1211.5 L1959.4,1212.7 L1961.0,1212.7 L1961.0,1213.5 L1962.6,1213.5 L1962.6,1215.9 L1964.2,1215.9 L1964.2,1216.2 L1965.8,1216.2 L1965.8,1220.2 L1967.3,1220.2 L1967.3,1221.4 L1968.9,1221.4 L1968.9,1221.1 L1970.7,1221.1 L1970.7,1225.7 L1972.5,1225.7 L1972.5,1228.2 L1974.2,1228.2 L1974.2,1230.4 L1976.0,1230.4 L1976.0,1227.6 L1977.8,1227.6 L1977.8,1221.5 L1979.5,1221.5 L1979.5,1216.2 L1981.2,1216.2 L1981.2,1216.2 L1982.9,1216.2 L1982.9,1214.8 L1984.6,1214.8 L1984.6,1214.1 L1986.3,1214.1 L1986.3,1213.7 L1988.0,1213.7 L1988.0,1211.7 L1989.4,1211.7 L1989.4,1205.7 L1990.9,1205.7 L1990.9,1202.7 L1992.3,1202.7 L1992.3,1193.8 L1994.0,1193.8 L1994.0,1193.9 L1995.7,1193.9 L1995.7,1198.0 L1997.4,1198.0 L1997.4,1195.0 L1999.1,1195.0 L1999.1,1196.3 L2000.8,1196.3 L2000.8,1199.2 L2002.5,1199.2 L2002.5,1196.1 L2004.2,1196.1 L2004.2,1200.1 L2005.9,1200.1 L2005.9,1196.6 L2007.6,1196.6 L2007.6,1200.3 L2009.3,1200.3 L2009.3,1201.7 L2011.0,1201.7 L2011.0,1197.6 L2012.7,1197.6 L2012.7,1197.3 L2014.3,1197.3 L2014.3,1197.9 L2016.0,1197.9 L2016.0,1194.5 L2017.7,1194.5 L2017.7,1196.0 L2019.2,1196.0 L2019.2,1201.9 L2020.6,1201.9 L2020.6,1202.5 L2022.0,1202.5 L2022.0,1206.0 L2023.5,1206.0 L2023.5,1203.6 L2025.0,1203.6 L2025.0,1203.7 L2026.5,1203.7 L2026.5,1207.1 L2028.1,1207.1 L2028.1,1205.2 L2029.6,1205.2 L2029.6,1204.3 L2031.1,1204.3 L2031.1,1206.6 L2032.6,1206.6 L2032.6,1205.8 L2034.2,1205.8 L2034.2,1209.1 L2035.8,1209.1 L2035.8,1208.1" stroke="#000" stroke-width="4.5"/>
<path d="M114.3,1147.9C115.4,1136.9 118.5,1103.7 120.9,1081.6C123.3,1059.5 126.2,1031.6 128.9,1015.3C131.5,998.9 134.6,989.6 136.8,983.5C139.0,977.3 140.1,976.4 142.1,978.1C144.1,979.9 146.6,981.2 148.8,994.1C151.0,1006.9 153.4,1033.0 155.4,1055.1C157.4,1077.2 158.5,1105.0 160.7,1126.7C162.9,1148.4 166.0,1168.3 168.7,1185.1C171.3,1201.9 174.7,1217.9 176.6,1227.5C178.5,1237.1 177.7,1238.9 180.0,1242.8C182.3,1246.8 186.9,1250.4 190.4,1251.1C193.8,1251.8 196.4,1249.9 200.7,1247.0C205.0,1244.1 209.8,1236.2 216.2,1233.5C222.6,1230.9 233.0,1233.2 239.0,1230.9C245.0,1228.7 247.6,1224.5 252.5,1220.1C257.3,1215.7 263.9,1205.2 268.0,1204.5C272.1,1203.9 273.7,1216.6 277.3,1215.9C280.9,1215.2 285.1,1202.1 289.7,1200.4C294.4,1198.7 301.1,1207.5 305.3,1205.6C309.4,1203.7 311.6,1195.4 314.6,1189.0C317.5,1182.6 320.3,1170.7 322.9,1167.3C325.4,1163.8 327.5,1164.0 330.1,1168.3C332.7,1172.6 336.1,1184.7 338.4,1193.2C340.6,1201.6 342.0,1211.5 343.6,1219.0C345.1,1226.6 346.3,1236.1 347.7,1238.7C349.1,1241.3 350.1,1242.2 351.8,1234.6C353.6,1227.0 355.6,1210.4 358.1,1193.2C360.5,1175.9 363.9,1169.5 366.3,1131.1C368.8,1092.6 370.5,1008.1 372.9,962.2C375.3,916.4 378.2,882.6 380.9,856.1C383.5,829.6 386.6,816.3 388.8,803.1C391.0,789.8 392.4,778.3 394.1,776.5C395.9,774.8 397.7,777.0 399.4,792.4C401.2,807.9 402.1,841.1 404.7,869.4C407.4,897.7 412.3,937.0 415.3,962.2C418.4,987.4 420.2,1010.9 423.3,1020.6C426.4,1030.3 430.8,1017.1 433.9,1020.6C437.0,1024.1 439.2,1031.6 441.9,1041.8C444.5,1052.0 446.7,1066.1 449.8,1081.6C452.9,1097.1 458.7,1126.6 460.4,1134.7C462.2,1142.7 458.5,1122.7 460.5,1130.0C462.5,1137.3 469.0,1169.9 472.6,1178.4C476.2,1187.0 477.7,1179.8 481.9,1181.2C486.1,1182.6 493.6,1182.9 497.8,1186.8C502.0,1190.7 503.5,1196.1 507.1,1204.5C510.7,1212.9 514.8,1229.8 519.2,1237.1C523.5,1244.4 527.0,1246.0 533.2,1248.3C539.4,1250.6 548.7,1250.9 556.5,1251.1C564.2,1251.3 573.5,1250.8 579.8,1249.2C586.0,1247.7 589.7,1247.7 593.7,1241.8C597.8,1235.9 600.9,1227.8 604.0,1213.8C607.1,1199.9 609.7,1179.5 612.4,1157.9C615.0,1136.3 617.4,1100.5 620.0,1084.3C622.6,1068.0 625.3,1062.2 627.9,1060.4C630.6,1058.6 633.2,1063.5 635.9,1073.6C638.5,1083.8 641.2,1106.4 643.8,1121.4C646.5,1136.4 649.6,1155.4 651.8,1163.8C654.0,1172.2 654.9,1172.7 657.1,1171.8C659.3,1170.9 662.4,1163.4 665.1,1158.5C667.7,1153.7 670.4,1153.2 673.0,1142.6C675.7,1132.0 678.3,1118.3 681.0,1094.9C683.6,1071.4 686.3,1037.4 688.9,1002.0C691.6,966.6 694.7,908.7 696.9,882.6C699.1,856.6 700.4,854.3 702.2,845.5C704.0,836.7 705.5,836.0 707.5,829.6C709.5,823.2 712.4,808.4 714.1,807.0C715.9,805.7 716.6,809.0 718.1,821.6C719.7,834.2 721.7,859.2 723.4,882.6C725.2,906.1 727.0,935.7 728.7,962.2C730.5,988.8 732.3,1019.7 734.0,1041.8C735.8,1063.9 737.6,1079.4 739.3,1094.9C741.1,1110.3 742.4,1122.3 744.6,1134.7C746.9,1147.0 749.9,1162.1 752.6,1169.2C755.3,1176.2 757.9,1175.3 760.6,1177.1C763.2,1178.9 765.9,1178.4 768.5,1179.8C771.2,1181.1 773.8,1183.3 776.5,1185.1C779.1,1186.8 781.8,1190.8 784.4,1190.4C787.1,1189.9 789.7,1190.4 792.4,1182.4C795.0,1174.5 797.7,1159.4 800.3,1142.6C803.0,1125.8 805.2,1097.5 808.3,1081.6C811.4,1065.7 815.8,1051.1 818.9,1047.1C822.0,1043.1 824.7,1049.8 826.9,1057.7C829.1,1065.7 830.4,1079.8 832.2,1094.9C833.9,1109.9 835.3,1130.2 837.5,1147.9C839.7,1165.6 842.8,1186.0 845.4,1201.0C848.1,1216.0 851.2,1231.1 853.4,1238.1C855.6,1245.2 856.5,1243.4 858.7,1243.4C860.9,1243.4 863.6,1240.8 866.7,1238.1C869.8,1235.5 874.5,1231.0 877.3,1227.5C880.0,1224.1 880.9,1224.3 883.3,1217.5C885.7,1210.6 889.1,1196.4 891.6,1186.4C894.0,1176.4 895.7,1162.2 897.8,1157.4C899.8,1152.6 901.7,1156.7 904.0,1157.4C906.2,1158.1 909.2,1157.4 911.2,1161.5C913.3,1165.7 914.5,1173.3 916.4,1182.3C918.3,1191.2 920.5,1207.8 922.6,1215.4C924.7,1223.0 926.4,1226.3 928.8,1227.8C931.2,1229.4 933.7,1226.3 937.1,1224.7C940.6,1223.2 945.7,1220.6 949.5,1218.5C953.3,1216.4 956.8,1212.1 959.9,1212.3C963.0,1212.5 965.1,1216.6 968.2,1219.5C971.3,1222.5 975.1,1226.3 978.5,1229.9C982.0,1233.5 985.4,1238.7 988.9,1241.3C992.3,1243.9 994.0,1244.9 999.2,1245.4C1004.4,1245.9 1013.7,1244.2 1019.9,1244.4C1026.1,1244.6 1032.3,1247.0 1036.5,1246.5C1040.6,1245.9 1042.0,1244.1 1044.8,1241.3C1047.5,1238.5 1050.6,1233.7 1053.1,1229.9C1055.5,1226.1 1057.2,1219.5 1059.3,1218.5C1061.3,1217.5 1063.1,1221.8 1065.5,1223.7C1067.9,1225.6 1070.7,1227.5 1073.8,1229.9C1076.9,1232.3 1080.7,1235.8 1084.1,1238.2C1087.6,1240.6 1091.4,1243.5 1094.5,1244.4C1097.6,1245.3 1099.6,1243.5 1102.7,1243.4C1105.8,1243.2 1109.6,1242.8 1113.1,1243.4C1116.5,1243.9 1119.7,1245.6 1123.4,1246.5C1127.2,1247.3 1131.4,1247.7 1135.9,1248.5C1140.4,1249.4 1145.5,1250.4 1150.4,1251.6C1155.2,1252.9 1133.5,1255.2 1164.9,1255.8C1196.2,1256.4 1307.3,1255.6 1338.7,1255.2C1370.1,1254.7 1349.0,1254.2 1353.2,1253.1C1357.3,1252.0 1358.3,1250.9 1363.5,1248.5C1368.7,1246.2 1379.0,1240.1 1384.2,1238.8C1389.4,1237.5 1391.1,1239.2 1394.6,1240.9C1398.0,1242.6 1401.5,1246.9 1404.9,1249.2C1408.4,1251.4 1410.1,1253.3 1415.3,1254.3C1420.5,1255.4 1429.1,1255.9 1436.0,1255.4C1442.9,1254.9 1451.5,1253.8 1456.7,1251.2C1461.9,1248.6 1463.9,1243.8 1467.0,1239.8C1470.1,1235.9 1472.7,1230.7 1475.3,1227.4C1477.9,1224.1 1480.2,1220.5 1482.6,1220.2C1485.0,1219.8 1486.5,1224.1 1489.8,1225.4C1493.1,1226.6 1497.4,1226.9 1502.2,1227.4C1507.1,1227.9 1514.7,1227.8 1518.8,1228.5C1522.9,1229.2 1524.3,1229.3 1527.1,1231.6C1529.8,1233.8 1532.6,1238.5 1535.4,1241.9C1538.1,1245.4 1541.2,1250.4 1543.6,1252.3C1546.1,1254.2 1547.4,1253.8 1549.9,1253.3C1552.3,1252.8 1555.4,1250.2 1558.1,1249.2C1560.9,1248.1 1563.0,1247.3 1566.4,1247.1C1569.9,1246.9 1574.7,1247.3 1578.8,1248.1C1583.0,1249.0 1587.5,1251.1 1591.3,1252.3C1595.1,1253.5 1586.4,1255.0 1601.6,1255.4C1616.8,1255.8 1667.2,1255.6 1682.4,1254.8C1697.7,1254.0 1689.5,1251.6 1693.1,1250.5C1696.6,1249.5 1700.1,1248.7 1703.7,1248.4C1707.2,1248.2 1710.7,1248.3 1714.3,1249.1C1717.8,1249.8 1721.3,1251.7 1724.9,1252.7C1728.4,1253.6 1730.2,1254.5 1735.5,1254.8C1740.8,1255.0 1751.4,1255.0 1756.7,1254.1C1762.0,1253.3 1763.8,1252.7 1767.3,1249.5C1770.9,1246.2 1774.4,1239.0 1777.9,1234.6C1781.5,1230.2 1785.4,1225.5 1788.6,1223.0C1791.7,1220.4 1793.9,1219.3 1797.0,1219.3C1800.2,1219.3 1804.1,1220.1 1807.7,1223.0C1811.2,1225.9 1814.7,1232.0 1818.3,1236.7C1821.8,1241.5 1825.0,1248.6 1828.9,1251.6C1832.8,1254.6 1834.2,1254.6 1841.6,1254.8C1849.0,1255.0 1864.6,1253.4 1873.4,1252.7C1882.3,1252.0 1888.3,1250.9 1894.7,1250.5C1901.0,1250.2 1907.4,1251.4 1911.6,1250.5C1915.9,1249.7 1916.6,1247.5 1920.1,1245.2C1923.7,1242.9 1928.6,1238.2 1932.9,1236.7C1937.1,1235.3 1942.1,1236.0 1945.6,1236.7C1949.1,1237.5 1950.9,1238.7 1954.1,1241.0C1957.3,1243.3 1961.2,1248.6 1964.7,1250.5C1968.2,1252.5 1972.1,1253.5 1975.3,1252.7C1978.5,1251.8 1981.0,1249.7 1983.8,1245.2C1986.6,1240.8 1989.4,1231.8 1992.3,1226.1C1995.1,1220.5 1997.6,1214.5 2000.8,1211.3C2003.9,1208.1 2008.2,1207.0 2011.4,1207.0C2014.6,1207.0 2017.4,1208.5 2019.9,1211.3C2022.3,1214.1 2024.1,1219.4 2026.2,1224.0C2028.4,1228.6 2031.0,1235.3 2032.6,1238.9C2034.2,1242.4 2035.3,1244.2 2035.8,1245.2" stroke="#EE6677" stroke-width="4.5"/>
<path d="M114.3,1179.8C115.4,1170.0 118.5,1140.0 120.9,1121.4C123.3,1102.8 126.2,1083.4 128.9,1068.3C131.5,1053.3 134.4,1038.7 136.8,1031.2C139.3,1023.7 141.5,1022.4 143.5,1023.2C145.5,1024.1 146.8,1024.6 148.8,1036.5C150.8,1048.4 153.4,1076.3 155.4,1094.9C157.4,1113.4 158.5,1132.5 160.7,1147.9C162.9,1163.4 166.0,1175.3 168.7,1187.7C171.3,1200.1 174.7,1214.7 176.6,1222.2C178.5,1229.7 178.1,1228.2 180.0,1232.5C181.9,1236.8 185.2,1245.3 188.3,1248.0C191.4,1250.8 194.0,1250.7 198.6,1249.1C203.3,1247.4 209.3,1239.7 216.2,1238.2C223.1,1236.6 231.9,1240.7 240.0,1239.7C248.2,1238.8 259.4,1233.0 264.9,1232.5C270.4,1232.0 270.1,1234.9 273.2,1236.6C276.3,1238.4 278.3,1241.5 283.5,1242.8C288.7,1244.2 298.2,1245.4 304.2,1244.9C310.3,1244.4 315.4,1240.3 319.8,1239.7C324.1,1239.1 325.8,1239.4 330.1,1241.3C334.4,1243.2 342.0,1250.2 345.6,1251.1C349.3,1252.1 349.4,1256.7 351.8,1247.0C354.3,1237.3 357.2,1217.7 360.1,1193.2C363.1,1168.7 367.8,1123.0 369.4,1100.0C371.1,1077.0 368.8,1078.0 370.3,1055.1C371.7,1032.1 375.6,984.3 378.2,962.2C380.9,940.1 383.5,936.1 386.2,922.4C388.8,908.7 391.9,884.0 394.1,880.0C396.3,876.0 397.2,881.3 399.4,898.6C401.6,915.8 404.3,956.0 407.4,983.5C410.5,1010.9 414.9,1045.8 418.0,1063.0C421.1,1080.3 423.3,1085.1 426.0,1086.9C428.6,1088.7 431.7,1074.1 433.9,1073.6C436.1,1073.2 437.0,1077.2 439.2,1084.3C441.4,1091.3 444.7,1108.5 447.2,1116.1C449.6,1123.7 451.1,1119.9 454.0,1130.0C456.8,1140.1 460.8,1163.8 464.2,1176.6C467.6,1189.3 471.2,1202.5 474.5,1206.4C477.7,1210.3 479.8,1200.0 483.8,1199.9C487.8,1199.7 494.8,1201.6 498.7,1205.5C502.6,1209.3 503.7,1216.6 507.1,1223.2C510.5,1229.7 514.8,1239.8 519.2,1244.6C523.5,1249.4 527.0,1250.3 533.2,1252.0C539.4,1253.7 548.7,1254.7 556.5,1254.8C564.2,1255.0 573.5,1254.4 579.8,1253.0C586.0,1251.6 589.7,1251.4 593.7,1246.4C597.8,1241.5 600.6,1234.8 604.0,1223.2C607.4,1211.5 611.6,1189.0 614.2,1176.6C616.9,1164.2 617.7,1160.5 620.0,1148.6C622.3,1136.8 625.3,1110.9 627.9,1105.5C630.6,1100.1 633.2,1109.0 635.9,1116.1C638.5,1123.2 641.2,1136.0 643.8,1147.9C646.5,1159.9 649.8,1179.3 651.8,1187.7C653.8,1196.1 654.0,1199.2 655.8,1198.3C657.6,1197.4 659.5,1187.3 662.4,1182.4C665.3,1177.6 669.9,1177.1 673.0,1169.2C676.1,1161.2 678.8,1151.5 681.0,1134.7C683.2,1117.9 684.5,1090.4 686.3,1068.3C688.1,1046.2 689.4,1021.9 691.6,1002.0C693.8,982.1 696.9,960.5 699.5,949.0C702.2,937.5 704.9,940.6 707.5,933.0C710.2,925.5 713.3,905.6 715.5,903.9C717.7,902.1 719.0,908.3 720.8,922.4C722.5,936.6 724.3,966.6 726.1,988.8C727.8,1010.9 729.6,1035.2 731.4,1055.1C733.1,1075.0 734.5,1091.8 736.7,1108.1C738.9,1124.5 742.0,1139.5 744.6,1153.2C747.3,1166.9 750.4,1182.4 752.6,1190.4C754.8,1198.3 755.7,1200.1 757.9,1201.0C760.1,1201.9 763.2,1195.7 765.9,1195.7C768.5,1195.7 770.7,1199.2 773.8,1201.0C776.9,1202.8 781.3,1207.2 784.4,1206.3C787.5,1205.4 789.7,1202.8 792.4,1195.7C795.0,1188.6 797.7,1177.1 800.3,1163.8C803.0,1150.6 805.4,1128.0 808.3,1116.1C811.2,1104.2 814.9,1094.9 817.6,1092.2C820.2,1089.6 821.8,1093.1 824.2,1100.2C826.6,1107.3 830.0,1122.3 832.2,1134.7C834.4,1147.0 835.3,1160.7 837.5,1174.5C839.7,1188.2 842.8,1205.8 845.4,1216.9C848.1,1228.0 851.2,1235.9 853.4,1240.8C855.6,1245.6 856.5,1246.1 858.7,1246.1C860.9,1246.1 864.0,1242.5 866.7,1240.8C869.3,1239.0 871.5,1236.9 874.6,1235.5C877.7,1234.0 881.8,1235.5 885.4,1232.0C888.9,1228.5 892.3,1217.0 895.7,1214.4C899.2,1211.8 903.1,1215.7 906.1,1216.4C909.0,1217.1 910.2,1215.4 913.3,1218.5C916.4,1221.6 920.7,1233.5 924.7,1235.1C928.7,1236.6 933.3,1229.6 937.1,1227.8C940.9,1226.1 944.0,1226.3 947.5,1224.7C950.9,1223.2 954.4,1218.0 957.8,1218.5C961.3,1219.0 964.7,1225.1 968.2,1227.8C971.6,1230.6 975.4,1232.5 978.5,1235.1C981.6,1237.7 984.0,1241.3 986.8,1243.4C989.6,1245.4 992.0,1247.5 995.1,1247.5C998.2,1247.5 1002.0,1244.4 1005.4,1243.4C1008.9,1242.3 1012.0,1241.5 1015.8,1241.3C1019.6,1241.1 1024.4,1242.0 1028.2,1242.3C1032.0,1242.7 1035.1,1244.7 1038.6,1243.4C1042.0,1242.0 1045.1,1237.1 1048.9,1234.0C1052.7,1230.9 1057.5,1226.6 1061.3,1224.7C1065.1,1222.8 1068.2,1222.3 1071.7,1222.6C1075.1,1223.0 1078.6,1224.5 1082.0,1226.8C1085.5,1229.0 1088.9,1232.8 1092.4,1236.1C1095.8,1239.4 1099.3,1244.6 1102.7,1246.5C1106.2,1248.4 1109.6,1247.7 1113.1,1247.5C1116.5,1247.3 1120.0,1245.6 1123.4,1245.4C1126.9,1245.3 1129.7,1246.1 1133.8,1246.5C1137.9,1246.8 1144.2,1246.6 1148.3,1247.5C1152.4,1248.4 1155.9,1250.3 1158.6,1251.6C1161.4,1253.0 1162.1,1254.9 1164.9,1255.8C1167.6,1256.6 1146.2,1256.9 1175.2,1256.8C1204.2,1256.7 1309.0,1256.0 1338.7,1255.2C1368.3,1254.3 1349.0,1253.2 1353.2,1251.9C1357.3,1250.5 1358.3,1249.1 1363.5,1247.1C1368.7,1245.1 1379.0,1240.4 1384.2,1239.8C1389.4,1239.3 1391.1,1242.1 1394.6,1244.0C1398.0,1245.9 1401.5,1249.5 1404.9,1251.2C1408.4,1253.0 1410.1,1254.0 1415.3,1254.3C1420.5,1254.7 1429.1,1253.8 1436.0,1253.3C1442.9,1252.8 1451.9,1252.1 1456.7,1251.2C1461.5,1250.4 1462.2,1251.8 1465.0,1248.1C1467.7,1244.5 1470.5,1235.7 1473.3,1229.5C1476.0,1223.3 1478.4,1215.5 1481.5,1210.9C1484.6,1206.2 1488.4,1203.6 1491.9,1201.5C1495.3,1199.5 1498.4,1198.8 1502.2,1198.4C1506.0,1198.1 1511.2,1198.8 1514.7,1199.5C1518.1,1200.2 1520.5,1200.3 1522.9,1202.6C1525.4,1204.8 1526.7,1208.1 1529.2,1212.9C1531.6,1217.8 1535.0,1226.0 1537.4,1231.6C1539.8,1237.1 1541.9,1242.6 1543.6,1246.1C1545.4,1249.5 1546.1,1251.9 1547.8,1252.3C1549.5,1252.6 1551.6,1249.5 1554.0,1248.1C1556.4,1246.7 1558.8,1244.9 1562.3,1244.0C1565.7,1243.1 1570.9,1242.8 1574.7,1243.0C1578.5,1243.1 1581.6,1243.5 1585.1,1245.0C1588.5,1246.6 1591.6,1250.5 1595.4,1252.3C1599.2,1254.0 1594.0,1254.8 1607.8,1255.4C1621.6,1255.9 1664.7,1256.8 1678.2,1255.4C1691.7,1254.1 1685.3,1249.6 1688.8,1247.4C1692.3,1245.1 1695.2,1242.9 1699.4,1242.1C1703.7,1241.2 1710.0,1241.0 1714.3,1242.1C1718.5,1243.1 1721.3,1246.3 1724.9,1248.4C1728.4,1250.5 1730.2,1253.6 1735.5,1254.8C1740.8,1256.0 1751.4,1255.8 1756.7,1255.4C1762.0,1255.1 1763.8,1254.5 1767.3,1252.7C1770.9,1250.8 1774.4,1246.8 1777.9,1244.2C1781.5,1241.5 1785.4,1238.6 1788.6,1236.7C1791.7,1234.9 1793.9,1232.9 1797.0,1232.9C1800.2,1232.9 1804.1,1234.7 1807.7,1236.7C1811.2,1238.8 1814.7,1242.4 1818.3,1245.2C1821.8,1248.1 1825.0,1252.0 1828.9,1253.7C1832.8,1255.4 1834.2,1255.2 1841.6,1255.4C1849.0,1255.6 1864.6,1255.1 1873.4,1254.8C1882.3,1254.4 1887.6,1253.7 1894.7,1253.3C1901.7,1252.9 1910.9,1253.5 1915.9,1252.7C1920.8,1251.8 1921.5,1249.8 1924.4,1248.4C1927.2,1247.0 1929.3,1244.9 1932.9,1244.2C1936.4,1243.5 1942.1,1243.6 1945.6,1244.2C1949.1,1244.7 1950.9,1245.8 1954.1,1247.4C1957.3,1248.9 1961.2,1252.4 1964.7,1253.7C1968.2,1255.1 1972.1,1255.6 1975.3,1255.4C1978.5,1255.2 1981.0,1255.1 1983.8,1252.7C1986.6,1250.3 1989.4,1245.1 1992.3,1241.0C1995.1,1236.9 1997.2,1230.4 2000.8,1227.8C2004.3,1225.3 2010.3,1225.6 2013.5,1225.7C2016.7,1225.8 2017.7,1226.1 2019.9,1228.3C2022.0,1230.5 2024.1,1235.7 2026.2,1238.9C2028.4,1242.1 2031.0,1245.4 2032.6,1247.4C2034.2,1249.3 2035.3,1250.0 2035.8,1250.5" stroke="#4477AA" stroke-width="4.5"/>
</g>
<clipPath id="cp3"><rect x="121.1" y="1393.0" width="1917.6" height="565.5"/></clipPath>
<g clip-path="url(#cp3)" fill="none" stroke-linejoin="round" stroke-linecap="round">
<path d="M121.0,1957.2 L122.6,1957.2 L122.6,1957.2 L124.2,1957.2 L124.2,1957.2 L125.8,1957.2 L125.8,1957.2 L127.4,1957.2 L127.4,1957.2 L129.0,1957.2 L129.0,1957.2 L130.6,1957.2 L130.6,1957.2 L132.2,1957.2 L132.2,1957.2 L133.8,1957.2 L133.8,1957.2 L135.4,1957.2 L135.4,1957.2 L137.0,1957.2 L137.0,1957.2 L138.6,1957.2 L138.6,1957.2 L140.2,1957.2 L140.2,1957.2 L141.8,1957.2 L141.8,1957.2 L143.4,1957.2 L143.4,1957.2 L145.0,1957.2 L145.0,1957.2 L146.6,1957.2 L146.6,1957.2 L148.2,1957.2 L148.2,1957.2 L149.8,1957.2 L149.8,1957.2 L151.4,1957.2 L151.4,1957.2 L153.0,1957.2 L153.0,1957.2 L154.5,1957.2 L154.5,1957.2 L156.1,1957.2 L156.1,1957.2 L157.7,1957.2 L157.7,1957.2 L159.3,1957.2 L159.3,1957.2 L160.9,1957.2 L160.9,1957.2 L162.5,1957.2 L162.5,1957.2 L164.1,1957.2 L164.1,1957.2 L165.7,1957.2 L165.7,1957.2 L167.3,1957.2 L167.3,1957.2 L168.9,1957.2 L168.9,1957.2 L170.5,1957.2 L170.5,1957.2 L172.1,1957.2 L172.1,1957.2 L173.7,1957.2 L173.7,1957.2 L175.3,1957.2 L175.3,1957.2 L176.9,1957.2 L176.9,1957.2 L178.5,1957.2 L178.5,1957.2 L180.1,1957.2 L180.1,1957.2 L181.7,1957.2 L181.7,1957.2 L183.3,1957.2 L183.3,1957.2 L184.9,1957.2 L184.9,1957.2 L186.5,1957.2 L186.5,1957.2 L188.1,1957.2 L188.1,1957.2 L189.7,1957.2 L189.7,1957.2 L191.3,1957.2 L191.3,1957.2 L192.9,1957.2 L192.9,1957.2 L194.5,1957.2 L194.5,1957.2 L196.1,1957.2 L196.1,1957.2 L197.7,1957.2 L197.7,1957.2 L199.3,1957.2 L199.3,1957.2 L200.9,1957.2 L200.9,1957.2 L202.5,1957.2 L202.5,1957.2 L204.1,1957.2 L204.1,1957.2 L205.7,1957.2 L205.7,1957.2 L207.3,1957.2 L207.3,1957.2 L208.9,1957.2 L208.9,1957.2 L210.5,1957.2 L210.5,1957.2 L212.1,1957.2 L212.1,1957.2 L213.7,1957.2 L213.7,1957.2 L215.3,1957.2 L215.3,1957.2 L216.9,1957.2 L216.9,1957.2 L218.4,1957.2 L218.4,1957.2 L220.0,1957.2 L220.0,1957.2 L221.6,1957.2 L221.6,1957.2 L223.2,1957.2 L223.2,1957.2 L224.8,1957.2 L224.8,1957.2 L226.4,1957.2 L226.4,1957.2 L228.0,1957.2 L228.0,1957.2 L229.6,1957.2 L229.6,1957.2 L231.2,1957.2 L231.2,1957.2 L232.8,1957.2 L232.8,1957.2 L234.4,1957.2 L234.4,1957.2 L236.0,1957.2 L236.0,1957.2 L237.6,1957.2 L237.6,1957.2 L239.2,1957.2 L239.2,1957.2 L240.8,1957.2 L240.8,1957.2 L242.4,1957.2 L242.4,1957.2 L244.0,1957.2 L244.0,1957.2 L245.6,1957.2 L245.6,1957.2 L247.2,1957.2 L247.2,1957.2 L248.8,1957.2 L248.8,1957.2 L250.4,1957.2 L250.4,1957.2 L252.0,1957.2 L252.0,1957.2 L253.6,1957.2 L253.6,1957.2 L255.2,1957.2 L255.2,1957.2 L256.8,1957.2 L256.8,1957.2 L258.4,1957.2 L258.4,1957.2 L260.0,1957.2 L260.0,1957.2 L261.6,1957.2 L261.6,1957.2 L263.2,1957.2 L263.2,1957.2 L264.8,1957.2 L264.8,1957.2 L266.4,1957.2 L266.4,1957.2 L268.0,1957.2 L268.0,1957.2 L269.6,1957.2 L269.6,1957.2 L271.2,1957.2 L271.2,1957.2 L272.8,1957.2 L272.8,1957.2 L274.4,1957.2 L274.4,1957.2 L276.0,1957.2 L276.0,1957.2 L277.6,1957.2 L277.6,1957.2 L279.2,1957.2 L279.2,1957.2 L280.8,1957.2 L280.8,1957.2 L282.4,1957.2 L282.4,1957.2 L283.9,1957.2 L283.9,1957.2 L285.5,1957.2 L285.5,1957.2 L287.1,1957.2 L287.1,1957.2 L288.7,1957.2 L288.7,1957.2 L290.3,1957.2 L290.3,1957.2 L291.9,1957.2 L291.9,1957.2 L293.5,1957.2 L293.5,1957.2 L295.1,1957.2 L295.1,1957.2 L296.7,1957.2 L296.7,1957.2 L298.3,1957.2 L298.3,1957.2 L299.9,1957.2 L299.9,1957.2 L301.5,1957.2 L301.5,1957.2 L303.1,1957.2 L303.1,1957.2 L304.7,1957.2 L304.7,1957.2 L306.3,1957.2 L306.3,1957.2 L307.9,1957.2 L307.9,1957.2 L309.5,1957.2 L309.5,1957.2 L311.1,1957.2 L311.1,1957.2 L312.7,1957.2 L312.7,1957.2 L314.3,1957.2 L314.3,1957.2 L315.9,1957.2 L315.9,1957.2 L317.5,1957.2 L317.5,1957.2 L319.1,1957.2 L319.1,1957.2 L320.7,1957.2 L320.7,1957.2 L322.3,1957.2 L322.3,1957.2 L323.9,1957.2 L323.9,1957.2 L325.5,1957.2 L325.5,1957.2 L327.1,1957.2 L327.1,1957.2 L328.7,1957.2 L328.7,1957.2 L330.3,1957.2 L330.3,1957.2 L331.9,1957.2 L331.9,1957.2 L333.5,1957.2 L333.5,1957.2 L335.1,1957.2 L335.1,1957.2 L336.7,1957.2 L336.7,1957.2 L338.3,1957.2 L338.3,1957.2 L339.9,1957.2 L339.9,1957.2 L341.5,1957.2 L341.5,1957.2 L343.1,1957.2 L343.1,1957.2 L344.7,1957.2 L344.7,1957.2 L346.3,1957.2 L346.3,1957.2 L347.8,1957.2 L347.8,1957.2 L349.4,1957.2 L349.4,1957.2 L351.0,1957.2 L351.0,1957.2 L352.6,1957.2 L352.6,1957.2 L354.2,1957.2 L354.2,1957.2 L355.8,1957.2 L355.8,1957.2 L357.4,1957.2 L357.4,1957.2 L359.0,1957.2 L359.0,1957.2 L360.6,1957.2 L360.6,1957.2 L362.2,1957.2 L362.2,1957.2 L363.8,1957.2 L363.8,1957.2 L365.4,1957.2 L365.4,1957.2 L367.0,1957.2 L367.0,1957.2 L368.6,1957.2 L368.6,1957.2 L370.2,1957.2 L370.2,1957.2 L371.8,1957.2 L371.8,1957.2 L373.4,1957.2 L373.4,1957.2 L375.0,1957.2 L375.0,1957.2 L376.6,1957.2 L376.6,1957.2 L378.2,1957.2 L378.2,1957.2 L379.8,1957.2 L379.8,1957.2 L381.4,1957.2 L381.4,1957.2 L383.0,1957.2 L383.0,1957.2 L384.6,1957.2 L384.6,1957.2 L386.2,1957.2 L386.2,1957.2 L387.8,1957.2 L387.8,1957.2 L389.4,1957.2 L389.4,1957.2 L391.0,1957.2 L391.0,1957.2 L392.6,1957.2 L392.6,1957.2 L394.2,1957.2 L394.2,1957.2 L395.8,1957.2 L395.8,1957.2 L397.4,1957.2 L397.4,1957.2 L399.0,1957.2 L399.0,1957.2 L400.6,1957.2 L400.6,1957.2 L402.2,1957.2 L402.2,1957.2 L403.8,1957.2 L403.8,1957.2 L405.4,1957.2 L405.4,1957.2 L407.0,1957.2 L407.0,1957.2 L408.6,1957.2 L408.6,1957.2 L410.2,1957.2 L410.2,1957.2 L411.7,1957.2 L411.7,1957.2 L413.3,1957.2 L413.3,1957.2 L414.9,1957.2 L414.9,1957.2 L416.5,1957.2 L416.5,1957.2 L418.1,1957.2 L418.1,1957.2 L419.7,1957.2 L419.7,1957.2 L421.3,1957.2 L421.3,1957.2 L422.9,1957.2 L422.9,1957.2 L424.5,1957.2 L424.5,1957.2 L426.1,1957.2 L426.1,1957.2 L427.7,1957.2 L427.7,1957.2 L429.3,1957.2 L429.3,1957.2 L430.9,1957.2 L430.9,1957.2 L432.5,1957.2 L432.5,1957.2 L434.1,1957.2 L434.1,1957.2 L435.7,1957.2 L435.7,1957.2 L437.3,1957.2 L437.3,1957.2 L438.9,1957.2 L438.9,1957.2 L440.5,1957.2 L440.5,1957.2 L442.1,1957.2 L442.1,1957.2 L443.7,1957.2 L443.7,1957.2 L445.3,1957.2 L445.3,1957.2 L446.9,1957.2 L446.9,1957.2 L448.5,1957.2 L448.5,1957.2 L450.1,1957.2 L450.1,1957.2 L451.7,1957.2 L451.7,1957.2 L453.3,1957.2 L453.3,1957.2 L454.9,1957.2 L454.9,1957.2 L456.5,1957.2 L456.5,1957.2 L458.1,1957.2 L458.1,1957.2 L459.7,1957.2 L459.7,1957.2 L461.3,1957.2 L461.3,1957.2 L462.9,1957.2 L462.9,1957.2 L464.5,1957.2 L464.5,1957.2 L466.1,1957.2 L466.1,1957.2 L467.7,1957.2 L467.7,1957.2 L469.3,1957.2 L469.3,1957.2 L470.9,1957.2 L470.9,1957.2 L472.5,1957.2 L472.5,1957.2 L474.1,1957.2 L474.1,1957.2 L475.7,1957.2 L475.7,1957.2 L477.2,1957.2 L477.2,1957.2 L478.8,1957.2 L478.8,1957.2 L480.4,1957.2 L480.4,1957.2 L482.0,1957.2 L482.0,1957.2 L483.6,1957.2 L483.6,1957.2 L485.2,1957.2 L485.2,1957.2 L486.8,1957.2 L486.8,1957.2 L488.4,1957.2 L488.4,1957.2 L490.0,1957.2 L490.0,1957.2 L491.6,1957.2 L491.6,1957.2 L493.2,1957.2 L493.2,1957.2 L494.8,1957.2 L494.8,1957.2 L496.4,1957.2 L496.4,1957.2 L498.0,1957.2 L498.0,1957.2 L499.6,1957.2 L499.6,1957.2 L501.2,1957.2 L501.2,1957.2 L502.8,1957.2 L502.8,1957.2 L504.4,1957.2 L504.4,1957.2 L506.0,1957.2 L506.0,1957.2 L507.6,1957.2 L507.6,1957.2 L509.2,1957.2 L509.2,1957.2 L522.1,1955.7 L555.8,1955.7 L555.8,1954.4 L568.7,1954.4 L568.7,1952.6 L581.7,1952.6 L581.7,1948.7 L597.2,1948.7 L597.2,1942.2 L608.8,1942.0 L608.8,1930.5 L620.3,1930.5 L620.3,1914.7 L633.2,1914.7 L633.2,1897.4 L644.7,1897.4 L644.7,1888.8 L654.8,1888.8 L654.8,1885.9 L666.3,1884.5 L679.2,1883.0 L679.2,1831.3 L690.7,1831.3 L690.7,1700.4 L700.8,1700.4 L700.8,1543.7 L712.3,1543.7 L712.3,1490.5 L722.3,1490.5 L722.3,1464.6 L733.8,1464.6 L733.8,1502.0 L743.9,1502.0 L743.9,1612.7 L754.0,1612.7 L754.0,1694.7 L764.0,1694.7 L764.0,1753.6 L774.1,1753.6 L774.1,1792.5 L784.2,1792.5 L784.2,1831.3 L794.2,1831.3 L794.2,1885.9 L804.3,1885.9 L804.3,1923.3 L814.3,1923.3 L814.3,1931.9 L821.5,1931.9 L821.5,1926.2 L831.6,1926.2 L831.6,1920.4 L840.2,1920.4 L840.2,1913.2 L848.8,1911.8 L857.5,1911.8 L857.5,1920.4 L867.5,1920.4 L867.5,1936.2 L876.2,1936.2 L876.2,1947.7 L884.8,1947.7 L884.8,1952.1 L896.3,1954.9 L1038.7,1957.2 L1054.2,1954.7 L1074.9,1953.9 L1106.0,1953.9 L1126.7,1955.9 L1137.0,1953.4 L1150.0,1950.8 L1160.3,1928.8 L1165.5,1928.8 L1165.5,1909.4 L1172.0,1909.4 L1172.0,1895.1 L1178.4,1895.1 L1178.4,1879.6 L1184.9,1879.6 L1184.9,1870.6 L1192.7,1868.0 L1200.4,1871.9 L1206.9,1883.5 L1217.3,1884.8 L1225.0,1891.3 L1235.4,1897.7 L1248.3,1901.6 L1256.1,1909.4 L1262.6,1924.9 L1269.0,1937.8 L1279.4,1953.4 L1292.3,1957.2 L1420.7,1956.7 L1422.3,1956.7 L1422.3,1956.1 L1423.9,1956.1 L1423.9,1955.3 L1425.5,1955.3 L1425.5,1956.5 L1427.1,1956.5 L1427.1,1955.7 L1428.7,1955.7 L1428.7,1954.5 L1430.3,1954.5 L1430.3,1954.3 L1431.9,1954.3 L1431.9,1953.5 L1433.4,1953.5 L1433.4,1952.6 L1435.0,1952.6 L1435.0,1953.2 L1436.6,1953.2 L1436.6,1953.2 L1438.2,1953.2 L1438.2,1952.5 L1439.8,1952.5 L1439.8,1951.7 L1441.4,1951.7 L1441.4,1950.4 L1443.0,1950.4 L1443.0,1949.6 L1444.5,1949.6 L1444.5,1950.5 L1446.1,1950.5 L1446.1,1947.2 L1447.6,1947.2 L1447.6,1947.9 L1449.2,1947.9 L1449.2,1946.9 L1450.7,1946.9 L1450.7,1945.1 L1452.3,1945.1 L1452.3,1944.0 L1453.8,1944.0 L1453.8,1943.5 L1455.5,1943.5 L1455.5,1939.5 L1457.1,1939.5 L1457.1,1936.2 L1458.8,1936.2 L1458.8,1933.6 L1460.5,1933.6 L1460.5,1929.6 L1462.1,1929.6 L1462.1,1927.9 L1463.8,1927.9 L1463.8,1921.3 L1465.4,1921.3 L1465.4,1917.7 L1467.1,1917.7 L1467.1,1913.6 L1468.7,1913.6 L1468.7,1909.9 L1470.4,1909.9 L1470.4,1905.1 L1472.0,1905.1 L1472.0,1903.0 L1473.7,1903.0 L1473.7,1897.8 L1475.4,1897.8 L1475.4,1891.7 L1477.0,1891.7 L1477.0,1889.0 L1478.7,1889.0 L1478.7,1885.4 L1480.3,1885.4 L1480.3,1883.4 L1482.0,1883.4 L1482.0,1880.2 L1483.6,1880.2 L1483.6,1876.8 L1485.3,1876.8 L1485.3,1875.6 L1487.0,1875.6 L1487.0,1871.4 L1488.6,1871.4 L1488.6,1871.7 L1490.3,1871.7 L1490.3,1869.9 L1491.9,1869.9 L1491.9,1871.1 L1493.6,1871.1 L1493.6,1869.7 L1495.2,1869.7 L1495.2,1870.0 L1496.8,1870.0 L1496.8,1868.1 L1498.3,1868.1 L1498.3,1868.3 L1499.9,1868.3 L1499.9,1868.1 L1501.4,1868.1 L1501.4,1869.4 L1503.0,1869.4 L1503.0,1867.7 L1504.6,1867.7 L1504.6,1869.2 L1506.1,1869.2 L1506.1,1868.4 L1507.7,1868.4 L1507.7,1869.3 L1509.4,1869.3 L1509.4,1868.6 L1511.1,1868.6 L1511.1,1867.4 L1512.8,1867.4 L1512.8,1867.4 L1514.6,1867.4 L1514.6,1866.0 L1516.3,1866.0 L1516.3,1866.3 L1518.0,1866.3 L1518.0,1866.2 L1519.6,1866.2 L1519.6,1869.4 L1521.1,1869.4 L1521.1,1870.3 L1522.7,1870.3 L1522.7,1872.8 L1524.2,1872.8 L1524.2,1874.4 L1525.9,1874.4 L1525.9,1876.8 L1527.5,1876.8 L1527.5,1881.6 L1529.2,1881.6 L1529.2,1886.0 L1530.8,1886.0 L1530.8,1888.3 L1532.5,1888.3 L1532.5,1892.1 L1534.2,1892.1 L1534.2,1895.3 L1535.8,1895.3 L1535.8,1899.3 L1537.5,1899.3 L1537.5,1903.9 L1539.1,1903.9 L1539.1,1904.7 L1540.8,1904.7 L1540.8,1909.2 L1542.4,1909.2 L1542.4,1912.7 L1544.1,1912.7 L1544.1,1918.0 L1545.8,1918.0 L1545.8,1921.8 L1547.4,1921.8 L1547.4,1925.7 L1549.1,1925.7 L1549.1,1930.8 L1550.7,1930.8 L1550.7,1934.4 L1552.4,1934.4 L1552.4,1936.5 L1554.0,1936.5 L1554.0,1939.3 L1555.7,1939.3 L1555.7,1940.5 L1557.3,1940.5 L1557.3,1943.2 L1559.0,1943.2 L1559.0,1945.3 L1560.7,1945.3 L1560.7,1946.1 L1562.3,1946.1 L1562.3,1947.4 L1564.0,1947.4 L1564.0,1947.6 L1565.6,1947.6 L1565.6,1948.7 L1567.2,1948.7 L1567.2,1948.8 L1568.7,1948.8 L1568.7,1950.6 L1570.3,1950.6 L1570.3,1949.2 L1571.8,1949.2 L1571.8,1950.3 L1573.4,1950.3 L1573.4,1950.6 L1574.9,1950.6 L1574.9,1950.5 L1576.5,1950.5 L1576.5,1950.7 L1578.1,1950.7 L1578.1,1951.5 L1579.6,1951.5 L1579.6,1950.3 L1581.2,1950.3 L1581.2,1950.7 L1582.7,1950.7 L1582.7,1951.4 L1584.3,1951.4 L1584.3,1949.7 L1585.8,1949.7 L1585.8,1950.8 L1587.4,1950.8 L1587.4,1950.6 L1588.9,1950.6 L1588.9,1950.8 L1590.5,1950.8 L1590.5,1948.4 L1592.1,1948.4 L1592.1,1950.1 L1593.7,1950.1 L1593.7,1949.2 L1595.3,1949.2 L1595.3,1949.2 L1596.9,1949.2 L1596.9,1948.5 L1598.5,1948.5 L1598.5,1947.2 L1600.1,1947.2 L1600.1,1947.8 L1601.7,1947.8 L1601.7,1946.8 L1603.4,1946.8 L1603.4,1945.9 L1605.0,1945.9 L1605.0,1945.5 L1606.7,1945.5 L1606.7,1946.1 L1608.4,1946.1 L1608.4,1946.9 L1610.1,1946.9 L1610.1,1946.2 L1611.9,1946.2 L1611.9,1948.3 L1613.6,1948.3 L1613.6,1947.5 L1615.3,1947.5 L1615.3,1949.6 L1616.9,1949.6 L1616.9,1950.7 L1618.4,1950.7 L1618.4,1951.1 L1620.0,1951.1 L1620.0,1951.9 L1621.5,1951.9 L1621.5,1952.4 L1623.1,1952.4 L1623.1,1953.4 L1624.6,1953.4 L1624.6,1952.1 L1626.2,1952.1 L1626.2,1952.0 L1627.7,1952.0 L1627.7,1953.1 L1629.3,1953.1 L1629.3,1952.8 L1630.8,1952.8 L1630.8,1955.1 L1632.4,1955.1 L1632.4,1952.6 L1634.0,1952.6 L1634.0,1954.8 L1635.5,1954.8 L1635.5,1955.9 L1637.1,1955.9 L1637.1,1956.0 L1638.6,1956.0 L1638.6,1956.6 L1640.2,1956.6 L1640.2,1955.5 L1641.8,1955.5 L1641.8,1956.0 L1643.5,1956.0 L1643.5,1956.3 L1645.1,1956.3 L1645.1,1956.9 L1646.8,1956.9 L1646.8,1957.0 L1648.4,1957.0 L1648.4,1957.8 L1650.1,1957.8 L1650.1,1955.7 L1651.8,1955.7 L1651.8,1957.0 L1653.4,1957.0 L1653.4,1958.6 L1655.1,1958.6 L1655.1,1957.9 L1656.7,1957.9 L1656.7,1957.1 L1658.4,1957.1 L1658.4,1957.5 L1660.0,1957.5 L1660.0,1956.4 L1661.7,1956.4 L1661.7,1957.5 L1663.4,1957.5 L1663.4,1955.9 L1665.0,1955.9 L1665.0,1956.8 L1666.7,1956.8 L1666.7,1956.2 L1668.3,1956.2 L1668.3,1955.2 L1670.0,1955.2 L1670.0,1955.8 L1671.6,1955.8 L1671.6,1955.4 L1673.3,1955.4 L1673.3,1954.8 L1674.8,1954.8 L1674.8,1954.7 L1676.4,1954.7 L1676.4,1953.1 L1678.0,1953.1 L1678.0,1953.9 L1679.5,1953.9 L1679.5,1952.6 L1681.1,1952.6 L1681.1,1952.2 L1682.6,1952.2 L1682.6,1951.2 L1684.2,1951.2 L1684.2,1950.1 L1685.7,1950.1 L1685.7,1948.0 L1687.3,1948.0 L1687.3,1947.3 L1688.8,1947.3 L1688.8,1946.0 L1690.4,1946.0 L1690.4,1944.0 L1691.9,1944.0 L1691.9,1942.8 L1693.5,1942.8 L1693.5,1941.0 L1695.0,1941.0 L1695.0,1939.4 L1696.6,1939.4 L1696.6,1937.5 L1698.1,1937.5 L1698.1,1936.3 L1699.8,1936.3 L1699.8,1933.7 L1701.4,1933.7 L1701.4,1933.3 L1703.1,1933.3 L1703.1,1930.7 L1704.8,1930.7 L1704.8,1928.8 L1706.4,1928.8 L1706.4,1927.0 L1708.1,1927.0 L1708.1,1923.6 L1709.7,1923.6 L1709.7,1922.2 L1711.4,1922.2 L1711.4,1917.5 L1713.0,1917.5 L1713.0,1915.9 L1714.7,1915.9 L1714.7,1913.9 L1716.4,1913.9 L1716.4,1913.6 L1718.0,1913.6 L1718.0,1911.5 L1719.7,1911.5 L1719.7,1909.6 L1721.3,1909.6 L1721.3,1907.9 L1723.0,1907.9 L1723.0,1905.2 L1724.6,1905.2 L1724.6,1903.8 L1726.3,1903.8 L1726.3,1901.8 L1728.0,1901.8 L1728.0,1900.7 L1729.6,1900.7 L1729.6,1898.0 L1731.3,1898.0 L1731.3,1897.1 L1732.9,1897.1 L1732.9,1894.5 L1734.6,1894.5 L1734.6,1892.7 L1736.2,1892.7 L1736.2,1889.4 L1737.9,1889.4 L1737.9,1887.7 L1739.5,1887.7 L1739.5,1885.3 L1741.2,1885.3 L1741.2,1884.9 L1742.9,1884.9 L1742.9,1884.7 L1744.5,1884.7 L1744.5,1883.0 L1746.2,1883.0 L1746.2,1883.3 L1747.8,1883.3 L1747.8,1882.7 L1749.5,1882.7 L1749.5,1884.1 L1751.1,1884.1 L1751.1,1883.3 L1752.8,1883.3 L1752.8,1884.3 L1754.5,1884.3 L1754.5,1883.5 L1756.1,1883.5 L1756.1,1884.7 L1757.7,1884.7 L1757.7,1886.9 L1759.2,1886.9 L1759.2,1890.1 L1760.8,1890.1 L1760.8,1892.2 L1762.3,1892.2 L1762.3,1895.2 L1764.0,1895.2 L1764.0,1899.6 L1765.6,1899.6 L1765.6,1902.8 L1767.3,1902.8 L1767.3,1908.3 L1768.9,1908.3 L1768.9,1911.4 L1770.6,1911.4 L1770.6,1917.6 L1772.3,1917.6 L1772.3,1920.6 L1773.9,1920.6 L1773.9,1923.9 L1775.6,1923.9 L1775.6,1927.2 L1777.2,1927.2 L1777.2,1931.9 L1778.9,1931.9 L1778.9,1934.8 L1780.6,1934.8 L1780.6,1935.4 L1782.3,1935.4 L1782.3,1939.3 L1784.1,1939.3 L1784.1,1941.0 L1785.8,1941.0 L1785.8,1941.1 L1787.5,1941.1 L1787.5,1943.6 L1789.2,1943.6 L1789.2,1947.0 L1790.5,1944.0 L1796.8,1948.2 L1805.2,1946.1 L1813.6,1939.8 L1819.9,1916.7 L1824.1,1887.4 L1828.3,1870.6 L1832.5,1862.2 L1836.7,1849.6 L1840.8,1853.8 L1845.0,1832.8 L1849.2,1834.9 L1852.4,1811.8 L1855.5,1828.6 L1858.7,1801.3 L1863.9,1799.2 L1866.0,1790.8 L1868.1,1769.8 L1870.2,1767.7 L1872.3,1790.8 L1876.5,1805.5 L1878.6,1832.8 L1882.8,1845.4 L1889.1,1849.6 L1891.2,1870.6 L1897.5,1866.4 L1899.6,1893.7 L1903.8,1895.8 L1905.9,1912.5 L1910.1,1904.1 L1914.3,1916.7 L1918.5,1933.5 L1922.7,1927.2 L1926.9,1931.4 L1935.3,1937.7 L1939.5,1944.0 L1945.8,1952.4 L1958.3,1956.6 L1968.8,1957.7 L1970.9,1954.5 L1975.1,1957.7 L1981.4,1954.5 L1985.6,1950.3 L1988.8,1950.3 L1988.8,1895.8 L1991.9,1895.8 L1991.9,1954.5 L1998.2,1956.6 L2002.4,1950.3 L2008.7,1956.6 L2021.3,1957.7 L2021.3,1927.2 L2024.4,1927.2 L2024.4,1954.5 L2027.6,1937.7 L2031.8,1935.6 L2034.9,1927.2 L2036.4,1957.7 L2039.1,1957.7" stroke="#000" stroke-width="4.5"/>
<path d="M121.0,1957.2C133.1,1957.1 178.4,1957.5 193.5,1956.7C208.6,1955.9 205.5,1953.7 211.6,1952.6C217.6,1951.4 222.4,1950.4 229.7,1950.0C237.0,1949.6 247.8,1949.6 255.6,1950.2C263.3,1950.9 269.4,1952.7 276.3,1953.9C283.2,1955.0 243.1,1956.4 297.0,1957.0C350.9,1957.5 548.8,1957.1 599.8,1957.0C650.8,1956.9 601.0,1958.9 603.0,1956.4C605.0,1953.9 608.8,1951.6 611.6,1942.0C614.5,1932.4 617.4,1915.6 620.3,1898.9C623.1,1882.1 626.0,1856.7 628.9,1841.3C631.8,1826.0 634.6,1813.8 637.5,1806.8C640.4,1799.9 643.0,1800.6 646.1,1799.7C649.2,1798.7 653.3,1798.0 656.2,1801.1C659.1,1804.2 661.0,1808.8 663.4,1818.3C665.8,1827.9 668.4,1847.6 670.6,1858.6C672.7,1869.6 674.4,1878.3 676.3,1884.5C678.2,1890.7 679.9,1895.5 682.1,1896.0C684.2,1896.5 686.2,1891.7 689.3,1887.4C692.4,1883.0 696.5,1876.3 700.8,1870.1C705.1,1863.9 710.4,1854.3 715.1,1850.0C719.9,1845.7 725.2,1845.7 729.5,1844.2C733.8,1842.8 736.2,1840.9 741.0,1841.3C745.8,1841.8 752.5,1844.2 758.3,1847.1C764.0,1850.0 771.2,1855.7 775.5,1858.6C779.8,1861.5 781.3,1865.3 784.2,1864.4C787.0,1863.4 789.9,1861.5 792.8,1852.8C795.7,1844.2 798.5,1831.3 801.4,1812.6C804.3,1793.9 807.2,1764.7 810.0,1740.7C812.9,1716.7 815.8,1685.6 818.7,1668.8C821.5,1652.0 823.9,1644.4 827.3,1640.1C830.6,1635.7 835.0,1641.7 838.8,1642.9C842.6,1644.1 847.4,1643.4 850.3,1647.2C853.2,1651.1 853.9,1652.8 856.0,1665.9C858.2,1679.1 860.8,1704.3 863.2,1726.3C865.6,1748.4 867.8,1771.9 870.4,1798.2C873.1,1824.6 876.2,1861.5 879.0,1884.5C881.9,1907.5 884.8,1924.7 887.7,1936.2C890.5,1947.7 892.5,1950.1 896.3,1953.5C900.1,1956.9 886.5,1955.7 910.7,1956.4C934.8,1957.0 1016.5,1957.8 1041.3,1957.2C1066.1,1956.6 1053.8,1953.9 1059.4,1952.8C1065.0,1951.8 1066.7,1951.0 1074.9,1950.8C1083.1,1950.5 1100.8,1950.5 1108.6,1951.3C1116.3,1952.1 1117.2,1954.4 1121.5,1955.4C1125.8,1956.4 1130.6,1957.5 1134.5,1957.2C1138.3,1957.0 1140.9,1956.2 1144.8,1953.9C1148.7,1951.5 1153.0,1946.3 1157.7,1943.0C1162.5,1939.7 1168.1,1936.1 1173.3,1934.0C1178.4,1931.8 1181.9,1930.8 1188.8,1930.1C1195.7,1929.3 1206.1,1929.3 1214.7,1929.6C1223.3,1929.8 1233.7,1930.4 1240.6,1931.4C1247.5,1932.3 1251.3,1932.9 1256.1,1935.2C1260.8,1937.6 1264.7,1942.1 1269.0,1945.6C1273.3,1949.0 1277.2,1954.0 1282.0,1955.9C1286.7,1957.9 1270.9,1957.1 1297.5,1957.2C1324.1,1957.4 1414.7,1957.9 1441.4,1956.9C1468.2,1955.9 1453.5,1954.5 1458.0,1951.1C1462.5,1947.8 1464.9,1943.2 1468.3,1936.6C1471.8,1930.1 1475.6,1920.4 1478.7,1911.8C1481.8,1903.2 1484.2,1892.8 1487.0,1884.9C1489.7,1877.0 1492.5,1868.2 1495.2,1864.2C1498.0,1860.2 1500.1,1862.1 1503.5,1861.1C1507.0,1860.1 1512.8,1857.5 1515.9,1858.0C1519.0,1858.5 1520.1,1860.4 1522.2,1864.2C1524.2,1868.0 1525.9,1873.9 1528.4,1880.8C1530.8,1887.7 1533.9,1899.2 1536.6,1905.6C1539.4,1912.0 1542.5,1916.6 1544.9,1919.0C1547.3,1921.5 1549.1,1921.3 1551.1,1920.1C1553.2,1918.9 1554.9,1915.6 1557.3,1911.8C1559.8,1908.0 1562.9,1900.9 1565.6,1897.3C1568.4,1893.7 1570.5,1891.4 1573.9,1890.1C1577.4,1888.7 1581.5,1889.0 1586.3,1889.0C1591.2,1889.0 1599.1,1888.3 1602.9,1890.1C1606.7,1891.8 1606.3,1894.0 1609.1,1899.4C1611.9,1904.7 1616.4,1915.3 1619.5,1922.2C1622.6,1929.1 1624.6,1935.6 1627.7,1940.8C1630.8,1946.0 1634.6,1950.6 1638.1,1953.2C1641.5,1955.8 1644.0,1955.7 1648.4,1956.3C1652.9,1956.9 1660.5,1957.4 1665.0,1956.9C1669.5,1956.4 1671.9,1956.2 1675.4,1953.2C1678.8,1950.2 1682.6,1944.9 1685.7,1938.7C1688.8,1932.5 1691.2,1924.9 1694.0,1915.9C1696.8,1907.0 1699.5,1894.2 1702.3,1884.9C1705.0,1875.6 1707.8,1867.0 1710.6,1860.1C1713.3,1853.2 1716.1,1846.6 1718.8,1843.5C1721.6,1840.4 1723.0,1841.6 1727.1,1841.4C1731.3,1841.3 1739.5,1841.1 1743.7,1842.5C1747.8,1843.8 1749.2,1844.7 1752.0,1849.7C1754.7,1854.7 1757.5,1863.9 1760.2,1872.5C1763.0,1881.1 1765.8,1892.5 1768.5,1901.5C1771.3,1910.4 1774.1,1919.6 1776.8,1926.3C1779.6,1933.0 1781.8,1938.9 1785.1,1941.8C1788.4,1944.8 1793.4,1944.3 1796.8,1944.0C1800.1,1943.7 1802.0,1943.0 1805.2,1939.8C1808.3,1936.7 1812.5,1931.8 1815.7,1925.1C1818.8,1918.5 1821.3,1911.1 1824.1,1899.9C1826.9,1888.8 1829.7,1874.4 1832.5,1858.0C1835.3,1841.5 1838.0,1821.3 1840.8,1801.3C1843.6,1781.4 1846.4,1761.1 1849.2,1738.4C1852.0,1715.6 1855.2,1685.9 1857.6,1664.9C1860.1,1643.9 1861.8,1626.8 1863.9,1612.5C1866.0,1598.1 1868.1,1584.1 1870.2,1578.9C1872.3,1573.6 1874.8,1577.1 1876.5,1581.0C1878.3,1584.8 1879.0,1589.7 1880.7,1602.0C1882.5,1614.2 1884.9,1635.2 1887.0,1654.4C1889.1,1673.7 1890.9,1695.3 1893.3,1717.4C1895.7,1739.4 1898.9,1766.0 1901.7,1786.6C1904.5,1807.3 1907.3,1824.8 1910.1,1841.2C1912.9,1857.6 1915.7,1872.7 1918.5,1885.3C1921.3,1897.8 1923.7,1907.6 1926.9,1916.7C1930.0,1925.8 1933.9,1934.2 1937.4,1939.8C1940.9,1945.4 1943.7,1947.7 1947.9,1950.3C1952.1,1952.9 1955.5,1954.5 1962.5,1955.6C1969.5,1956.6 1977.1,1956.3 1989.8,1956.6C2002.6,1957.0 2030.9,1957.5 2039.1,1957.7" stroke="#EE6677" stroke-width="4.5"/>
<path d="M121.0,1957.2C133.9,1957.2 182.2,1957.6 198.6,1957.2C215.0,1956.9 212.0,1955.7 219.3,1955.2C226.7,1954.6 234.9,1953.9 242.6,1953.9C250.4,1953.9 258.2,1954.6 265.9,1955.2C273.7,1955.7 233.6,1956.9 289.2,1957.2C344.9,1957.6 546.5,1957.1 599.8,1957.2C653.0,1957.3 605.3,1958.9 608.8,1957.8C612.2,1956.7 616.9,1954.7 620.3,1950.6C623.6,1946.5 626.2,1938.2 628.9,1933.4C631.5,1928.6 630.6,1923.8 636.1,1921.9C641.6,1919.9 656.7,1920.4 661.9,1921.9C667.2,1923.3 665.8,1928.1 667.7,1930.5C669.6,1932.9 670.8,1937.2 673.5,1936.2C676.1,1935.3 679.9,1929.1 683.5,1924.7C687.1,1920.4 690.7,1915.2 695.0,1910.4C699.3,1905.6 704.6,1900.3 709.4,1896.0C714.2,1891.7 719.5,1886.9 723.8,1884.5C728.1,1882.1 730.5,1881.8 735.3,1881.6C740.1,1881.4 747.3,1882.1 752.5,1883.0C757.8,1884.0 762.6,1885.7 766.9,1887.4C771.2,1889.0 775.5,1891.7 778.4,1893.1C781.3,1894.5 782.2,1896.0 784.2,1896.0C786.1,1896.0 788.0,1897.4 789.9,1893.1C791.8,1888.8 793.5,1883.5 795.7,1870.1C797.8,1856.7 800.4,1836.6 802.8,1812.6C805.2,1788.6 807.6,1755.1 810.0,1726.3C812.4,1697.6 815.1,1663.1 817.2,1640.1C819.4,1617.0 820.8,1600.3 823.0,1588.3C825.1,1576.3 827.5,1571.3 830.2,1568.2C832.8,1565.0 835.7,1568.4 838.8,1569.6C841.9,1570.8 846.5,1572.2 848.8,1575.3C851.2,1578.5 851.5,1577.5 853.2,1588.3C854.8,1599.1 857.0,1619.4 858.9,1640.1C860.8,1660.7 862.7,1685.6 864.7,1711.9C866.6,1738.3 868.0,1767.1 870.4,1798.2C872.8,1829.4 876.2,1874.4 879.0,1898.9C881.9,1923.3 884.8,1935.5 887.7,1944.9C890.5,1954.2 892.5,1952.8 896.3,1954.9C900.1,1957.1 886.9,1957.4 910.7,1957.8C934.4,1958.2 1014.8,1958.4 1038.7,1957.2C1062.6,1956.1 1049.0,1952.6 1054.2,1950.8C1059.4,1948.9 1061.1,1946.9 1069.8,1946.1C1078.4,1945.3 1098.2,1945.3 1106.0,1946.1C1113.7,1946.9 1112.0,1949.0 1116.3,1950.8C1120.6,1952.5 1127.1,1956.0 1131.9,1956.5C1136.6,1956.9 1140.9,1956.5 1144.8,1953.4C1148.7,1950.3 1151.3,1942.6 1155.2,1937.8C1159.0,1933.1 1162.9,1929.0 1168.1,1924.9C1173.3,1920.8 1180.6,1915.6 1186.2,1913.3C1191.8,1910.9 1194.8,1911.0 1201.7,1910.7C1208.6,1910.4 1220.3,1910.8 1227.6,1911.4C1235.0,1912.1 1240.6,1912.3 1245.7,1914.5C1250.9,1916.8 1254.4,1920.2 1258.7,1924.9C1263.0,1929.6 1267.3,1937.8 1271.6,1943.0C1275.9,1948.2 1280.2,1953.6 1284.6,1955.9C1288.9,1958.3 1271.4,1957.0 1297.5,1957.2C1323.6,1957.5 1414.7,1958.0 1441.4,1957.3C1468.2,1956.7 1452.8,1955.3 1458.0,1953.2C1463.1,1951.1 1468.3,1949.1 1472.5,1944.9C1476.6,1940.8 1479.7,1934.2 1482.8,1928.4C1485.9,1922.5 1488.7,1913.9 1491.1,1909.7C1493.5,1905.6 1492.8,1904.7 1497.3,1903.5C1501.8,1902.3 1513.5,1901.8 1518.0,1902.5C1522.5,1903.2 1521.8,1904.4 1524.2,1907.7C1526.6,1910.9 1529.7,1917.5 1532.5,1922.2C1535.3,1926.8 1538.7,1933.0 1540.8,1935.6C1542.9,1938.2 1543.2,1938.5 1544.9,1937.7C1546.7,1936.8 1548.7,1935.1 1551.1,1930.4C1553.6,1925.8 1556.7,1917.0 1559.4,1909.7C1562.2,1902.5 1564.9,1893.0 1567.7,1887.0C1570.5,1880.9 1573.6,1876.1 1576.0,1873.5C1578.4,1870.9 1578.1,1871.6 1582.2,1871.4C1586.3,1871.3 1596.7,1871.3 1600.8,1872.5C1605.0,1873.7 1604.6,1873.9 1607.0,1878.7C1609.5,1883.5 1612.6,1893.9 1615.3,1901.5C1618.1,1909.0 1620.8,1917.3 1623.6,1924.2C1626.4,1931.1 1629.1,1938.0 1631.9,1942.9C1634.6,1947.7 1637.4,1950.9 1640.2,1953.2C1642.9,1955.5 1644.3,1956.2 1648.4,1956.9C1652.6,1957.6 1660.9,1957.6 1665.0,1957.3C1669.2,1957.1 1670.5,1957.7 1673.3,1955.3C1676.1,1952.9 1678.8,1948.4 1681.6,1942.9C1684.3,1937.3 1687.1,1931.1 1689.9,1922.2C1692.6,1913.2 1695.4,1900.4 1698.1,1889.0C1700.9,1877.6 1703.7,1864.9 1706.4,1853.8C1709.2,1842.8 1711.9,1829.7 1714.7,1822.8C1717.5,1815.9 1719.5,1813.8 1723.0,1812.4C1726.4,1811.1 1731.3,1813.5 1735.4,1814.5C1739.5,1815.6 1744.7,1816.2 1747.8,1818.7C1750.9,1821.1 1752.0,1823.5 1754.0,1829.0C1756.1,1834.5 1757.8,1842.5 1760.2,1851.8C1762.7,1861.1 1765.8,1874.2 1768.5,1884.9C1771.3,1895.6 1774.1,1907.0 1776.8,1915.9C1779.6,1924.9 1781.8,1933.7 1785.1,1938.7C1788.4,1943.7 1793.4,1945.6 1796.8,1946.1C1800.1,1946.6 1802.0,1944.7 1805.2,1941.9C1808.3,1939.1 1812.5,1935.3 1815.7,1929.3C1818.8,1923.4 1821.3,1916.0 1824.1,1906.2C1826.9,1896.5 1829.7,1884.6 1832.5,1870.6C1835.3,1856.6 1838.0,1839.8 1840.8,1822.3C1843.6,1804.8 1846.4,1784.9 1849.2,1765.6C1852.0,1746.4 1855.2,1724.4 1857.6,1706.9C1860.1,1689.4 1861.8,1673.3 1863.9,1660.7C1866.0,1648.1 1868.1,1636.6 1870.2,1631.3C1872.3,1626.1 1874.8,1627.2 1876.5,1629.2C1878.3,1631.3 1879.0,1633.8 1880.7,1643.9C1882.5,1654.1 1884.9,1673.3 1887.0,1690.1C1889.1,1706.9 1890.9,1726.1 1893.3,1744.7C1895.7,1763.2 1898.9,1783.8 1901.7,1801.3C1904.5,1818.8 1907.3,1835.2 1910.1,1849.6C1912.9,1863.9 1915.7,1876.5 1918.5,1887.4C1921.3,1898.2 1923.7,1906.6 1926.9,1914.6C1930.0,1922.7 1933.9,1930.0 1937.4,1935.6C1940.9,1941.2 1943.7,1944.7 1947.9,1948.2C1952.1,1951.7 1955.5,1955.0 1962.5,1956.6C1969.5,1958.2 1977.1,1957.5 1989.8,1957.7C2002.6,1957.8 2030.9,1957.7 2039.1,1957.7" stroke="#4477AA" stroke-width="4.5"/>
</g>
<line x1="144.1" y1="46.3" x2="219.6" y2="46.3" stroke="#000" stroke-width="4.4"/>
<line x1="144.1" y1="96.4" x2="219.6" y2="96.4" stroke="#4477AA" stroke-width="4.4"/>
<line x1="144.1" y1="147.1" x2="219.6" y2="147.1" stroke="#EE6677" stroke-width="4.4"/>
<text x="247.0" y="59.3" font-size="37.5" fill="#000" text-anchor="start" textLength="182.5" lengthAdjust="spacingAndGlyphs">SN 2022pul</text>
<text x="247.0" y="109.2" font-size="37.5" fill="#000" text-anchor="start" textLength="164.0" lengthAdjust="spacingAndGlyphs">MERGER</text>
<text x="247.0" y="160.2" font-size="37.5" fill="#000" text-anchor="start" textLength="523.0" lengthAdjust="spacingAndGlyphs">MERGER w/ clumping + 0.1 M</text>
<text x="783.2" y="166.0" font-size="26" fill="#000" text-anchor="middle" font-family='"DejaVu Sans", sans-serif'>⊙</text>
<text x="809.5" y="160.2" font-size="37.5" fill="#000" text-anchor="start" textLength="196.5" lengthAdjust="spacingAndGlyphs">central mass</text>
<text x="923.5" y="57.0" font-size="40" fill="#000" text-anchor="start" font-style="italic" font-family='"DejaVu Sans", sans-serif'>ℱ</text>
<text x="953.4" y="63.4" font-size="29.5" textLength="145.9" lengthAdjust="spacingAndGlyphs">0.35−1 <tspan font-style="italic">μ</tspan>m</text>
<line x1="1114.7" y1="39.9" x2="1141.8" y2="39.9" stroke="#000" stroke-width="2.2"/>
<line x1="1114.7" y1="52.5" x2="1141.8" y2="52.5" stroke="#000" stroke-width="2.2"/>
<text x="1155.8" y="58.0" font-size="42" fill="#000" text-anchor="start" textLength="69.0" lengthAdjust="spacingAndGlyphs">0.63</text>
<text x="943.5" y="747.0" font-size="40" fill="#000" text-anchor="start" font-style="italic" font-family='"DejaVu Sans", sans-serif'>ℱ</text>
<text x="975.2" y="752.5" font-size="29.5" textLength="104.1" lengthAdjust="spacingAndGlyphs">1−5 <tspan font-style="italic">μ</tspan>m</text>
<line x1="1094.7" y1="729.2" x2="1121.9" y2="729.2" stroke="#000" stroke-width="2.2"/>
<line x1="1094.7" y1="741.8" x2="1121.9" y2="741.8" stroke="#000" stroke-width="2.2"/>
<text x="1135.0" y="748.0" font-size="42" fill="#000" text-anchor="start" textLength="68.9" lengthAdjust="spacingAndGlyphs">0.16</text>
<text x="941.7" y="1447.5" font-size="40" fill="#000" text-anchor="start" font-style="italic" font-family='"DejaVu Sans", sans-serif'>ℱ</text>
<text x="971.6" y="1453.9" font-size="29.5" textLength="120.4" lengthAdjust="spacingAndGlyphs">5−14 <tspan font-style="italic">μ</tspan>m</text>
<line x1="1107.4" y1="1430.2" x2="1134.6" y2="1430.2" stroke="#000" stroke-width="2.2"/>
<line x1="1107.4" y1="1442.8" x2="1134.6" y2="1442.8" stroke="#000" stroke-width="2.2"/>
<text x="1148.6" y="1449.4" font-size="42" fill="#000" text-anchor="start" textLength="68.0" lengthAdjust="spacingAndGlyphs">0.20</text>
<text x="952.0" y="2044.0" font-size="38.5" fill="#000" text-anchor="start" textLength="278.0" lengthAdjust="spacingAndGlyphs">Wavelength [<tspan font-style="italic">μ</tspan>m]</text>
<text x="29.8" y="357.5" font-size="39" fill="#000" text-anchor="start" font-style="italic" transform="rotate(-90 29.8 357.5)">F</text>
<text x="35.8" y="335.5" font-size="28" fill="#000" text-anchor="start" font-style="italic" transform="rotate(-90 35.8 335.5)">ν</text>
<text x="29.8" y="300.0" font-size="38.5" fill="#000" text-anchor="start" textLength="87.7" lengthAdjust="spacingAndGlyphs" transform="rotate(-90 29.8 300.0)">[mJy]</text>
<text x="30.0" y="1050.5" font-size="39" fill="#000" text-anchor="start" font-style="italic" transform="rotate(-90 30.0 1050.5)">F</text>
<text x="36.0" y="1028.5" font-size="28" fill="#000" text-anchor="start" font-style="italic" transform="rotate(-90 36.0 1028.5)">ν</text>
<text x="30.0" y="993.0" font-size="38.5" fill="#000" text-anchor="start" textLength="90.7" lengthAdjust="spacingAndGlyphs" transform="rotate(-90 30.0 993.0)">[mJy]</text>
<text x="62.9" y="1740.8" font-size="39" fill="#000" text-anchor="start" font-style="italic" transform="rotate(-90 62.9 1740.8)">F</text>
<text x="68.9" y="1718.8" font-size="28" fill="#000" text-anchor="start" font-style="italic" transform="rotate(-90 68.9 1718.8)">ν</text>
<text x="62.9" y="1683.3" font-size="38.5" fill="#000" text-anchor="start" textLength="84.9" lengthAdjust="spacingAndGlyphs" transform="rotate(-90 62.9 1683.3)">[mJy]</text>
</svg></body></html>
